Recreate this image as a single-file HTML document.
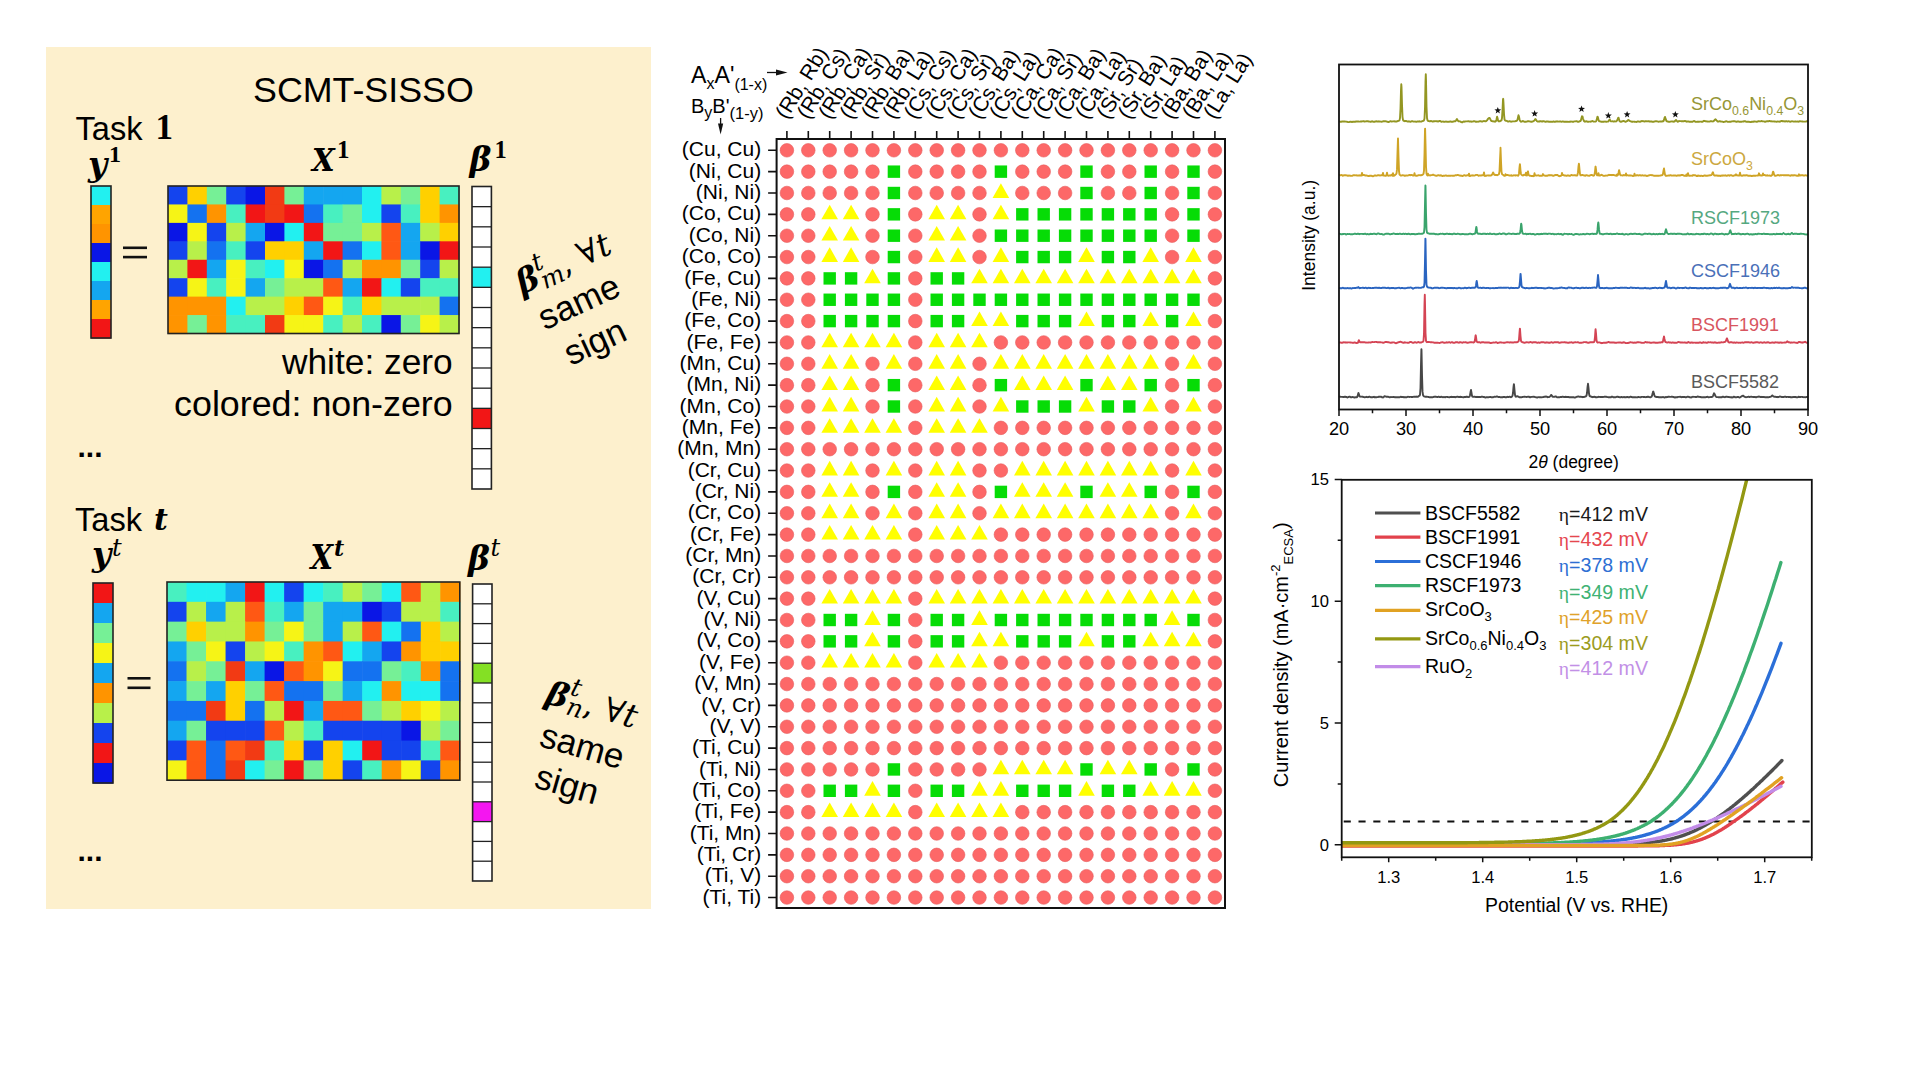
<!DOCTYPE html><html><head><meta charset="utf-8"><title>SCMT-SISSO</title><style>html,body{margin:0;padding:0;background:#fff;}body{width:1920px;height:1080px;overflow:hidden;}svg{display:block;}</style></head><body><svg width="1920" height="1080" viewBox="0 0 1920 1080"><rect x="46" y="47" width="605" height="862" fill="#fdf0cd"/>
<text x="253" y="101.8" font-family="'Liberation Sans', Arial, sans-serif" font-size="35.8">SCMT-SISSO</text>
<text x="75.5" y="139.8" font-family="'Liberation Sans', Arial, sans-serif" font-size="32.6">Task</text>
<text x="155.5" y="139.4" font-family="'Liberation Serif', 'DejaVu Serif', serif" font-size="35" font-weight="bold">1</text>
<text x="88" y="175.8" font-family="'DejaVu Serif', 'Liberation Serif', serif" font-weight="bold" font-style="italic" font-size="33">y</text>
<text x="109" y="161.8" font-family="'Liberation Serif', 'DejaVu Serif', serif" font-size="24" font-weight="bold">1</text>
<text transform="translate(312,170.6) scale(0.9,1)" font-family="'DejaVu Serif', 'Liberation Serif', serif" font-weight="bold" font-style="italic" font-size="32.5">X</text>
<text x="337" y="157.7" font-family="'Liberation Serif', 'DejaVu Serif', serif" font-size="25" font-weight="bold">1</text>
<text x="469.6" y="171.4" font-family="'DejaVu Serif', 'Liberation Serif', serif" font-weight="bold" font-style="italic" font-size="33">&#946;</text>
<text x="494.5" y="157.7" font-family="'Liberation Serif', 'DejaVu Serif', serif" font-size="24.5" font-weight="bold">1</text>
<rect x="168" y="186" width="20" height="19.04" fill="#1444ee"/>
<rect x="187.4" y="186" width="20" height="19.04" fill="#ffd000"/>
<rect x="206.8" y="186" width="20" height="19.04" fill="#76f096"/>
<rect x="226.2" y="186" width="20" height="19.04" fill="#1444ee"/>
<rect x="245.6" y="186" width="20" height="19.04" fill="#0a16e6"/>
<rect x="265" y="186" width="20" height="19.04" fill="#f23a14"/>
<rect x="284.4" y="186" width="20" height="19.04" fill="#76f096"/>
<rect x="303.8" y="186" width="20" height="19.04" fill="#14a6f0"/>
<rect x="323.2" y="186" width="20" height="19.04" fill="#14a6f0"/>
<rect x="342.6" y="186" width="20" height="19.04" fill="#14a6f0"/>
<rect x="362" y="186" width="20" height="19.04" fill="#22f0f0"/>
<rect x="381.4" y="186" width="20" height="19.04" fill="#b8f04a"/>
<rect x="400.8" y="186" width="20" height="19.04" fill="#76f096"/>
<rect x="420.2" y="186" width="20" height="19.04" fill="#ffd000"/>
<rect x="439.6" y="186" width="20" height="19.04" fill="#48f0c0"/>
<rect x="168" y="204.44" width="20" height="19.04" fill="#f6f416"/>
<rect x="187.4" y="204.44" width="20" height="19.04" fill="#1472f0"/>
<rect x="206.8" y="204.44" width="20" height="19.04" fill="#ff9400"/>
<rect x="226.2" y="204.44" width="20" height="19.04" fill="#48f0c0"/>
<rect x="245.6" y="204.44" width="20" height="19.04" fill="#f21616"/>
<rect x="265" y="204.44" width="20" height="19.04" fill="#f23a14"/>
<rect x="284.4" y="204.44" width="20" height="19.04" fill="#f21616"/>
<rect x="303.8" y="204.44" width="20" height="19.04" fill="#1472f0"/>
<rect x="323.2" y="204.44" width="20" height="19.04" fill="#48f0c0"/>
<rect x="342.6" y="204.44" width="20" height="19.04" fill="#76f096"/>
<rect x="362" y="204.44" width="20" height="19.04" fill="#22f0f0"/>
<rect x="381.4" y="204.44" width="20" height="19.04" fill="#1444ee"/>
<rect x="400.8" y="204.44" width="20" height="19.04" fill="#48f0c0"/>
<rect x="420.2" y="204.44" width="20" height="19.04" fill="#ffd000"/>
<rect x="439.6" y="204.44" width="20" height="19.04" fill="#ff9400"/>
<rect x="168" y="222.88" width="20" height="19.04" fill="#0a16e6"/>
<rect x="187.4" y="222.88" width="20" height="19.04" fill="#f6f416"/>
<rect x="206.8" y="222.88" width="20" height="19.04" fill="#1444ee"/>
<rect x="226.2" y="222.88" width="20" height="19.04" fill="#b8f04a"/>
<rect x="245.6" y="222.88" width="20" height="19.04" fill="#14a6f0"/>
<rect x="265" y="222.88" width="20" height="19.04" fill="#0a16e6"/>
<rect x="284.4" y="222.88" width="20" height="19.04" fill="#22f0f0"/>
<rect x="303.8" y="222.88" width="20" height="19.04" fill="#f21616"/>
<rect x="323.2" y="222.88" width="20" height="19.04" fill="#76f096"/>
<rect x="342.6" y="222.88" width="20" height="19.04" fill="#76f096"/>
<rect x="362" y="222.88" width="20" height="19.04" fill="#b8f04a"/>
<rect x="381.4" y="222.88" width="20" height="19.04" fill="#ff5814"/>
<rect x="400.8" y="222.88" width="20" height="19.04" fill="#14a6f0"/>
<rect x="420.2" y="222.88" width="20" height="19.04" fill="#b8f04a"/>
<rect x="439.6" y="222.88" width="20" height="19.04" fill="#ffd000"/>
<rect x="168" y="241.31" width="20" height="19.04" fill="#1444ee"/>
<rect x="187.4" y="241.31" width="20" height="19.04" fill="#b8f04a"/>
<rect x="206.8" y="241.31" width="20" height="19.04" fill="#1472f0"/>
<rect x="226.2" y="241.31" width="20" height="19.04" fill="#48f0c0"/>
<rect x="245.6" y="241.31" width="20" height="19.04" fill="#1444ee"/>
<rect x="265" y="241.31" width="20" height="19.04" fill="#ffd000"/>
<rect x="284.4" y="241.31" width="20" height="19.04" fill="#ffd000"/>
<rect x="303.8" y="241.31" width="20" height="19.04" fill="#14a6f0"/>
<rect x="323.2" y="241.31" width="20" height="19.04" fill="#f21616"/>
<rect x="342.6" y="241.31" width="20" height="19.04" fill="#1472f0"/>
<rect x="362" y="241.31" width="20" height="19.04" fill="#22f0f0"/>
<rect x="381.4" y="241.31" width="20" height="19.04" fill="#ff5814"/>
<rect x="400.8" y="241.31" width="20" height="19.04" fill="#14a6f0"/>
<rect x="420.2" y="241.31" width="20" height="19.04" fill="#0a16e6"/>
<rect x="439.6" y="241.31" width="20" height="19.04" fill="#f21616"/>
<rect x="168" y="259.75" width="20" height="19.04" fill="#b8f04a"/>
<rect x="187.4" y="259.75" width="20" height="19.04" fill="#f21616"/>
<rect x="206.8" y="259.75" width="20" height="19.04" fill="#14a6f0"/>
<rect x="226.2" y="259.75" width="20" height="19.04" fill="#f6f416"/>
<rect x="245.6" y="259.75" width="20" height="19.04" fill="#48f0c0"/>
<rect x="265" y="259.75" width="20" height="19.04" fill="#22f0f0"/>
<rect x="284.4" y="259.75" width="20" height="19.04" fill="#f6f416"/>
<rect x="303.8" y="259.75" width="20" height="19.04" fill="#0a16e6"/>
<rect x="323.2" y="259.75" width="20" height="19.04" fill="#1472f0"/>
<rect x="342.6" y="259.75" width="20" height="19.04" fill="#b8f04a"/>
<rect x="362" y="259.75" width="20" height="19.04" fill="#ff9400"/>
<rect x="381.4" y="259.75" width="20" height="19.04" fill="#ff9400"/>
<rect x="400.8" y="259.75" width="20" height="19.04" fill="#76f096"/>
<rect x="420.2" y="259.75" width="20" height="19.04" fill="#1444ee"/>
<rect x="439.6" y="259.75" width="20" height="19.04" fill="#b8f04a"/>
<rect x="168" y="278.19" width="20" height="19.04" fill="#1444ee"/>
<rect x="187.4" y="278.19" width="20" height="19.04" fill="#f6f416"/>
<rect x="206.8" y="278.19" width="20" height="19.04" fill="#48f0c0"/>
<rect x="226.2" y="278.19" width="20" height="19.04" fill="#f6f416"/>
<rect x="245.6" y="278.19" width="20" height="19.04" fill="#14a6f0"/>
<rect x="265" y="278.19" width="20" height="19.04" fill="#76f096"/>
<rect x="284.4" y="278.19" width="20" height="19.04" fill="#b8f04a"/>
<rect x="303.8" y="278.19" width="20" height="19.04" fill="#b8f04a"/>
<rect x="323.2" y="278.19" width="20" height="19.04" fill="#ff5814"/>
<rect x="342.6" y="278.19" width="20" height="19.04" fill="#14a6f0"/>
<rect x="362" y="278.19" width="20" height="19.04" fill="#f21616"/>
<rect x="381.4" y="278.19" width="20" height="19.04" fill="#22f0f0"/>
<rect x="400.8" y="278.19" width="20" height="19.04" fill="#1444ee"/>
<rect x="420.2" y="278.19" width="20" height="19.04" fill="#48f0c0"/>
<rect x="439.6" y="278.19" width="20" height="19.04" fill="#48f0c0"/>
<rect x="168" y="296.62" width="20" height="19.04" fill="#ff9400"/>
<rect x="187.4" y="296.62" width="20" height="19.04" fill="#ff9400"/>
<rect x="206.8" y="296.62" width="20" height="19.04" fill="#ff9400"/>
<rect x="226.2" y="296.62" width="20" height="19.04" fill="#22f0f0"/>
<rect x="245.6" y="296.62" width="20" height="19.04" fill="#b8f04a"/>
<rect x="265" y="296.62" width="20" height="19.04" fill="#b8f04a"/>
<rect x="284.4" y="296.62" width="20" height="19.04" fill="#ffd000"/>
<rect x="303.8" y="296.62" width="20" height="19.04" fill="#ff5814"/>
<rect x="323.2" y="296.62" width="20" height="19.04" fill="#f6f416"/>
<rect x="342.6" y="296.62" width="20" height="19.04" fill="#48f0c0"/>
<rect x="362" y="296.62" width="20" height="19.04" fill="#ffd000"/>
<rect x="381.4" y="296.62" width="20" height="19.04" fill="#b8f04a"/>
<rect x="400.8" y="296.62" width="20" height="19.04" fill="#b8f04a"/>
<rect x="420.2" y="296.62" width="20" height="19.04" fill="#b8f04a"/>
<rect x="439.6" y="296.62" width="20" height="19.04" fill="#1472f0"/>
<rect x="168" y="315.06" width="20" height="19.04" fill="#ff9400"/>
<rect x="187.4" y="315.06" width="20" height="19.04" fill="#76f096"/>
<rect x="206.8" y="315.06" width="20" height="19.04" fill="#ff9400"/>
<rect x="226.2" y="315.06" width="20" height="19.04" fill="#48f0c0"/>
<rect x="245.6" y="315.06" width="20" height="19.04" fill="#48f0c0"/>
<rect x="265" y="315.06" width="20" height="19.04" fill="#f23a14"/>
<rect x="284.4" y="315.06" width="20" height="19.04" fill="#f6f416"/>
<rect x="303.8" y="315.06" width="20" height="19.04" fill="#f6f416"/>
<rect x="323.2" y="315.06" width="20" height="19.04" fill="#48f0c0"/>
<rect x="342.6" y="315.06" width="20" height="19.04" fill="#b8f04a"/>
<rect x="362" y="315.06" width="20" height="19.04" fill="#48f0c0"/>
<rect x="381.4" y="315.06" width="20" height="19.04" fill="#0a16e6"/>
<rect x="400.8" y="315.06" width="20" height="19.04" fill="#76f096"/>
<rect x="420.2" y="315.06" width="20" height="19.04" fill="#f6f416"/>
<rect x="439.6" y="315.06" width="20" height="19.04" fill="#b8f04a"/>
<rect x="168" y="186" width="291" height="147.5" fill="none" stroke="#222" stroke-width="1.6"/>
<rect x="91" y="186" width="20" height="19.6" fill="#22f0f0"/>
<rect x="91" y="205" width="20" height="19.6" fill="#ffa400"/>
<rect x="91" y="224" width="20" height="19.6" fill="#ff9400"/>
<rect x="91" y="243" width="20" height="19.6" fill="#0a16e6"/>
<rect x="91" y="262" width="20" height="19.6" fill="#22f0f0"/>
<rect x="91" y="281" width="20" height="19.6" fill="#14a6f0"/>
<rect x="91" y="300" width="20" height="19.6" fill="#ffa400"/>
<rect x="91" y="319" width="20" height="19.6" fill="#f21616"/>
<rect x="91" y="186" width="20" height="152" fill="none" stroke="#222" stroke-width="1.6"/>
<rect x="472" y="186.5" width="19.4" height="20.77" fill="#ffffff"/>
<rect x="472" y="206.67" width="19.4" height="20.77" fill="#ffffff"/>
<rect x="472" y="226.83" width="19.4" height="20.77" fill="#ffffff"/>
<rect x="472" y="247" width="19.4" height="20.77" fill="#ffffff"/>
<rect x="472" y="267.17" width="19.4" height="20.77" fill="#22f0f0"/>
<rect x="472" y="287.33" width="19.4" height="20.77" fill="#ffffff"/>
<rect x="472" y="307.5" width="19.4" height="20.77" fill="#ffffff"/>
<rect x="472" y="327.67" width="19.4" height="20.77" fill="#ffffff"/>
<rect x="472" y="347.83" width="19.4" height="20.77" fill="#ffffff"/>
<rect x="472" y="368" width="19.4" height="20.77" fill="#ffffff"/>
<rect x="472" y="388.17" width="19.4" height="20.77" fill="#ffffff"/>
<rect x="472" y="408.33" width="19.4" height="20.77" fill="#f21616"/>
<rect x="472" y="428.5" width="19.4" height="20.77" fill="#ffffff"/>
<rect x="472" y="448.67" width="19.4" height="20.77" fill="#ffffff"/>
<rect x="472" y="468.83" width="19.4" height="20.77" fill="#ffffff"/>
<line x1="472" y1="206.67" x2="491.4" y2="206.67" stroke="#222" stroke-width="1.3"/>
<line x1="472" y1="226.83" x2="491.4" y2="226.83" stroke="#222" stroke-width="1.3"/>
<line x1="472" y1="247" x2="491.4" y2="247" stroke="#222" stroke-width="1.3"/>
<line x1="472" y1="267.17" x2="491.4" y2="267.17" stroke="#222" stroke-width="1.3"/>
<line x1="472" y1="287.33" x2="491.4" y2="287.33" stroke="#222" stroke-width="1.3"/>
<line x1="472" y1="307.5" x2="491.4" y2="307.5" stroke="#222" stroke-width="1.3"/>
<line x1="472" y1="327.67" x2="491.4" y2="327.67" stroke="#222" stroke-width="1.3"/>
<line x1="472" y1="347.83" x2="491.4" y2="347.83" stroke="#222" stroke-width="1.3"/>
<line x1="472" y1="368" x2="491.4" y2="368" stroke="#222" stroke-width="1.3"/>
<line x1="472" y1="388.17" x2="491.4" y2="388.17" stroke="#222" stroke-width="1.3"/>
<line x1="472" y1="408.33" x2="491.4" y2="408.33" stroke="#222" stroke-width="1.3"/>
<line x1="472" y1="428.5" x2="491.4" y2="428.5" stroke="#222" stroke-width="1.3"/>
<line x1="472" y1="448.67" x2="491.4" y2="448.67" stroke="#222" stroke-width="1.3"/>
<line x1="472" y1="468.83" x2="491.4" y2="468.83" stroke="#222" stroke-width="1.3"/>
<rect x="472" y="186.5" width="19.4" height="302.5" fill="none" stroke="#222" stroke-width="1.6"/>
<rect x="123" y="246.5" width="24" height="2.6" fill="#111"/>
<rect x="123" y="255.8" width="24" height="2.6" fill="#111"/>
<text x="452.7" y="373.8" text-anchor="end" font-family="'Liberation Sans', Arial, sans-serif" font-size="35.3">white: zero</text>
<text x="452.7" y="416.4" text-anchor="end" font-family="'Liberation Sans', Arial, sans-serif" font-size="35.8">colored: non-zero</text>
<text x="77.5" y="457" font-family="'Liberation Sans', Arial, sans-serif" font-size="30" font-weight="bold">...</text>
<g transform="translate(580,304.4) rotate(-24.6)" font-family="'Liberation Sans', Arial, sans-serif" font-size="35" text-anchor="middle">
<text x="0" y="9">same</text><text x="-2" y="52">sign</text>
<g transform="translate(2,-33)" text-anchor="middle"><text x="0" y="0" font-family="'DejaVu Serif', 'Liberation Serif', serif" font-size="33"><tspan font-weight="bold" font-style="italic">&#946;</tspan><tspan font-style="italic" font-size="25" dy="-15">t</tspan><tspan font-style="italic" font-size="25" dx="-9" dy="20">m</tspan><tspan dy="-5">, &#8704;</tspan><tspan font-style="italic">t</tspan></text></g>
</g>
<text x="75" y="530.8" font-family="'Liberation Sans', Arial, sans-serif" font-size="32.6">Task</text>
<text x="154" y="530" font-family="'DejaVu Serif', 'Liberation Serif', serif" font-weight="bold" font-style="italic" font-size="30">t</text>
<text x="92" y="566" font-family="'DejaVu Serif', 'Liberation Serif', serif" font-weight="bold" font-style="italic" font-size="33">y</text>
<text x="112" y="556.2" font-family="'DejaVu Serif', 'Liberation Serif', serif" font-size="24" font-style="italic">t</text>
<text transform="translate(310.5,569.1) scale(0.88,1)" font-family="'DejaVu Serif', 'Liberation Serif', serif" font-weight="bold" font-style="italic" font-size="33">X</text>
<text x="334" y="556" font-family="'DejaVu Serif', 'Liberation Serif', serif" font-weight="bold" font-style="italic" font-size="22">t</text>
<text x="468" y="569.5" font-family="'DejaVu Serif', 'Liberation Serif', serif" font-weight="bold" font-style="italic" font-size="33">&#946;</text>
<text x="490.5" y="556" font-family="'DejaVu Serif', 'Liberation Serif', serif" font-size="24" font-style="italic">t</text>
<rect x="167" y="582" width="20.12" height="20.42" fill="#48f0c0"/>
<rect x="186.52" y="582" width="20.12" height="20.42" fill="#22f0f0"/>
<rect x="206.04" y="582" width="20.12" height="20.42" fill="#22f0f0"/>
<rect x="225.56" y="582" width="20.12" height="20.42" fill="#14a6f0"/>
<rect x="245.08" y="582" width="20.12" height="20.42" fill="#f21616"/>
<rect x="264.6" y="582" width="20.12" height="20.42" fill="#22f0f0"/>
<rect x="284.12" y="582" width="20.12" height="20.42" fill="#1444ee"/>
<rect x="303.64" y="582" width="20.12" height="20.42" fill="#22f0f0"/>
<rect x="323.16" y="582" width="20.12" height="20.42" fill="#48f0c0"/>
<rect x="342.68" y="582" width="20.12" height="20.42" fill="#b8f04a"/>
<rect x="362.2" y="582" width="20.12" height="20.42" fill="#76f096"/>
<rect x="381.72" y="582" width="20.12" height="20.42" fill="#22f0f0"/>
<rect x="401.24" y="582" width="20.12" height="20.42" fill="#ff5814"/>
<rect x="420.76" y="582" width="20.12" height="20.42" fill="#b8f04a"/>
<rect x="440.28" y="582" width="20.12" height="20.42" fill="#ff9400"/>
<rect x="167" y="601.82" width="20.12" height="20.42" fill="#1444ee"/>
<rect x="186.52" y="601.82" width="20.12" height="20.42" fill="#b8f04a"/>
<rect x="206.04" y="601.82" width="20.12" height="20.42" fill="#14a6f0"/>
<rect x="225.56" y="601.82" width="20.12" height="20.42" fill="#b8f04a"/>
<rect x="245.08" y="601.82" width="20.12" height="20.42" fill="#ff5814"/>
<rect x="264.6" y="601.82" width="20.12" height="20.42" fill="#48f0c0"/>
<rect x="284.12" y="601.82" width="20.12" height="20.42" fill="#14a6f0"/>
<rect x="303.64" y="601.82" width="20.12" height="20.42" fill="#76f096"/>
<rect x="323.16" y="601.82" width="20.12" height="20.42" fill="#14a6f0"/>
<rect x="342.68" y="601.82" width="20.12" height="20.42" fill="#14a6f0"/>
<rect x="362.2" y="601.82" width="20.12" height="20.42" fill="#0a16e6"/>
<rect x="381.72" y="601.82" width="20.12" height="20.42" fill="#1444ee"/>
<rect x="401.24" y="601.82" width="20.12" height="20.42" fill="#b8f04a"/>
<rect x="420.76" y="601.82" width="20.12" height="20.42" fill="#b8f04a"/>
<rect x="440.28" y="601.82" width="20.12" height="20.42" fill="#48f0c0"/>
<rect x="167" y="621.64" width="20.12" height="20.42" fill="#76f096"/>
<rect x="186.52" y="621.64" width="20.12" height="20.42" fill="#ffd000"/>
<rect x="206.04" y="621.64" width="20.12" height="20.42" fill="#b8f04a"/>
<rect x="225.56" y="621.64" width="20.12" height="20.42" fill="#b8f04a"/>
<rect x="245.08" y="621.64" width="20.12" height="20.42" fill="#ff9400"/>
<rect x="264.6" y="621.64" width="20.12" height="20.42" fill="#76f096"/>
<rect x="284.12" y="621.64" width="20.12" height="20.42" fill="#f6f416"/>
<rect x="303.64" y="621.64" width="20.12" height="20.42" fill="#76f096"/>
<rect x="323.16" y="621.64" width="20.12" height="20.42" fill="#14a6f0"/>
<rect x="342.68" y="621.64" width="20.12" height="20.42" fill="#b8f04a"/>
<rect x="362.2" y="621.64" width="20.12" height="20.42" fill="#ff5814"/>
<rect x="381.72" y="621.64" width="20.12" height="20.42" fill="#22f0f0"/>
<rect x="401.24" y="621.64" width="20.12" height="20.42" fill="#1472f0"/>
<rect x="420.76" y="621.64" width="20.12" height="20.42" fill="#ffd000"/>
<rect x="440.28" y="621.64" width="20.12" height="20.42" fill="#b8f04a"/>
<rect x="167" y="641.46" width="20.12" height="20.42" fill="#14a6f0"/>
<rect x="186.52" y="641.46" width="20.12" height="20.42" fill="#76f096"/>
<rect x="206.04" y="641.46" width="20.12" height="20.42" fill="#f6f416"/>
<rect x="225.56" y="641.46" width="20.12" height="20.42" fill="#1444ee"/>
<rect x="245.08" y="641.46" width="20.12" height="20.42" fill="#b8f04a"/>
<rect x="264.6" y="641.46" width="20.12" height="20.42" fill="#f6f416"/>
<rect x="284.12" y="641.46" width="20.12" height="20.42" fill="#48f0c0"/>
<rect x="303.64" y="641.46" width="20.12" height="20.42" fill="#ff9400"/>
<rect x="323.16" y="641.46" width="20.12" height="20.42" fill="#ff5814"/>
<rect x="342.68" y="641.46" width="20.12" height="20.42" fill="#22f0f0"/>
<rect x="362.2" y="641.46" width="20.12" height="20.42" fill="#14a6f0"/>
<rect x="381.72" y="641.46" width="20.12" height="20.42" fill="#1444ee"/>
<rect x="401.24" y="641.46" width="20.12" height="20.42" fill="#ff9400"/>
<rect x="420.76" y="641.46" width="20.12" height="20.42" fill="#ffd000"/>
<rect x="440.28" y="641.46" width="20.12" height="20.42" fill="#ffd000"/>
<rect x="167" y="661.28" width="20.12" height="20.42" fill="#1472f0"/>
<rect x="186.52" y="661.28" width="20.12" height="20.42" fill="#b8f04a"/>
<rect x="206.04" y="661.28" width="20.12" height="20.42" fill="#76f096"/>
<rect x="225.56" y="661.28" width="20.12" height="20.42" fill="#f23a14"/>
<rect x="245.08" y="661.28" width="20.12" height="20.42" fill="#14a6f0"/>
<rect x="264.6" y="661.28" width="20.12" height="20.42" fill="#0a16e6"/>
<rect x="284.12" y="661.28" width="20.12" height="20.42" fill="#ff5814"/>
<rect x="303.64" y="661.28" width="20.12" height="20.42" fill="#ff9400"/>
<rect x="323.16" y="661.28" width="20.12" height="20.42" fill="#f6f416"/>
<rect x="342.68" y="661.28" width="20.12" height="20.42" fill="#1472f0"/>
<rect x="362.2" y="661.28" width="20.12" height="20.42" fill="#1472f0"/>
<rect x="381.72" y="661.28" width="20.12" height="20.42" fill="#76f096"/>
<rect x="401.24" y="661.28" width="20.12" height="20.42" fill="#48f0c0"/>
<rect x="420.76" y="661.28" width="20.12" height="20.42" fill="#ff9400"/>
<rect x="440.28" y="661.28" width="20.12" height="20.42" fill="#1472f0"/>
<rect x="167" y="681.1" width="20.12" height="20.42" fill="#14a6f0"/>
<rect x="186.52" y="681.1" width="20.12" height="20.42" fill="#76f096"/>
<rect x="206.04" y="681.1" width="20.12" height="20.42" fill="#14a6f0"/>
<rect x="225.56" y="681.1" width="20.12" height="20.42" fill="#ffd000"/>
<rect x="245.08" y="681.1" width="20.12" height="20.42" fill="#76f096"/>
<rect x="264.6" y="681.1" width="20.12" height="20.42" fill="#ff5814"/>
<rect x="284.12" y="681.1" width="20.12" height="20.42" fill="#1472f0"/>
<rect x="303.64" y="681.1" width="20.12" height="20.42" fill="#1472f0"/>
<rect x="323.16" y="681.1" width="20.12" height="20.42" fill="#76f096"/>
<rect x="342.68" y="681.1" width="20.12" height="20.42" fill="#14a6f0"/>
<rect x="362.2" y="681.1" width="20.12" height="20.42" fill="#22f0f0"/>
<rect x="381.72" y="681.1" width="20.12" height="20.42" fill="#ff9400"/>
<rect x="401.24" y="681.1" width="20.12" height="20.42" fill="#22f0f0"/>
<rect x="420.76" y="681.1" width="20.12" height="20.42" fill="#22f0f0"/>
<rect x="440.28" y="681.1" width="20.12" height="20.42" fill="#1472f0"/>
<rect x="167" y="700.92" width="20.12" height="20.42" fill="#1472f0"/>
<rect x="186.52" y="700.92" width="20.12" height="20.42" fill="#1472f0"/>
<rect x="206.04" y="700.92" width="20.12" height="20.42" fill="#f23a14"/>
<rect x="225.56" y="700.92" width="20.12" height="20.42" fill="#ffd000"/>
<rect x="245.08" y="700.92" width="20.12" height="20.42" fill="#1472f0"/>
<rect x="264.6" y="700.92" width="20.12" height="20.42" fill="#b8f04a"/>
<rect x="284.12" y="700.92" width="20.12" height="20.42" fill="#f21616"/>
<rect x="303.64" y="700.92" width="20.12" height="20.42" fill="#14a6f0"/>
<rect x="323.16" y="700.92" width="20.12" height="20.42" fill="#ff5814"/>
<rect x="342.68" y="700.92" width="20.12" height="20.42" fill="#ff5814"/>
<rect x="362.2" y="700.92" width="20.12" height="20.42" fill="#76f096"/>
<rect x="381.72" y="700.92" width="20.12" height="20.42" fill="#b8f04a"/>
<rect x="401.24" y="700.92" width="20.12" height="20.42" fill="#ffd000"/>
<rect x="420.76" y="700.92" width="20.12" height="20.42" fill="#f6f416"/>
<rect x="440.28" y="700.92" width="20.12" height="20.42" fill="#b8f04a"/>
<rect x="167" y="720.74" width="20.12" height="20.42" fill="#14a6f0"/>
<rect x="186.52" y="720.74" width="20.12" height="20.42" fill="#76f096"/>
<rect x="206.04" y="720.74" width="20.12" height="20.42" fill="#1444ee"/>
<rect x="225.56" y="720.74" width="20.12" height="20.42" fill="#1444ee"/>
<rect x="245.08" y="720.74" width="20.12" height="20.42" fill="#1444ee"/>
<rect x="264.6" y="720.74" width="20.12" height="20.42" fill="#ff5814"/>
<rect x="284.12" y="720.74" width="20.12" height="20.42" fill="#b8f04a"/>
<rect x="303.64" y="720.74" width="20.12" height="20.42" fill="#48f0c0"/>
<rect x="323.16" y="720.74" width="20.12" height="20.42" fill="#1444ee"/>
<rect x="342.68" y="720.74" width="20.12" height="20.42" fill="#1444ee"/>
<rect x="362.2" y="720.74" width="20.12" height="20.42" fill="#1444ee"/>
<rect x="381.72" y="720.74" width="20.12" height="20.42" fill="#1444ee"/>
<rect x="401.24" y="720.74" width="20.12" height="20.42" fill="#0a16e6"/>
<rect x="420.76" y="720.74" width="20.12" height="20.42" fill="#b8f04a"/>
<rect x="440.28" y="720.74" width="20.12" height="20.42" fill="#76f096"/>
<rect x="167" y="740.56" width="20.12" height="20.42" fill="#1444ee"/>
<rect x="186.52" y="740.56" width="20.12" height="20.42" fill="#ff5814"/>
<rect x="206.04" y="740.56" width="20.12" height="20.42" fill="#1472f0"/>
<rect x="225.56" y="740.56" width="20.12" height="20.42" fill="#ff5814"/>
<rect x="245.08" y="740.56" width="20.12" height="20.42" fill="#f23a14"/>
<rect x="264.6" y="740.56" width="20.12" height="20.42" fill="#48f0c0"/>
<rect x="284.12" y="740.56" width="20.12" height="20.42" fill="#ffd000"/>
<rect x="303.64" y="740.56" width="20.12" height="20.42" fill="#1444ee"/>
<rect x="323.16" y="740.56" width="20.12" height="20.42" fill="#ffd000"/>
<rect x="342.68" y="740.56" width="20.12" height="20.42" fill="#22f0f0"/>
<rect x="362.2" y="740.56" width="20.12" height="20.42" fill="#f21616"/>
<rect x="381.72" y="740.56" width="20.12" height="20.42" fill="#1444ee"/>
<rect x="401.24" y="740.56" width="20.12" height="20.42" fill="#1444ee"/>
<rect x="420.76" y="740.56" width="20.12" height="20.42" fill="#48f0c0"/>
<rect x="440.28" y="740.56" width="20.12" height="20.42" fill="#ff5814"/>
<rect x="167" y="760.38" width="20.12" height="20.42" fill="#f6f416"/>
<rect x="186.52" y="760.38" width="20.12" height="20.42" fill="#ff5814"/>
<rect x="206.04" y="760.38" width="20.12" height="20.42" fill="#1472f0"/>
<rect x="225.56" y="760.38" width="20.12" height="20.42" fill="#f23a14"/>
<rect x="245.08" y="760.38" width="20.12" height="20.42" fill="#22f0f0"/>
<rect x="264.6" y="760.38" width="20.12" height="20.42" fill="#76f096"/>
<rect x="284.12" y="760.38" width="20.12" height="20.42" fill="#f21616"/>
<rect x="303.64" y="760.38" width="20.12" height="20.42" fill="#76f096"/>
<rect x="323.16" y="760.38" width="20.12" height="20.42" fill="#ffd000"/>
<rect x="342.68" y="760.38" width="20.12" height="20.42" fill="#1444ee"/>
<rect x="362.2" y="760.38" width="20.12" height="20.42" fill="#48f0c0"/>
<rect x="381.72" y="760.38" width="20.12" height="20.42" fill="#ff9400"/>
<rect x="401.24" y="760.38" width="20.12" height="20.42" fill="#f6f416"/>
<rect x="420.76" y="760.38" width="20.12" height="20.42" fill="#1444ee"/>
<rect x="440.28" y="760.38" width="20.12" height="20.42" fill="#ff9400"/>
<rect x="167" y="582" width="292.8" height="198.2" fill="none" stroke="#222" stroke-width="1.6"/>
<rect x="93" y="583" width="20" height="20.6" fill="#f21616"/>
<rect x="93" y="603" width="20" height="20.6" fill="#14a6f0"/>
<rect x="93" y="623" width="20" height="20.6" fill="#76f096"/>
<rect x="93" y="643" width="20" height="20.6" fill="#f6f416"/>
<rect x="93" y="663" width="20" height="20.6" fill="#14a6f0"/>
<rect x="93" y="683" width="20" height="20.6" fill="#ff9400"/>
<rect x="93" y="703" width="20" height="20.6" fill="#b8f04a"/>
<rect x="93" y="723" width="20" height="20.6" fill="#1444ee"/>
<rect x="93" y="743" width="20" height="20.6" fill="#f21616"/>
<rect x="93" y="763" width="20" height="20.6" fill="#0a16e6"/>
<rect x="93" y="583" width="20" height="200" fill="none" stroke="#222" stroke-width="1.6"/>
<rect x="472.6" y="584" width="19.4" height="20.4" fill="#ffffff"/>
<rect x="472.6" y="603.8" width="19.4" height="20.4" fill="#ffffff"/>
<rect x="472.6" y="623.6" width="19.4" height="20.4" fill="#ffffff"/>
<rect x="472.6" y="643.4" width="19.4" height="20.4" fill="#ffffff"/>
<rect x="472.6" y="663.2" width="19.4" height="20.4" fill="#84e024"/>
<rect x="472.6" y="683" width="19.4" height="20.4" fill="#ffffff"/>
<rect x="472.6" y="702.8" width="19.4" height="20.4" fill="#ffffff"/>
<rect x="472.6" y="722.6" width="19.4" height="20.4" fill="#ffffff"/>
<rect x="472.6" y="742.4" width="19.4" height="20.4" fill="#ffffff"/>
<rect x="472.6" y="762.2" width="19.4" height="20.4" fill="#ffffff"/>
<rect x="472.6" y="782" width="19.4" height="20.4" fill="#ffffff"/>
<rect x="472.6" y="801.8" width="19.4" height="20.4" fill="#f416f0"/>
<rect x="472.6" y="821.6" width="19.4" height="20.4" fill="#ffffff"/>
<rect x="472.6" y="841.4" width="19.4" height="20.4" fill="#ffffff"/>
<rect x="472.6" y="861.2" width="19.4" height="20.4" fill="#ffffff"/>
<line x1="472.6" y1="603.8" x2="492" y2="603.8" stroke="#222" stroke-width="1.3"/>
<line x1="472.6" y1="623.6" x2="492" y2="623.6" stroke="#222" stroke-width="1.3"/>
<line x1="472.6" y1="643.4" x2="492" y2="643.4" stroke="#222" stroke-width="1.3"/>
<line x1="472.6" y1="663.2" x2="492" y2="663.2" stroke="#222" stroke-width="1.3"/>
<line x1="472.6" y1="683" x2="492" y2="683" stroke="#222" stroke-width="1.3"/>
<line x1="472.6" y1="702.8" x2="492" y2="702.8" stroke="#222" stroke-width="1.3"/>
<line x1="472.6" y1="722.6" x2="492" y2="722.6" stroke="#222" stroke-width="1.3"/>
<line x1="472.6" y1="742.4" x2="492" y2="742.4" stroke="#222" stroke-width="1.3"/>
<line x1="472.6" y1="762.2" x2="492" y2="762.2" stroke="#222" stroke-width="1.3"/>
<line x1="472.6" y1="782" x2="492" y2="782" stroke="#222" stroke-width="1.3"/>
<line x1="472.6" y1="801.8" x2="492" y2="801.8" stroke="#222" stroke-width="1.3"/>
<line x1="472.6" y1="821.6" x2="492" y2="821.6" stroke="#222" stroke-width="1.3"/>
<line x1="472.6" y1="841.4" x2="492" y2="841.4" stroke="#222" stroke-width="1.3"/>
<line x1="472.6" y1="861.2" x2="492" y2="861.2" stroke="#222" stroke-width="1.3"/>
<rect x="472.6" y="584" width="19.4" height="297" fill="none" stroke="#222" stroke-width="1.6"/>
<rect x="127.5" y="677" width="23" height="2.6" fill="#111"/>
<rect x="127.5" y="686.5" width="23" height="2.6" fill="#111"/>
<text x="77.5" y="861" font-family="'Liberation Sans', Arial, sans-serif" font-size="30" font-weight="bold">...</text>
<g transform="translate(581.5,748.9) rotate(16)" font-family="'Liberation Sans', Arial, sans-serif" font-size="35" text-anchor="middle">
<text x="0" y="9">same</text><text x="-4" y="50">sign</text>
<g transform="translate(-2,-34)" text-anchor="middle"><text x="0" y="0" font-family="'DejaVu Serif', 'Liberation Serif', serif" font-size="33"><tspan font-weight="bold" font-style="italic">&#946;</tspan><tspan font-style="italic" font-size="25" dy="-15">t</tspan><tspan font-style="italic" font-size="25" dx="-9" dy="20">n</tspan><tspan dy="-5">, &#8704;</tspan><tspan font-style="italic">t</tspan></text></g>
</g>
<circle cx="786.9" cy="150.3" r="6.8" fill="#fd6868" stroke="#e65c5c" stroke-width="0.6"/>
<circle cx="808.3" cy="150.3" r="6.8" fill="#fd6868" stroke="#e65c5c" stroke-width="0.6"/>
<circle cx="829.7" cy="150.3" r="6.8" fill="#fd6868" stroke="#e65c5c" stroke-width="0.6"/>
<circle cx="851.1" cy="150.3" r="6.8" fill="#fd6868" stroke="#e65c5c" stroke-width="0.6"/>
<circle cx="872.5" cy="150.3" r="6.8" fill="#fd6868" stroke="#e65c5c" stroke-width="0.6"/>
<circle cx="893.9" cy="150.3" r="6.8" fill="#fd6868" stroke="#e65c5c" stroke-width="0.6"/>
<circle cx="915.3" cy="150.3" r="6.8" fill="#fd6868" stroke="#e65c5c" stroke-width="0.6"/>
<circle cx="936.7" cy="150.3" r="6.8" fill="#fd6868" stroke="#e65c5c" stroke-width="0.6"/>
<circle cx="958.1" cy="150.3" r="6.8" fill="#fd6868" stroke="#e65c5c" stroke-width="0.6"/>
<circle cx="979.5" cy="150.3" r="6.8" fill="#fd6868" stroke="#e65c5c" stroke-width="0.6"/>
<circle cx="1000.9" cy="150.3" r="6.8" fill="#fd6868" stroke="#e65c5c" stroke-width="0.6"/>
<circle cx="1022.3" cy="150.3" r="6.8" fill="#fd6868" stroke="#e65c5c" stroke-width="0.6"/>
<circle cx="1043.7" cy="150.3" r="6.8" fill="#fd6868" stroke="#e65c5c" stroke-width="0.6"/>
<circle cx="1065.1" cy="150.3" r="6.8" fill="#fd6868" stroke="#e65c5c" stroke-width="0.6"/>
<circle cx="1086.5" cy="150.3" r="6.8" fill="#fd6868" stroke="#e65c5c" stroke-width="0.6"/>
<circle cx="1107.9" cy="150.3" r="6.8" fill="#fd6868" stroke="#e65c5c" stroke-width="0.6"/>
<circle cx="1129.3" cy="150.3" r="6.8" fill="#fd6868" stroke="#e65c5c" stroke-width="0.6"/>
<circle cx="1150.7" cy="150.3" r="6.8" fill="#fd6868" stroke="#e65c5c" stroke-width="0.6"/>
<circle cx="1172.1" cy="150.3" r="6.8" fill="#fd6868" stroke="#e65c5c" stroke-width="0.6"/>
<circle cx="1193.5" cy="150.3" r="6.8" fill="#fd6868" stroke="#e65c5c" stroke-width="0.6"/>
<circle cx="1214.9" cy="150.3" r="6.8" fill="#fd6868" stroke="#e65c5c" stroke-width="0.6"/>
<circle cx="786.9" cy="171.65" r="6.8" fill="#fd6868" stroke="#e65c5c" stroke-width="0.6"/>
<circle cx="808.3" cy="171.65" r="6.8" fill="#fd6868" stroke="#e65c5c" stroke-width="0.6"/>
<circle cx="829.7" cy="171.65" r="6.8" fill="#fd6868" stroke="#e65c5c" stroke-width="0.6"/>
<circle cx="851.1" cy="171.65" r="6.8" fill="#fd6868" stroke="#e65c5c" stroke-width="0.6"/>
<circle cx="872.5" cy="171.65" r="6.8" fill="#fd6868" stroke="#e65c5c" stroke-width="0.6"/>
<rect x="887.7" y="165.45" width="12.4" height="12.4" fill="#06dc06"/>
<circle cx="915.3" cy="171.65" r="6.8" fill="#fd6868" stroke="#e65c5c" stroke-width="0.6"/>
<circle cx="936.7" cy="171.65" r="6.8" fill="#fd6868" stroke="#e65c5c" stroke-width="0.6"/>
<circle cx="958.1" cy="171.65" r="6.8" fill="#fd6868" stroke="#e65c5c" stroke-width="0.6"/>
<circle cx="979.5" cy="171.65" r="6.8" fill="#fd6868" stroke="#e65c5c" stroke-width="0.6"/>
<rect x="994.7" y="165.45" width="12.4" height="12.4" fill="#06dc06"/>
<circle cx="1022.3" cy="171.65" r="6.8" fill="#fd6868" stroke="#e65c5c" stroke-width="0.6"/>
<circle cx="1043.7" cy="171.65" r="6.8" fill="#fd6868" stroke="#e65c5c" stroke-width="0.6"/>
<circle cx="1065.1" cy="171.65" r="6.8" fill="#fd6868" stroke="#e65c5c" stroke-width="0.6"/>
<rect x="1080.3" y="165.45" width="12.4" height="12.4" fill="#06dc06"/>
<circle cx="1107.9" cy="171.65" r="6.8" fill="#fd6868" stroke="#e65c5c" stroke-width="0.6"/>
<circle cx="1129.3" cy="171.65" r="6.8" fill="#fd6868" stroke="#e65c5c" stroke-width="0.6"/>
<rect x="1144.5" y="165.45" width="12.4" height="12.4" fill="#06dc06"/>
<circle cx="1172.1" cy="171.65" r="6.8" fill="#fd6868" stroke="#e65c5c" stroke-width="0.6"/>
<rect x="1187.3" y="165.45" width="12.4" height="12.4" fill="#06dc06"/>
<circle cx="1214.9" cy="171.65" r="6.8" fill="#fd6868" stroke="#e65c5c" stroke-width="0.6"/>
<circle cx="786.9" cy="193" r="6.8" fill="#fd6868" stroke="#e65c5c" stroke-width="0.6"/>
<circle cx="808.3" cy="193" r="6.8" fill="#fd6868" stroke="#e65c5c" stroke-width="0.6"/>
<circle cx="829.7" cy="193" r="6.8" fill="#fd6868" stroke="#e65c5c" stroke-width="0.6"/>
<circle cx="851.1" cy="193" r="6.8" fill="#fd6868" stroke="#e65c5c" stroke-width="0.6"/>
<circle cx="872.5" cy="193" r="6.8" fill="#fd6868" stroke="#e65c5c" stroke-width="0.6"/>
<rect x="887.7" y="186.8" width="12.4" height="12.4" fill="#06dc06"/>
<circle cx="915.3" cy="193" r="6.8" fill="#fd6868" stroke="#e65c5c" stroke-width="0.6"/>
<circle cx="936.7" cy="193" r="6.8" fill="#fd6868" stroke="#e65c5c" stroke-width="0.6"/>
<circle cx="958.1" cy="193" r="6.8" fill="#fd6868" stroke="#e65c5c" stroke-width="0.6"/>
<circle cx="979.5" cy="193" r="6.8" fill="#fd6868" stroke="#e65c5c" stroke-width="0.6"/>
<path d="M1000.9 183.3L1009.2 197.9L992.6 197.9Z" fill="#ffff00"/>
<circle cx="1022.3" cy="193" r="6.8" fill="#fd6868" stroke="#e65c5c" stroke-width="0.6"/>
<circle cx="1043.7" cy="193" r="6.8" fill="#fd6868" stroke="#e65c5c" stroke-width="0.6"/>
<circle cx="1065.1" cy="193" r="6.8" fill="#fd6868" stroke="#e65c5c" stroke-width="0.6"/>
<rect x="1080.3" y="186.8" width="12.4" height="12.4" fill="#06dc06"/>
<circle cx="1107.9" cy="193" r="6.8" fill="#fd6868" stroke="#e65c5c" stroke-width="0.6"/>
<circle cx="1129.3" cy="193" r="6.8" fill="#fd6868" stroke="#e65c5c" stroke-width="0.6"/>
<rect x="1144.5" y="186.8" width="12.4" height="12.4" fill="#06dc06"/>
<circle cx="1172.1" cy="193" r="6.8" fill="#fd6868" stroke="#e65c5c" stroke-width="0.6"/>
<rect x="1187.3" y="186.8" width="12.4" height="12.4" fill="#06dc06"/>
<circle cx="1214.9" cy="193" r="6.8" fill="#fd6868" stroke="#e65c5c" stroke-width="0.6"/>
<circle cx="786.9" cy="214.35" r="6.8" fill="#fd6868" stroke="#e65c5c" stroke-width="0.6"/>
<circle cx="808.3" cy="214.35" r="6.8" fill="#fd6868" stroke="#e65c5c" stroke-width="0.6"/>
<path d="M829.7 204.65L838 219.25L821.4 219.25Z" fill="#ffff00"/>
<path d="M851.1 204.65L859.4 219.25L842.8 219.25Z" fill="#ffff00"/>
<circle cx="872.5" cy="214.35" r="6.8" fill="#fd6868" stroke="#e65c5c" stroke-width="0.6"/>
<rect x="887.7" y="208.15" width="12.4" height="12.4" fill="#06dc06"/>
<circle cx="915.3" cy="214.35" r="6.8" fill="#fd6868" stroke="#e65c5c" stroke-width="0.6"/>
<path d="M936.7 204.65L945 219.25L928.4 219.25Z" fill="#ffff00"/>
<path d="M958.1 204.65L966.4 219.25L949.8 219.25Z" fill="#ffff00"/>
<circle cx="979.5" cy="214.35" r="6.8" fill="#fd6868" stroke="#e65c5c" stroke-width="0.6"/>
<path d="M1000.9 204.65L1009.2 219.25L992.6 219.25Z" fill="#ffff00"/>
<rect x="1016.1" y="208.15" width="12.4" height="12.4" fill="#06dc06"/>
<rect x="1037.5" y="208.15" width="12.4" height="12.4" fill="#06dc06"/>
<rect x="1058.9" y="208.15" width="12.4" height="12.4" fill="#06dc06"/>
<rect x="1080.3" y="208.15" width="12.4" height="12.4" fill="#06dc06"/>
<rect x="1101.7" y="208.15" width="12.4" height="12.4" fill="#06dc06"/>
<rect x="1123.1" y="208.15" width="12.4" height="12.4" fill="#06dc06"/>
<rect x="1144.5" y="208.15" width="12.4" height="12.4" fill="#06dc06"/>
<circle cx="1172.1" cy="214.35" r="6.8" fill="#fd6868" stroke="#e65c5c" stroke-width="0.6"/>
<rect x="1187.3" y="208.15" width="12.4" height="12.4" fill="#06dc06"/>
<circle cx="1214.9" cy="214.35" r="6.8" fill="#fd6868" stroke="#e65c5c" stroke-width="0.6"/>
<circle cx="786.9" cy="235.7" r="6.8" fill="#fd6868" stroke="#e65c5c" stroke-width="0.6"/>
<circle cx="808.3" cy="235.7" r="6.8" fill="#fd6868" stroke="#e65c5c" stroke-width="0.6"/>
<path d="M829.7 226L838 240.6L821.4 240.6Z" fill="#ffff00"/>
<path d="M851.1 226L859.4 240.6L842.8 240.6Z" fill="#ffff00"/>
<circle cx="872.5" cy="235.7" r="6.8" fill="#fd6868" stroke="#e65c5c" stroke-width="0.6"/>
<rect x="887.7" y="229.5" width="12.4" height="12.4" fill="#06dc06"/>
<circle cx="915.3" cy="235.7" r="6.8" fill="#fd6868" stroke="#e65c5c" stroke-width="0.6"/>
<path d="M936.7 226L945 240.6L928.4 240.6Z" fill="#ffff00"/>
<path d="M958.1 226L966.4 240.6L949.8 240.6Z" fill="#ffff00"/>
<circle cx="979.5" cy="235.7" r="6.8" fill="#fd6868" stroke="#e65c5c" stroke-width="0.6"/>
<rect x="994.7" y="229.5" width="12.4" height="12.4" fill="#06dc06"/>
<rect x="1016.1" y="229.5" width="12.4" height="12.4" fill="#06dc06"/>
<rect x="1037.5" y="229.5" width="12.4" height="12.4" fill="#06dc06"/>
<rect x="1058.9" y="229.5" width="12.4" height="12.4" fill="#06dc06"/>
<rect x="1080.3" y="229.5" width="12.4" height="12.4" fill="#06dc06"/>
<rect x="1101.7" y="229.5" width="12.4" height="12.4" fill="#06dc06"/>
<rect x="1123.1" y="229.5" width="12.4" height="12.4" fill="#06dc06"/>
<rect x="1144.5" y="229.5" width="12.4" height="12.4" fill="#06dc06"/>
<circle cx="1172.1" cy="235.7" r="6.8" fill="#fd6868" stroke="#e65c5c" stroke-width="0.6"/>
<rect x="1187.3" y="229.5" width="12.4" height="12.4" fill="#06dc06"/>
<circle cx="1214.9" cy="235.7" r="6.8" fill="#fd6868" stroke="#e65c5c" stroke-width="0.6"/>
<circle cx="786.9" cy="257.05" r="6.8" fill="#fd6868" stroke="#e65c5c" stroke-width="0.6"/>
<circle cx="808.3" cy="257.05" r="6.8" fill="#fd6868" stroke="#e65c5c" stroke-width="0.6"/>
<path d="M829.7 247.35L838 261.95L821.4 261.95Z" fill="#ffff00"/>
<path d="M851.1 247.35L859.4 261.95L842.8 261.95Z" fill="#ffff00"/>
<circle cx="872.5" cy="257.05" r="6.8" fill="#fd6868" stroke="#e65c5c" stroke-width="0.6"/>
<rect x="887.7" y="250.85" width="12.4" height="12.4" fill="#06dc06"/>
<circle cx="915.3" cy="257.05" r="6.8" fill="#fd6868" stroke="#e65c5c" stroke-width="0.6"/>
<path d="M936.7 247.35L945 261.95L928.4 261.95Z" fill="#ffff00"/>
<path d="M958.1 247.35L966.4 261.95L949.8 261.95Z" fill="#ffff00"/>
<circle cx="979.5" cy="257.05" r="6.8" fill="#fd6868" stroke="#e65c5c" stroke-width="0.6"/>
<path d="M1000.9 247.35L1009.2 261.95L992.6 261.95Z" fill="#ffff00"/>
<rect x="1016.1" y="250.85" width="12.4" height="12.4" fill="#06dc06"/>
<rect x="1037.5" y="250.85" width="12.4" height="12.4" fill="#06dc06"/>
<rect x="1058.9" y="250.85" width="12.4" height="12.4" fill="#06dc06"/>
<path d="M1086.5 247.35L1094.8 261.95L1078.2 261.95Z" fill="#ffff00"/>
<rect x="1101.7" y="250.85" width="12.4" height="12.4" fill="#06dc06"/>
<rect x="1123.1" y="250.85" width="12.4" height="12.4" fill="#06dc06"/>
<path d="M1150.7 247.35L1159 261.95L1142.4 261.95Z" fill="#ffff00"/>
<circle cx="1172.1" cy="257.05" r="6.8" fill="#fd6868" stroke="#e65c5c" stroke-width="0.6"/>
<path d="M1193.5 247.35L1201.8 261.95L1185.2 261.95Z" fill="#ffff00"/>
<circle cx="1214.9" cy="257.05" r="6.8" fill="#fd6868" stroke="#e65c5c" stroke-width="0.6"/>
<circle cx="786.9" cy="278.4" r="6.8" fill="#fd6868" stroke="#e65c5c" stroke-width="0.6"/>
<circle cx="808.3" cy="278.4" r="6.8" fill="#fd6868" stroke="#e65c5c" stroke-width="0.6"/>
<rect x="823.5" y="272.2" width="12.4" height="12.4" fill="#06dc06"/>
<rect x="844.9" y="272.2" width="12.4" height="12.4" fill="#06dc06"/>
<path d="M872.5 268.7L880.8 283.3L864.2 283.3Z" fill="#ffff00"/>
<rect x="887.7" y="272.2" width="12.4" height="12.4" fill="#06dc06"/>
<circle cx="915.3" cy="278.4" r="6.8" fill="#fd6868" stroke="#e65c5c" stroke-width="0.6"/>
<rect x="930.5" y="272.2" width="12.4" height="12.4" fill="#06dc06"/>
<rect x="951.9" y="272.2" width="12.4" height="12.4" fill="#06dc06"/>
<path d="M979.5 268.7L987.8 283.3L971.2 283.3Z" fill="#ffff00"/>
<path d="M1000.9 268.7L1009.2 283.3L992.6 283.3Z" fill="#ffff00"/>
<path d="M1022.3 268.7L1030.6 283.3L1014 283.3Z" fill="#ffff00"/>
<path d="M1043.7 268.7L1052 283.3L1035.4 283.3Z" fill="#ffff00"/>
<path d="M1065.1 268.7L1073.4 283.3L1056.8 283.3Z" fill="#ffff00"/>
<path d="M1086.5 268.7L1094.8 283.3L1078.2 283.3Z" fill="#ffff00"/>
<path d="M1107.9 268.7L1116.2 283.3L1099.6 283.3Z" fill="#ffff00"/>
<path d="M1129.3 268.7L1137.6 283.3L1121 283.3Z" fill="#ffff00"/>
<path d="M1150.7 268.7L1159 283.3L1142.4 283.3Z" fill="#ffff00"/>
<path d="M1172.1 268.7L1180.4 283.3L1163.8 283.3Z" fill="#ffff00"/>
<path d="M1193.5 268.7L1201.8 283.3L1185.2 283.3Z" fill="#ffff00"/>
<circle cx="1214.9" cy="278.4" r="6.8" fill="#fd6868" stroke="#e65c5c" stroke-width="0.6"/>
<circle cx="786.9" cy="299.75" r="6.8" fill="#fd6868" stroke="#e65c5c" stroke-width="0.6"/>
<circle cx="808.3" cy="299.75" r="6.8" fill="#fd6868" stroke="#e65c5c" stroke-width="0.6"/>
<rect x="823.5" y="293.55" width="12.4" height="12.4" fill="#06dc06"/>
<rect x="844.9" y="293.55" width="12.4" height="12.4" fill="#06dc06"/>
<rect x="866.3" y="293.55" width="12.4" height="12.4" fill="#06dc06"/>
<rect x="887.7" y="293.55" width="12.4" height="12.4" fill="#06dc06"/>
<circle cx="915.3" cy="299.75" r="6.8" fill="#fd6868" stroke="#e65c5c" stroke-width="0.6"/>
<rect x="930.5" y="293.55" width="12.4" height="12.4" fill="#06dc06"/>
<rect x="951.9" y="293.55" width="12.4" height="12.4" fill="#06dc06"/>
<rect x="973.3" y="293.55" width="12.4" height="12.4" fill="#06dc06"/>
<rect x="994.7" y="293.55" width="12.4" height="12.4" fill="#06dc06"/>
<rect x="1016.1" y="293.55" width="12.4" height="12.4" fill="#06dc06"/>
<rect x="1037.5" y="293.55" width="12.4" height="12.4" fill="#06dc06"/>
<rect x="1058.9" y="293.55" width="12.4" height="12.4" fill="#06dc06"/>
<rect x="1080.3" y="293.55" width="12.4" height="12.4" fill="#06dc06"/>
<rect x="1101.7" y="293.55" width="12.4" height="12.4" fill="#06dc06"/>
<rect x="1123.1" y="293.55" width="12.4" height="12.4" fill="#06dc06"/>
<rect x="1144.5" y="293.55" width="12.4" height="12.4" fill="#06dc06"/>
<rect x="1165.9" y="293.55" width="12.4" height="12.4" fill="#06dc06"/>
<rect x="1187.3" y="293.55" width="12.4" height="12.4" fill="#06dc06"/>
<circle cx="1214.9" cy="299.75" r="6.8" fill="#fd6868" stroke="#e65c5c" stroke-width="0.6"/>
<circle cx="786.9" cy="321.1" r="6.8" fill="#fd6868" stroke="#e65c5c" stroke-width="0.6"/>
<circle cx="808.3" cy="321.1" r="6.8" fill="#fd6868" stroke="#e65c5c" stroke-width="0.6"/>
<rect x="823.5" y="314.9" width="12.4" height="12.4" fill="#06dc06"/>
<rect x="844.9" y="314.9" width="12.4" height="12.4" fill="#06dc06"/>
<rect x="866.3" y="314.9" width="12.4" height="12.4" fill="#06dc06"/>
<rect x="887.7" y="314.9" width="12.4" height="12.4" fill="#06dc06"/>
<circle cx="915.3" cy="321.1" r="6.8" fill="#fd6868" stroke="#e65c5c" stroke-width="0.6"/>
<rect x="930.5" y="314.9" width="12.4" height="12.4" fill="#06dc06"/>
<rect x="951.9" y="314.9" width="12.4" height="12.4" fill="#06dc06"/>
<path d="M979.5 311.4L987.8 326L971.2 326Z" fill="#ffff00"/>
<path d="M1000.9 311.4L1009.2 326L992.6 326Z" fill="#ffff00"/>
<rect x="1016.1" y="314.9" width="12.4" height="12.4" fill="#06dc06"/>
<rect x="1037.5" y="314.9" width="12.4" height="12.4" fill="#06dc06"/>
<rect x="1058.9" y="314.9" width="12.4" height="12.4" fill="#06dc06"/>
<path d="M1086.5 311.4L1094.8 326L1078.2 326Z" fill="#ffff00"/>
<rect x="1101.7" y="314.9" width="12.4" height="12.4" fill="#06dc06"/>
<rect x="1123.1" y="314.9" width="12.4" height="12.4" fill="#06dc06"/>
<path d="M1150.7 311.4L1159 326L1142.4 326Z" fill="#ffff00"/>
<rect x="1165.9" y="314.9" width="12.4" height="12.4" fill="#06dc06"/>
<path d="M1193.5 311.4L1201.8 326L1185.2 326Z" fill="#ffff00"/>
<circle cx="1214.9" cy="321.1" r="6.8" fill="#fd6868" stroke="#e65c5c" stroke-width="0.6"/>
<circle cx="786.9" cy="342.45" r="6.8" fill="#fd6868" stroke="#e65c5c" stroke-width="0.6"/>
<circle cx="808.3" cy="342.45" r="6.8" fill="#fd6868" stroke="#e65c5c" stroke-width="0.6"/>
<path d="M829.7 332.75L838 347.35L821.4 347.35Z" fill="#ffff00"/>
<path d="M851.1 332.75L859.4 347.35L842.8 347.35Z" fill="#ffff00"/>
<path d="M872.5 332.75L880.8 347.35L864.2 347.35Z" fill="#ffff00"/>
<path d="M893.9 332.75L902.2 347.35L885.6 347.35Z" fill="#ffff00"/>
<circle cx="915.3" cy="342.45" r="6.8" fill="#fd6868" stroke="#e65c5c" stroke-width="0.6"/>
<path d="M936.7 332.75L945 347.35L928.4 347.35Z" fill="#ffff00"/>
<path d="M958.1 332.75L966.4 347.35L949.8 347.35Z" fill="#ffff00"/>
<path d="M979.5 332.75L987.8 347.35L971.2 347.35Z" fill="#ffff00"/>
<circle cx="1000.9" cy="342.45" r="6.8" fill="#fd6868" stroke="#e65c5c" stroke-width="0.6"/>
<circle cx="1022.3" cy="342.45" r="6.8" fill="#fd6868" stroke="#e65c5c" stroke-width="0.6"/>
<circle cx="1043.7" cy="342.45" r="6.8" fill="#fd6868" stroke="#e65c5c" stroke-width="0.6"/>
<circle cx="1065.1" cy="342.45" r="6.8" fill="#fd6868" stroke="#e65c5c" stroke-width="0.6"/>
<circle cx="1086.5" cy="342.45" r="6.8" fill="#fd6868" stroke="#e65c5c" stroke-width="0.6"/>
<circle cx="1107.9" cy="342.45" r="6.8" fill="#fd6868" stroke="#e65c5c" stroke-width="0.6"/>
<circle cx="1129.3" cy="342.45" r="6.8" fill="#fd6868" stroke="#e65c5c" stroke-width="0.6"/>
<circle cx="1150.7" cy="342.45" r="6.8" fill="#fd6868" stroke="#e65c5c" stroke-width="0.6"/>
<circle cx="1172.1" cy="342.45" r="6.8" fill="#fd6868" stroke="#e65c5c" stroke-width="0.6"/>
<circle cx="1193.5" cy="342.45" r="6.8" fill="#fd6868" stroke="#e65c5c" stroke-width="0.6"/>
<circle cx="1214.9" cy="342.45" r="6.8" fill="#fd6868" stroke="#e65c5c" stroke-width="0.6"/>
<circle cx="786.9" cy="363.8" r="6.8" fill="#fd6868" stroke="#e65c5c" stroke-width="0.6"/>
<circle cx="808.3" cy="363.8" r="6.8" fill="#fd6868" stroke="#e65c5c" stroke-width="0.6"/>
<path d="M829.7 354.1L838 368.7L821.4 368.7Z" fill="#ffff00"/>
<path d="M851.1 354.1L859.4 368.7L842.8 368.7Z" fill="#ffff00"/>
<circle cx="872.5" cy="363.8" r="6.8" fill="#fd6868" stroke="#e65c5c" stroke-width="0.6"/>
<path d="M893.9 354.1L902.2 368.7L885.6 368.7Z" fill="#ffff00"/>
<circle cx="915.3" cy="363.8" r="6.8" fill="#fd6868" stroke="#e65c5c" stroke-width="0.6"/>
<path d="M936.7 354.1L945 368.7L928.4 368.7Z" fill="#ffff00"/>
<path d="M958.1 354.1L966.4 368.7L949.8 368.7Z" fill="#ffff00"/>
<circle cx="979.5" cy="363.8" r="6.8" fill="#fd6868" stroke="#e65c5c" stroke-width="0.6"/>
<path d="M1000.9 354.1L1009.2 368.7L992.6 368.7Z" fill="#ffff00"/>
<path d="M1022.3 354.1L1030.6 368.7L1014 368.7Z" fill="#ffff00"/>
<path d="M1043.7 354.1L1052 368.7L1035.4 368.7Z" fill="#ffff00"/>
<path d="M1065.1 354.1L1073.4 368.7L1056.8 368.7Z" fill="#ffff00"/>
<path d="M1086.5 354.1L1094.8 368.7L1078.2 368.7Z" fill="#ffff00"/>
<path d="M1107.9 354.1L1116.2 368.7L1099.6 368.7Z" fill="#ffff00"/>
<path d="M1129.3 354.1L1137.6 368.7L1121 368.7Z" fill="#ffff00"/>
<path d="M1150.7 354.1L1159 368.7L1142.4 368.7Z" fill="#ffff00"/>
<circle cx="1172.1" cy="363.8" r="6.8" fill="#fd6868" stroke="#e65c5c" stroke-width="0.6"/>
<path d="M1193.5 354.1L1201.8 368.7L1185.2 368.7Z" fill="#ffff00"/>
<circle cx="1214.9" cy="363.8" r="6.8" fill="#fd6868" stroke="#e65c5c" stroke-width="0.6"/>
<circle cx="786.9" cy="385.15" r="6.8" fill="#fd6868" stroke="#e65c5c" stroke-width="0.6"/>
<circle cx="808.3" cy="385.15" r="6.8" fill="#fd6868" stroke="#e65c5c" stroke-width="0.6"/>
<path d="M829.7 375.45L838 390.05L821.4 390.05Z" fill="#ffff00"/>
<path d="M851.1 375.45L859.4 390.05L842.8 390.05Z" fill="#ffff00"/>
<circle cx="872.5" cy="385.15" r="6.8" fill="#fd6868" stroke="#e65c5c" stroke-width="0.6"/>
<rect x="887.7" y="378.95" width="12.4" height="12.4" fill="#06dc06"/>
<circle cx="915.3" cy="385.15" r="6.8" fill="#fd6868" stroke="#e65c5c" stroke-width="0.6"/>
<path d="M936.7 375.45L945 390.05L928.4 390.05Z" fill="#ffff00"/>
<path d="M958.1 375.45L966.4 390.05L949.8 390.05Z" fill="#ffff00"/>
<circle cx="979.5" cy="385.15" r="6.8" fill="#fd6868" stroke="#e65c5c" stroke-width="0.6"/>
<rect x="994.7" y="378.95" width="12.4" height="12.4" fill="#06dc06"/>
<path d="M1022.3 375.45L1030.6 390.05L1014 390.05Z" fill="#ffff00"/>
<path d="M1043.7 375.45L1052 390.05L1035.4 390.05Z" fill="#ffff00"/>
<path d="M1065.1 375.45L1073.4 390.05L1056.8 390.05Z" fill="#ffff00"/>
<rect x="1080.3" y="378.95" width="12.4" height="12.4" fill="#06dc06"/>
<path d="M1107.9 375.45L1116.2 390.05L1099.6 390.05Z" fill="#ffff00"/>
<path d="M1129.3 375.45L1137.6 390.05L1121 390.05Z" fill="#ffff00"/>
<rect x="1144.5" y="378.95" width="12.4" height="12.4" fill="#06dc06"/>
<circle cx="1172.1" cy="385.15" r="6.8" fill="#fd6868" stroke="#e65c5c" stroke-width="0.6"/>
<rect x="1187.3" y="378.95" width="12.4" height="12.4" fill="#06dc06"/>
<circle cx="1214.9" cy="385.15" r="6.8" fill="#fd6868" stroke="#e65c5c" stroke-width="0.6"/>
<circle cx="786.9" cy="406.5" r="6.8" fill="#fd6868" stroke="#e65c5c" stroke-width="0.6"/>
<circle cx="808.3" cy="406.5" r="6.8" fill="#fd6868" stroke="#e65c5c" stroke-width="0.6"/>
<path d="M829.7 396.8L838 411.4L821.4 411.4Z" fill="#ffff00"/>
<path d="M851.1 396.8L859.4 411.4L842.8 411.4Z" fill="#ffff00"/>
<circle cx="872.5" cy="406.5" r="6.8" fill="#fd6868" stroke="#e65c5c" stroke-width="0.6"/>
<rect x="887.7" y="400.3" width="12.4" height="12.4" fill="#06dc06"/>
<circle cx="915.3" cy="406.5" r="6.8" fill="#fd6868" stroke="#e65c5c" stroke-width="0.6"/>
<path d="M936.7 396.8L945 411.4L928.4 411.4Z" fill="#ffff00"/>
<path d="M958.1 396.8L966.4 411.4L949.8 411.4Z" fill="#ffff00"/>
<circle cx="979.5" cy="406.5" r="6.8" fill="#fd6868" stroke="#e65c5c" stroke-width="0.6"/>
<path d="M1000.9 396.8L1009.2 411.4L992.6 411.4Z" fill="#ffff00"/>
<rect x="1016.1" y="400.3" width="12.4" height="12.4" fill="#06dc06"/>
<rect x="1037.5" y="400.3" width="12.4" height="12.4" fill="#06dc06"/>
<rect x="1058.9" y="400.3" width="12.4" height="12.4" fill="#06dc06"/>
<path d="M1086.5 396.8L1094.8 411.4L1078.2 411.4Z" fill="#ffff00"/>
<rect x="1101.7" y="400.3" width="12.4" height="12.4" fill="#06dc06"/>
<rect x="1123.1" y="400.3" width="12.4" height="12.4" fill="#06dc06"/>
<path d="M1150.7 396.8L1159 411.4L1142.4 411.4Z" fill="#ffff00"/>
<circle cx="1172.1" cy="406.5" r="6.8" fill="#fd6868" stroke="#e65c5c" stroke-width="0.6"/>
<path d="M1193.5 396.8L1201.8 411.4L1185.2 411.4Z" fill="#ffff00"/>
<circle cx="1214.9" cy="406.5" r="6.8" fill="#fd6868" stroke="#e65c5c" stroke-width="0.6"/>
<circle cx="786.9" cy="427.85" r="6.8" fill="#fd6868" stroke="#e65c5c" stroke-width="0.6"/>
<circle cx="808.3" cy="427.85" r="6.8" fill="#fd6868" stroke="#e65c5c" stroke-width="0.6"/>
<path d="M829.7 418.15L838 432.75L821.4 432.75Z" fill="#ffff00"/>
<path d="M851.1 418.15L859.4 432.75L842.8 432.75Z" fill="#ffff00"/>
<path d="M872.5 418.15L880.8 432.75L864.2 432.75Z" fill="#ffff00"/>
<path d="M893.9 418.15L902.2 432.75L885.6 432.75Z" fill="#ffff00"/>
<circle cx="915.3" cy="427.85" r="6.8" fill="#fd6868" stroke="#e65c5c" stroke-width="0.6"/>
<path d="M936.7 418.15L945 432.75L928.4 432.75Z" fill="#ffff00"/>
<path d="M958.1 418.15L966.4 432.75L949.8 432.75Z" fill="#ffff00"/>
<path d="M979.5 418.15L987.8 432.75L971.2 432.75Z" fill="#ffff00"/>
<circle cx="1000.9" cy="427.85" r="6.8" fill="#fd6868" stroke="#e65c5c" stroke-width="0.6"/>
<circle cx="1022.3" cy="427.85" r="6.8" fill="#fd6868" stroke="#e65c5c" stroke-width="0.6"/>
<circle cx="1043.7" cy="427.85" r="6.8" fill="#fd6868" stroke="#e65c5c" stroke-width="0.6"/>
<circle cx="1065.1" cy="427.85" r="6.8" fill="#fd6868" stroke="#e65c5c" stroke-width="0.6"/>
<circle cx="1086.5" cy="427.85" r="6.8" fill="#fd6868" stroke="#e65c5c" stroke-width="0.6"/>
<circle cx="1107.9" cy="427.85" r="6.8" fill="#fd6868" stroke="#e65c5c" stroke-width="0.6"/>
<circle cx="1129.3" cy="427.85" r="6.8" fill="#fd6868" stroke="#e65c5c" stroke-width="0.6"/>
<circle cx="1150.7" cy="427.85" r="6.8" fill="#fd6868" stroke="#e65c5c" stroke-width="0.6"/>
<circle cx="1172.1" cy="427.85" r="6.8" fill="#fd6868" stroke="#e65c5c" stroke-width="0.6"/>
<circle cx="1193.5" cy="427.85" r="6.8" fill="#fd6868" stroke="#e65c5c" stroke-width="0.6"/>
<circle cx="1214.9" cy="427.85" r="6.8" fill="#fd6868" stroke="#e65c5c" stroke-width="0.6"/>
<circle cx="786.9" cy="449.2" r="6.8" fill="#fd6868" stroke="#e65c5c" stroke-width="0.6"/>
<circle cx="808.3" cy="449.2" r="6.8" fill="#fd6868" stroke="#e65c5c" stroke-width="0.6"/>
<circle cx="829.7" cy="449.2" r="6.8" fill="#fd6868" stroke="#e65c5c" stroke-width="0.6"/>
<circle cx="851.1" cy="449.2" r="6.8" fill="#fd6868" stroke="#e65c5c" stroke-width="0.6"/>
<circle cx="872.5" cy="449.2" r="6.8" fill="#fd6868" stroke="#e65c5c" stroke-width="0.6"/>
<circle cx="893.9" cy="449.2" r="6.8" fill="#fd6868" stroke="#e65c5c" stroke-width="0.6"/>
<circle cx="915.3" cy="449.2" r="6.8" fill="#fd6868" stroke="#e65c5c" stroke-width="0.6"/>
<circle cx="936.7" cy="449.2" r="6.8" fill="#fd6868" stroke="#e65c5c" stroke-width="0.6"/>
<circle cx="958.1" cy="449.2" r="6.8" fill="#fd6868" stroke="#e65c5c" stroke-width="0.6"/>
<circle cx="979.5" cy="449.2" r="6.8" fill="#fd6868" stroke="#e65c5c" stroke-width="0.6"/>
<circle cx="1000.9" cy="449.2" r="6.8" fill="#fd6868" stroke="#e65c5c" stroke-width="0.6"/>
<circle cx="1022.3" cy="449.2" r="6.8" fill="#fd6868" stroke="#e65c5c" stroke-width="0.6"/>
<circle cx="1043.7" cy="449.2" r="6.8" fill="#fd6868" stroke="#e65c5c" stroke-width="0.6"/>
<circle cx="1065.1" cy="449.2" r="6.8" fill="#fd6868" stroke="#e65c5c" stroke-width="0.6"/>
<circle cx="1086.5" cy="449.2" r="6.8" fill="#fd6868" stroke="#e65c5c" stroke-width="0.6"/>
<circle cx="1107.9" cy="449.2" r="6.8" fill="#fd6868" stroke="#e65c5c" stroke-width="0.6"/>
<circle cx="1129.3" cy="449.2" r="6.8" fill="#fd6868" stroke="#e65c5c" stroke-width="0.6"/>
<circle cx="1150.7" cy="449.2" r="6.8" fill="#fd6868" stroke="#e65c5c" stroke-width="0.6"/>
<circle cx="1172.1" cy="449.2" r="6.8" fill="#fd6868" stroke="#e65c5c" stroke-width="0.6"/>
<circle cx="1193.5" cy="449.2" r="6.8" fill="#fd6868" stroke="#e65c5c" stroke-width="0.6"/>
<circle cx="1214.9" cy="449.2" r="6.8" fill="#fd6868" stroke="#e65c5c" stroke-width="0.6"/>
<circle cx="786.9" cy="470.55" r="6.8" fill="#fd6868" stroke="#e65c5c" stroke-width="0.6"/>
<circle cx="808.3" cy="470.55" r="6.8" fill="#fd6868" stroke="#e65c5c" stroke-width="0.6"/>
<path d="M829.7 460.85L838 475.45L821.4 475.45Z" fill="#ffff00"/>
<path d="M851.1 460.85L859.4 475.45L842.8 475.45Z" fill="#ffff00"/>
<circle cx="872.5" cy="470.55" r="6.8" fill="#fd6868" stroke="#e65c5c" stroke-width="0.6"/>
<path d="M893.9 460.85L902.2 475.45L885.6 475.45Z" fill="#ffff00"/>
<circle cx="915.3" cy="470.55" r="6.8" fill="#fd6868" stroke="#e65c5c" stroke-width="0.6"/>
<path d="M936.7 460.85L945 475.45L928.4 475.45Z" fill="#ffff00"/>
<path d="M958.1 460.85L966.4 475.45L949.8 475.45Z" fill="#ffff00"/>
<circle cx="979.5" cy="470.55" r="6.8" fill="#fd6868" stroke="#e65c5c" stroke-width="0.6"/>
<circle cx="1000.9" cy="470.55" r="6.8" fill="#fd6868" stroke="#e65c5c" stroke-width="0.6"/>
<path d="M1022.3 460.85L1030.6 475.45L1014 475.45Z" fill="#ffff00"/>
<path d="M1043.7 460.85L1052 475.45L1035.4 475.45Z" fill="#ffff00"/>
<path d="M1065.1 460.85L1073.4 475.45L1056.8 475.45Z" fill="#ffff00"/>
<path d="M1086.5 460.85L1094.8 475.45L1078.2 475.45Z" fill="#ffff00"/>
<path d="M1107.9 460.85L1116.2 475.45L1099.6 475.45Z" fill="#ffff00"/>
<path d="M1129.3 460.85L1137.6 475.45L1121 475.45Z" fill="#ffff00"/>
<path d="M1150.7 460.85L1159 475.45L1142.4 475.45Z" fill="#ffff00"/>
<circle cx="1172.1" cy="470.55" r="6.8" fill="#fd6868" stroke="#e65c5c" stroke-width="0.6"/>
<path d="M1193.5 460.85L1201.8 475.45L1185.2 475.45Z" fill="#ffff00"/>
<circle cx="1214.9" cy="470.55" r="6.8" fill="#fd6868" stroke="#e65c5c" stroke-width="0.6"/>
<circle cx="786.9" cy="491.9" r="6.8" fill="#fd6868" stroke="#e65c5c" stroke-width="0.6"/>
<circle cx="808.3" cy="491.9" r="6.8" fill="#fd6868" stroke="#e65c5c" stroke-width="0.6"/>
<path d="M829.7 482.2L838 496.8L821.4 496.8Z" fill="#ffff00"/>
<path d="M851.1 482.2L859.4 496.8L842.8 496.8Z" fill="#ffff00"/>
<circle cx="872.5" cy="491.9" r="6.8" fill="#fd6868" stroke="#e65c5c" stroke-width="0.6"/>
<rect x="887.7" y="485.7" width="12.4" height="12.4" fill="#06dc06"/>
<circle cx="915.3" cy="491.9" r="6.8" fill="#fd6868" stroke="#e65c5c" stroke-width="0.6"/>
<path d="M936.7 482.2L945 496.8L928.4 496.8Z" fill="#ffff00"/>
<path d="M958.1 482.2L966.4 496.8L949.8 496.8Z" fill="#ffff00"/>
<circle cx="979.5" cy="491.9" r="6.8" fill="#fd6868" stroke="#e65c5c" stroke-width="0.6"/>
<rect x="994.7" y="485.7" width="12.4" height="12.4" fill="#06dc06"/>
<path d="M1022.3 482.2L1030.6 496.8L1014 496.8Z" fill="#ffff00"/>
<path d="M1043.7 482.2L1052 496.8L1035.4 496.8Z" fill="#ffff00"/>
<path d="M1065.1 482.2L1073.4 496.8L1056.8 496.8Z" fill="#ffff00"/>
<rect x="1080.3" y="485.7" width="12.4" height="12.4" fill="#06dc06"/>
<path d="M1107.9 482.2L1116.2 496.8L1099.6 496.8Z" fill="#ffff00"/>
<path d="M1129.3 482.2L1137.6 496.8L1121 496.8Z" fill="#ffff00"/>
<rect x="1144.5" y="485.7" width="12.4" height="12.4" fill="#06dc06"/>
<circle cx="1172.1" cy="491.9" r="6.8" fill="#fd6868" stroke="#e65c5c" stroke-width="0.6"/>
<rect x="1187.3" y="485.7" width="12.4" height="12.4" fill="#06dc06"/>
<circle cx="1214.9" cy="491.9" r="6.8" fill="#fd6868" stroke="#e65c5c" stroke-width="0.6"/>
<circle cx="786.9" cy="513.25" r="6.8" fill="#fd6868" stroke="#e65c5c" stroke-width="0.6"/>
<circle cx="808.3" cy="513.25" r="6.8" fill="#fd6868" stroke="#e65c5c" stroke-width="0.6"/>
<path d="M829.7 503.55L838 518.15L821.4 518.15Z" fill="#ffff00"/>
<path d="M851.1 503.55L859.4 518.15L842.8 518.15Z" fill="#ffff00"/>
<circle cx="872.5" cy="513.25" r="6.8" fill="#fd6868" stroke="#e65c5c" stroke-width="0.6"/>
<path d="M893.9 503.55L902.2 518.15L885.6 518.15Z" fill="#ffff00"/>
<circle cx="915.3" cy="513.25" r="6.8" fill="#fd6868" stroke="#e65c5c" stroke-width="0.6"/>
<path d="M936.7 503.55L945 518.15L928.4 518.15Z" fill="#ffff00"/>
<path d="M958.1 503.55L966.4 518.15L949.8 518.15Z" fill="#ffff00"/>
<circle cx="979.5" cy="513.25" r="6.8" fill="#fd6868" stroke="#e65c5c" stroke-width="0.6"/>
<path d="M1000.9 503.55L1009.2 518.15L992.6 518.15Z" fill="#ffff00"/>
<path d="M1022.3 503.55L1030.6 518.15L1014 518.15Z" fill="#ffff00"/>
<path d="M1043.7 503.55L1052 518.15L1035.4 518.15Z" fill="#ffff00"/>
<path d="M1065.1 503.55L1073.4 518.15L1056.8 518.15Z" fill="#ffff00"/>
<path d="M1086.5 503.55L1094.8 518.15L1078.2 518.15Z" fill="#ffff00"/>
<path d="M1107.9 503.55L1116.2 518.15L1099.6 518.15Z" fill="#ffff00"/>
<path d="M1129.3 503.55L1137.6 518.15L1121 518.15Z" fill="#ffff00"/>
<path d="M1150.7 503.55L1159 518.15L1142.4 518.15Z" fill="#ffff00"/>
<circle cx="1172.1" cy="513.25" r="6.8" fill="#fd6868" stroke="#e65c5c" stroke-width="0.6"/>
<path d="M1193.5 503.55L1201.8 518.15L1185.2 518.15Z" fill="#ffff00"/>
<circle cx="1214.9" cy="513.25" r="6.8" fill="#fd6868" stroke="#e65c5c" stroke-width="0.6"/>
<circle cx="786.9" cy="534.6" r="6.8" fill="#fd6868" stroke="#e65c5c" stroke-width="0.6"/>
<circle cx="808.3" cy="534.6" r="6.8" fill="#fd6868" stroke="#e65c5c" stroke-width="0.6"/>
<path d="M829.7 524.9L838 539.5L821.4 539.5Z" fill="#ffff00"/>
<path d="M851.1 524.9L859.4 539.5L842.8 539.5Z" fill="#ffff00"/>
<path d="M872.5 524.9L880.8 539.5L864.2 539.5Z" fill="#ffff00"/>
<path d="M893.9 524.9L902.2 539.5L885.6 539.5Z" fill="#ffff00"/>
<circle cx="915.3" cy="534.6" r="6.8" fill="#fd6868" stroke="#e65c5c" stroke-width="0.6"/>
<path d="M936.7 524.9L945 539.5L928.4 539.5Z" fill="#ffff00"/>
<path d="M958.1 524.9L966.4 539.5L949.8 539.5Z" fill="#ffff00"/>
<path d="M979.5 524.9L987.8 539.5L971.2 539.5Z" fill="#ffff00"/>
<circle cx="1000.9" cy="534.6" r="6.8" fill="#fd6868" stroke="#e65c5c" stroke-width="0.6"/>
<circle cx="1022.3" cy="534.6" r="6.8" fill="#fd6868" stroke="#e65c5c" stroke-width="0.6"/>
<circle cx="1043.7" cy="534.6" r="6.8" fill="#fd6868" stroke="#e65c5c" stroke-width="0.6"/>
<circle cx="1065.1" cy="534.6" r="6.8" fill="#fd6868" stroke="#e65c5c" stroke-width="0.6"/>
<circle cx="1086.5" cy="534.6" r="6.8" fill="#fd6868" stroke="#e65c5c" stroke-width="0.6"/>
<circle cx="1107.9" cy="534.6" r="6.8" fill="#fd6868" stroke="#e65c5c" stroke-width="0.6"/>
<circle cx="1129.3" cy="534.6" r="6.8" fill="#fd6868" stroke="#e65c5c" stroke-width="0.6"/>
<circle cx="1150.7" cy="534.6" r="6.8" fill="#fd6868" stroke="#e65c5c" stroke-width="0.6"/>
<circle cx="1172.1" cy="534.6" r="6.8" fill="#fd6868" stroke="#e65c5c" stroke-width="0.6"/>
<circle cx="1193.5" cy="534.6" r="6.8" fill="#fd6868" stroke="#e65c5c" stroke-width="0.6"/>
<circle cx="1214.9" cy="534.6" r="6.8" fill="#fd6868" stroke="#e65c5c" stroke-width="0.6"/>
<circle cx="786.9" cy="555.95" r="6.8" fill="#fd6868" stroke="#e65c5c" stroke-width="0.6"/>
<circle cx="808.3" cy="555.95" r="6.8" fill="#fd6868" stroke="#e65c5c" stroke-width="0.6"/>
<circle cx="829.7" cy="555.95" r="6.8" fill="#fd6868" stroke="#e65c5c" stroke-width="0.6"/>
<circle cx="851.1" cy="555.95" r="6.8" fill="#fd6868" stroke="#e65c5c" stroke-width="0.6"/>
<circle cx="872.5" cy="555.95" r="6.8" fill="#fd6868" stroke="#e65c5c" stroke-width="0.6"/>
<circle cx="893.9" cy="555.95" r="6.8" fill="#fd6868" stroke="#e65c5c" stroke-width="0.6"/>
<circle cx="915.3" cy="555.95" r="6.8" fill="#fd6868" stroke="#e65c5c" stroke-width="0.6"/>
<circle cx="936.7" cy="555.95" r="6.8" fill="#fd6868" stroke="#e65c5c" stroke-width="0.6"/>
<circle cx="958.1" cy="555.95" r="6.8" fill="#fd6868" stroke="#e65c5c" stroke-width="0.6"/>
<circle cx="979.5" cy="555.95" r="6.8" fill="#fd6868" stroke="#e65c5c" stroke-width="0.6"/>
<circle cx="1000.9" cy="555.95" r="6.8" fill="#fd6868" stroke="#e65c5c" stroke-width="0.6"/>
<circle cx="1022.3" cy="555.95" r="6.8" fill="#fd6868" stroke="#e65c5c" stroke-width="0.6"/>
<circle cx="1043.7" cy="555.95" r="6.8" fill="#fd6868" stroke="#e65c5c" stroke-width="0.6"/>
<circle cx="1065.1" cy="555.95" r="6.8" fill="#fd6868" stroke="#e65c5c" stroke-width="0.6"/>
<circle cx="1086.5" cy="555.95" r="6.8" fill="#fd6868" stroke="#e65c5c" stroke-width="0.6"/>
<circle cx="1107.9" cy="555.95" r="6.8" fill="#fd6868" stroke="#e65c5c" stroke-width="0.6"/>
<circle cx="1129.3" cy="555.95" r="6.8" fill="#fd6868" stroke="#e65c5c" stroke-width="0.6"/>
<circle cx="1150.7" cy="555.95" r="6.8" fill="#fd6868" stroke="#e65c5c" stroke-width="0.6"/>
<circle cx="1172.1" cy="555.95" r="6.8" fill="#fd6868" stroke="#e65c5c" stroke-width="0.6"/>
<circle cx="1193.5" cy="555.95" r="6.8" fill="#fd6868" stroke="#e65c5c" stroke-width="0.6"/>
<circle cx="1214.9" cy="555.95" r="6.8" fill="#fd6868" stroke="#e65c5c" stroke-width="0.6"/>
<circle cx="786.9" cy="577.3" r="6.8" fill="#fd6868" stroke="#e65c5c" stroke-width="0.6"/>
<circle cx="808.3" cy="577.3" r="6.8" fill="#fd6868" stroke="#e65c5c" stroke-width="0.6"/>
<circle cx="829.7" cy="577.3" r="6.8" fill="#fd6868" stroke="#e65c5c" stroke-width="0.6"/>
<circle cx="851.1" cy="577.3" r="6.8" fill="#fd6868" stroke="#e65c5c" stroke-width="0.6"/>
<circle cx="872.5" cy="577.3" r="6.8" fill="#fd6868" stroke="#e65c5c" stroke-width="0.6"/>
<circle cx="893.9" cy="577.3" r="6.8" fill="#fd6868" stroke="#e65c5c" stroke-width="0.6"/>
<circle cx="915.3" cy="577.3" r="6.8" fill="#fd6868" stroke="#e65c5c" stroke-width="0.6"/>
<circle cx="936.7" cy="577.3" r="6.8" fill="#fd6868" stroke="#e65c5c" stroke-width="0.6"/>
<circle cx="958.1" cy="577.3" r="6.8" fill="#fd6868" stroke="#e65c5c" stroke-width="0.6"/>
<circle cx="979.5" cy="577.3" r="6.8" fill="#fd6868" stroke="#e65c5c" stroke-width="0.6"/>
<circle cx="1000.9" cy="577.3" r="6.8" fill="#fd6868" stroke="#e65c5c" stroke-width="0.6"/>
<circle cx="1022.3" cy="577.3" r="6.8" fill="#fd6868" stroke="#e65c5c" stroke-width="0.6"/>
<circle cx="1043.7" cy="577.3" r="6.8" fill="#fd6868" stroke="#e65c5c" stroke-width="0.6"/>
<circle cx="1065.1" cy="577.3" r="6.8" fill="#fd6868" stroke="#e65c5c" stroke-width="0.6"/>
<circle cx="1086.5" cy="577.3" r="6.8" fill="#fd6868" stroke="#e65c5c" stroke-width="0.6"/>
<circle cx="1107.9" cy="577.3" r="6.8" fill="#fd6868" stroke="#e65c5c" stroke-width="0.6"/>
<circle cx="1129.3" cy="577.3" r="6.8" fill="#fd6868" stroke="#e65c5c" stroke-width="0.6"/>
<circle cx="1150.7" cy="577.3" r="6.8" fill="#fd6868" stroke="#e65c5c" stroke-width="0.6"/>
<circle cx="1172.1" cy="577.3" r="6.8" fill="#fd6868" stroke="#e65c5c" stroke-width="0.6"/>
<circle cx="1193.5" cy="577.3" r="6.8" fill="#fd6868" stroke="#e65c5c" stroke-width="0.6"/>
<circle cx="1214.9" cy="577.3" r="6.8" fill="#fd6868" stroke="#e65c5c" stroke-width="0.6"/>
<circle cx="786.9" cy="598.65" r="6.8" fill="#fd6868" stroke="#e65c5c" stroke-width="0.6"/>
<circle cx="808.3" cy="598.65" r="6.8" fill="#fd6868" stroke="#e65c5c" stroke-width="0.6"/>
<path d="M829.7 588.95L838 603.55L821.4 603.55Z" fill="#ffff00"/>
<path d="M851.1 588.95L859.4 603.55L842.8 603.55Z" fill="#ffff00"/>
<path d="M872.5 588.95L880.8 603.55L864.2 603.55Z" fill="#ffff00"/>
<path d="M893.9 588.95L902.2 603.55L885.6 603.55Z" fill="#ffff00"/>
<circle cx="915.3" cy="598.65" r="6.8" fill="#fd6868" stroke="#e65c5c" stroke-width="0.6"/>
<path d="M936.7 588.95L945 603.55L928.4 603.55Z" fill="#ffff00"/>
<path d="M958.1 588.95L966.4 603.55L949.8 603.55Z" fill="#ffff00"/>
<path d="M979.5 588.95L987.8 603.55L971.2 603.55Z" fill="#ffff00"/>
<path d="M1000.9 588.95L1009.2 603.55L992.6 603.55Z" fill="#ffff00"/>
<path d="M1022.3 588.95L1030.6 603.55L1014 603.55Z" fill="#ffff00"/>
<path d="M1043.7 588.95L1052 603.55L1035.4 603.55Z" fill="#ffff00"/>
<path d="M1065.1 588.95L1073.4 603.55L1056.8 603.55Z" fill="#ffff00"/>
<path d="M1086.5 588.95L1094.8 603.55L1078.2 603.55Z" fill="#ffff00"/>
<path d="M1107.9 588.95L1116.2 603.55L1099.6 603.55Z" fill="#ffff00"/>
<path d="M1129.3 588.95L1137.6 603.55L1121 603.55Z" fill="#ffff00"/>
<path d="M1150.7 588.95L1159 603.55L1142.4 603.55Z" fill="#ffff00"/>
<path d="M1172.1 588.95L1180.4 603.55L1163.8 603.55Z" fill="#ffff00"/>
<path d="M1193.5 588.95L1201.8 603.55L1185.2 603.55Z" fill="#ffff00"/>
<circle cx="1214.9" cy="598.65" r="6.8" fill="#fd6868" stroke="#e65c5c" stroke-width="0.6"/>
<circle cx="786.9" cy="620" r="6.8" fill="#fd6868" stroke="#e65c5c" stroke-width="0.6"/>
<circle cx="808.3" cy="620" r="6.8" fill="#fd6868" stroke="#e65c5c" stroke-width="0.6"/>
<rect x="823.5" y="613.8" width="12.4" height="12.4" fill="#06dc06"/>
<rect x="844.9" y="613.8" width="12.4" height="12.4" fill="#06dc06"/>
<path d="M872.5 610.3L880.8 624.9L864.2 624.9Z" fill="#ffff00"/>
<rect x="887.7" y="613.8" width="12.4" height="12.4" fill="#06dc06"/>
<circle cx="915.3" cy="620" r="6.8" fill="#fd6868" stroke="#e65c5c" stroke-width="0.6"/>
<rect x="930.5" y="613.8" width="12.4" height="12.4" fill="#06dc06"/>
<rect x="951.9" y="613.8" width="12.4" height="12.4" fill="#06dc06"/>
<path d="M979.5 610.3L987.8 624.9L971.2 624.9Z" fill="#ffff00"/>
<rect x="994.7" y="613.8" width="12.4" height="12.4" fill="#06dc06"/>
<rect x="1016.1" y="613.8" width="12.4" height="12.4" fill="#06dc06"/>
<rect x="1037.5" y="613.8" width="12.4" height="12.4" fill="#06dc06"/>
<rect x="1058.9" y="613.8" width="12.4" height="12.4" fill="#06dc06"/>
<rect x="1080.3" y="613.8" width="12.4" height="12.4" fill="#06dc06"/>
<rect x="1101.7" y="613.8" width="12.4" height="12.4" fill="#06dc06"/>
<rect x="1123.1" y="613.8" width="12.4" height="12.4" fill="#06dc06"/>
<rect x="1144.5" y="613.8" width="12.4" height="12.4" fill="#06dc06"/>
<path d="M1172.1 610.3L1180.4 624.9L1163.8 624.9Z" fill="#ffff00"/>
<rect x="1187.3" y="613.8" width="12.4" height="12.4" fill="#06dc06"/>
<circle cx="1214.9" cy="620" r="6.8" fill="#fd6868" stroke="#e65c5c" stroke-width="0.6"/>
<circle cx="786.9" cy="641.35" r="6.8" fill="#fd6868" stroke="#e65c5c" stroke-width="0.6"/>
<circle cx="808.3" cy="641.35" r="6.8" fill="#fd6868" stroke="#e65c5c" stroke-width="0.6"/>
<rect x="823.5" y="635.15" width="12.4" height="12.4" fill="#06dc06"/>
<rect x="844.9" y="635.15" width="12.4" height="12.4" fill="#06dc06"/>
<path d="M872.5 631.65L880.8 646.25L864.2 646.25Z" fill="#ffff00"/>
<rect x="887.7" y="635.15" width="12.4" height="12.4" fill="#06dc06"/>
<circle cx="915.3" cy="641.35" r="6.8" fill="#fd6868" stroke="#e65c5c" stroke-width="0.6"/>
<rect x="930.5" y="635.15" width="12.4" height="12.4" fill="#06dc06"/>
<rect x="951.9" y="635.15" width="12.4" height="12.4" fill="#06dc06"/>
<path d="M979.5 631.65L987.8 646.25L971.2 646.25Z" fill="#ffff00"/>
<path d="M1000.9 631.65L1009.2 646.25L992.6 646.25Z" fill="#ffff00"/>
<rect x="1016.1" y="635.15" width="12.4" height="12.4" fill="#06dc06"/>
<rect x="1037.5" y="635.15" width="12.4" height="12.4" fill="#06dc06"/>
<rect x="1058.9" y="635.15" width="12.4" height="12.4" fill="#06dc06"/>
<path d="M1086.5 631.65L1094.8 646.25L1078.2 646.25Z" fill="#ffff00"/>
<rect x="1101.7" y="635.15" width="12.4" height="12.4" fill="#06dc06"/>
<rect x="1123.1" y="635.15" width="12.4" height="12.4" fill="#06dc06"/>
<path d="M1150.7 631.65L1159 646.25L1142.4 646.25Z" fill="#ffff00"/>
<path d="M1172.1 631.65L1180.4 646.25L1163.8 646.25Z" fill="#ffff00"/>
<path d="M1193.5 631.65L1201.8 646.25L1185.2 646.25Z" fill="#ffff00"/>
<circle cx="1214.9" cy="641.35" r="6.8" fill="#fd6868" stroke="#e65c5c" stroke-width="0.6"/>
<circle cx="786.9" cy="662.7" r="6.8" fill="#fd6868" stroke="#e65c5c" stroke-width="0.6"/>
<circle cx="808.3" cy="662.7" r="6.8" fill="#fd6868" stroke="#e65c5c" stroke-width="0.6"/>
<path d="M829.7 653L838 667.6L821.4 667.6Z" fill="#ffff00"/>
<path d="M851.1 653L859.4 667.6L842.8 667.6Z" fill="#ffff00"/>
<path d="M872.5 653L880.8 667.6L864.2 667.6Z" fill="#ffff00"/>
<path d="M893.9 653L902.2 667.6L885.6 667.6Z" fill="#ffff00"/>
<circle cx="915.3" cy="662.7" r="6.8" fill="#fd6868" stroke="#e65c5c" stroke-width="0.6"/>
<path d="M936.7 653L945 667.6L928.4 667.6Z" fill="#ffff00"/>
<path d="M958.1 653L966.4 667.6L949.8 667.6Z" fill="#ffff00"/>
<path d="M979.5 653L987.8 667.6L971.2 667.6Z" fill="#ffff00"/>
<circle cx="1000.9" cy="662.7" r="6.8" fill="#fd6868" stroke="#e65c5c" stroke-width="0.6"/>
<circle cx="1022.3" cy="662.7" r="6.8" fill="#fd6868" stroke="#e65c5c" stroke-width="0.6"/>
<circle cx="1043.7" cy="662.7" r="6.8" fill="#fd6868" stroke="#e65c5c" stroke-width="0.6"/>
<circle cx="1065.1" cy="662.7" r="6.8" fill="#fd6868" stroke="#e65c5c" stroke-width="0.6"/>
<circle cx="1086.5" cy="662.7" r="6.8" fill="#fd6868" stroke="#e65c5c" stroke-width="0.6"/>
<circle cx="1107.9" cy="662.7" r="6.8" fill="#fd6868" stroke="#e65c5c" stroke-width="0.6"/>
<circle cx="1129.3" cy="662.7" r="6.8" fill="#fd6868" stroke="#e65c5c" stroke-width="0.6"/>
<circle cx="1150.7" cy="662.7" r="6.8" fill="#fd6868" stroke="#e65c5c" stroke-width="0.6"/>
<circle cx="1172.1" cy="662.7" r="6.8" fill="#fd6868" stroke="#e65c5c" stroke-width="0.6"/>
<circle cx="1193.5" cy="662.7" r="6.8" fill="#fd6868" stroke="#e65c5c" stroke-width="0.6"/>
<circle cx="1214.9" cy="662.7" r="6.8" fill="#fd6868" stroke="#e65c5c" stroke-width="0.6"/>
<circle cx="786.9" cy="684.05" r="6.8" fill="#fd6868" stroke="#e65c5c" stroke-width="0.6"/>
<circle cx="808.3" cy="684.05" r="6.8" fill="#fd6868" stroke="#e65c5c" stroke-width="0.6"/>
<circle cx="829.7" cy="684.05" r="6.8" fill="#fd6868" stroke="#e65c5c" stroke-width="0.6"/>
<circle cx="851.1" cy="684.05" r="6.8" fill="#fd6868" stroke="#e65c5c" stroke-width="0.6"/>
<circle cx="872.5" cy="684.05" r="6.8" fill="#fd6868" stroke="#e65c5c" stroke-width="0.6"/>
<circle cx="893.9" cy="684.05" r="6.8" fill="#fd6868" stroke="#e65c5c" stroke-width="0.6"/>
<circle cx="915.3" cy="684.05" r="6.8" fill="#fd6868" stroke="#e65c5c" stroke-width="0.6"/>
<circle cx="936.7" cy="684.05" r="6.8" fill="#fd6868" stroke="#e65c5c" stroke-width="0.6"/>
<circle cx="958.1" cy="684.05" r="6.8" fill="#fd6868" stroke="#e65c5c" stroke-width="0.6"/>
<circle cx="979.5" cy="684.05" r="6.8" fill="#fd6868" stroke="#e65c5c" stroke-width="0.6"/>
<circle cx="1000.9" cy="684.05" r="6.8" fill="#fd6868" stroke="#e65c5c" stroke-width="0.6"/>
<circle cx="1022.3" cy="684.05" r="6.8" fill="#fd6868" stroke="#e65c5c" stroke-width="0.6"/>
<circle cx="1043.7" cy="684.05" r="6.8" fill="#fd6868" stroke="#e65c5c" stroke-width="0.6"/>
<circle cx="1065.1" cy="684.05" r="6.8" fill="#fd6868" stroke="#e65c5c" stroke-width="0.6"/>
<circle cx="1086.5" cy="684.05" r="6.8" fill="#fd6868" stroke="#e65c5c" stroke-width="0.6"/>
<circle cx="1107.9" cy="684.05" r="6.8" fill="#fd6868" stroke="#e65c5c" stroke-width="0.6"/>
<circle cx="1129.3" cy="684.05" r="6.8" fill="#fd6868" stroke="#e65c5c" stroke-width="0.6"/>
<circle cx="1150.7" cy="684.05" r="6.8" fill="#fd6868" stroke="#e65c5c" stroke-width="0.6"/>
<circle cx="1172.1" cy="684.05" r="6.8" fill="#fd6868" stroke="#e65c5c" stroke-width="0.6"/>
<circle cx="1193.5" cy="684.05" r="6.8" fill="#fd6868" stroke="#e65c5c" stroke-width="0.6"/>
<circle cx="1214.9" cy="684.05" r="6.8" fill="#fd6868" stroke="#e65c5c" stroke-width="0.6"/>
<circle cx="786.9" cy="705.4" r="6.8" fill="#fd6868" stroke="#e65c5c" stroke-width="0.6"/>
<circle cx="808.3" cy="705.4" r="6.8" fill="#fd6868" stroke="#e65c5c" stroke-width="0.6"/>
<circle cx="829.7" cy="705.4" r="6.8" fill="#fd6868" stroke="#e65c5c" stroke-width="0.6"/>
<circle cx="851.1" cy="705.4" r="6.8" fill="#fd6868" stroke="#e65c5c" stroke-width="0.6"/>
<circle cx="872.5" cy="705.4" r="6.8" fill="#fd6868" stroke="#e65c5c" stroke-width="0.6"/>
<circle cx="893.9" cy="705.4" r="6.8" fill="#fd6868" stroke="#e65c5c" stroke-width="0.6"/>
<circle cx="915.3" cy="705.4" r="6.8" fill="#fd6868" stroke="#e65c5c" stroke-width="0.6"/>
<circle cx="936.7" cy="705.4" r="6.8" fill="#fd6868" stroke="#e65c5c" stroke-width="0.6"/>
<circle cx="958.1" cy="705.4" r="6.8" fill="#fd6868" stroke="#e65c5c" stroke-width="0.6"/>
<circle cx="979.5" cy="705.4" r="6.8" fill="#fd6868" stroke="#e65c5c" stroke-width="0.6"/>
<circle cx="1000.9" cy="705.4" r="6.8" fill="#fd6868" stroke="#e65c5c" stroke-width="0.6"/>
<circle cx="1022.3" cy="705.4" r="6.8" fill="#fd6868" stroke="#e65c5c" stroke-width="0.6"/>
<circle cx="1043.7" cy="705.4" r="6.8" fill="#fd6868" stroke="#e65c5c" stroke-width="0.6"/>
<circle cx="1065.1" cy="705.4" r="6.8" fill="#fd6868" stroke="#e65c5c" stroke-width="0.6"/>
<circle cx="1086.5" cy="705.4" r="6.8" fill="#fd6868" stroke="#e65c5c" stroke-width="0.6"/>
<circle cx="1107.9" cy="705.4" r="6.8" fill="#fd6868" stroke="#e65c5c" stroke-width="0.6"/>
<circle cx="1129.3" cy="705.4" r="6.8" fill="#fd6868" stroke="#e65c5c" stroke-width="0.6"/>
<circle cx="1150.7" cy="705.4" r="6.8" fill="#fd6868" stroke="#e65c5c" stroke-width="0.6"/>
<circle cx="1172.1" cy="705.4" r="6.8" fill="#fd6868" stroke="#e65c5c" stroke-width="0.6"/>
<circle cx="1193.5" cy="705.4" r="6.8" fill="#fd6868" stroke="#e65c5c" stroke-width="0.6"/>
<circle cx="1214.9" cy="705.4" r="6.8" fill="#fd6868" stroke="#e65c5c" stroke-width="0.6"/>
<circle cx="786.9" cy="726.75" r="6.8" fill="#fd6868" stroke="#e65c5c" stroke-width="0.6"/>
<circle cx="808.3" cy="726.75" r="6.8" fill="#fd6868" stroke="#e65c5c" stroke-width="0.6"/>
<circle cx="829.7" cy="726.75" r="6.8" fill="#fd6868" stroke="#e65c5c" stroke-width="0.6"/>
<circle cx="851.1" cy="726.75" r="6.8" fill="#fd6868" stroke="#e65c5c" stroke-width="0.6"/>
<circle cx="872.5" cy="726.75" r="6.8" fill="#fd6868" stroke="#e65c5c" stroke-width="0.6"/>
<circle cx="893.9" cy="726.75" r="6.8" fill="#fd6868" stroke="#e65c5c" stroke-width="0.6"/>
<circle cx="915.3" cy="726.75" r="6.8" fill="#fd6868" stroke="#e65c5c" stroke-width="0.6"/>
<circle cx="936.7" cy="726.75" r="6.8" fill="#fd6868" stroke="#e65c5c" stroke-width="0.6"/>
<circle cx="958.1" cy="726.75" r="6.8" fill="#fd6868" stroke="#e65c5c" stroke-width="0.6"/>
<circle cx="979.5" cy="726.75" r="6.8" fill="#fd6868" stroke="#e65c5c" stroke-width="0.6"/>
<circle cx="1000.9" cy="726.75" r="6.8" fill="#fd6868" stroke="#e65c5c" stroke-width="0.6"/>
<circle cx="1022.3" cy="726.75" r="6.8" fill="#fd6868" stroke="#e65c5c" stroke-width="0.6"/>
<circle cx="1043.7" cy="726.75" r="6.8" fill="#fd6868" stroke="#e65c5c" stroke-width="0.6"/>
<circle cx="1065.1" cy="726.75" r="6.8" fill="#fd6868" stroke="#e65c5c" stroke-width="0.6"/>
<circle cx="1086.5" cy="726.75" r="6.8" fill="#fd6868" stroke="#e65c5c" stroke-width="0.6"/>
<circle cx="1107.9" cy="726.75" r="6.8" fill="#fd6868" stroke="#e65c5c" stroke-width="0.6"/>
<circle cx="1129.3" cy="726.75" r="6.8" fill="#fd6868" stroke="#e65c5c" stroke-width="0.6"/>
<circle cx="1150.7" cy="726.75" r="6.8" fill="#fd6868" stroke="#e65c5c" stroke-width="0.6"/>
<circle cx="1172.1" cy="726.75" r="6.8" fill="#fd6868" stroke="#e65c5c" stroke-width="0.6"/>
<circle cx="1193.5" cy="726.75" r="6.8" fill="#fd6868" stroke="#e65c5c" stroke-width="0.6"/>
<circle cx="1214.9" cy="726.75" r="6.8" fill="#fd6868" stroke="#e65c5c" stroke-width="0.6"/>
<circle cx="786.9" cy="748.1" r="6.8" fill="#fd6868" stroke="#e65c5c" stroke-width="0.6"/>
<circle cx="808.3" cy="748.1" r="6.8" fill="#fd6868" stroke="#e65c5c" stroke-width="0.6"/>
<circle cx="829.7" cy="748.1" r="6.8" fill="#fd6868" stroke="#e65c5c" stroke-width="0.6"/>
<circle cx="851.1" cy="748.1" r="6.8" fill="#fd6868" stroke="#e65c5c" stroke-width="0.6"/>
<circle cx="872.5" cy="748.1" r="6.8" fill="#fd6868" stroke="#e65c5c" stroke-width="0.6"/>
<circle cx="893.9" cy="748.1" r="6.8" fill="#fd6868" stroke="#e65c5c" stroke-width="0.6"/>
<circle cx="915.3" cy="748.1" r="6.8" fill="#fd6868" stroke="#e65c5c" stroke-width="0.6"/>
<circle cx="936.7" cy="748.1" r="6.8" fill="#fd6868" stroke="#e65c5c" stroke-width="0.6"/>
<circle cx="958.1" cy="748.1" r="6.8" fill="#fd6868" stroke="#e65c5c" stroke-width="0.6"/>
<circle cx="979.5" cy="748.1" r="6.8" fill="#fd6868" stroke="#e65c5c" stroke-width="0.6"/>
<circle cx="1000.9" cy="748.1" r="6.8" fill="#fd6868" stroke="#e65c5c" stroke-width="0.6"/>
<circle cx="1022.3" cy="748.1" r="6.8" fill="#fd6868" stroke="#e65c5c" stroke-width="0.6"/>
<circle cx="1043.7" cy="748.1" r="6.8" fill="#fd6868" stroke="#e65c5c" stroke-width="0.6"/>
<circle cx="1065.1" cy="748.1" r="6.8" fill="#fd6868" stroke="#e65c5c" stroke-width="0.6"/>
<circle cx="1086.5" cy="748.1" r="6.8" fill="#fd6868" stroke="#e65c5c" stroke-width="0.6"/>
<circle cx="1107.9" cy="748.1" r="6.8" fill="#fd6868" stroke="#e65c5c" stroke-width="0.6"/>
<circle cx="1129.3" cy="748.1" r="6.8" fill="#fd6868" stroke="#e65c5c" stroke-width="0.6"/>
<circle cx="1150.7" cy="748.1" r="6.8" fill="#fd6868" stroke="#e65c5c" stroke-width="0.6"/>
<circle cx="1172.1" cy="748.1" r="6.8" fill="#fd6868" stroke="#e65c5c" stroke-width="0.6"/>
<circle cx="1193.5" cy="748.1" r="6.8" fill="#fd6868" stroke="#e65c5c" stroke-width="0.6"/>
<circle cx="1214.9" cy="748.1" r="6.8" fill="#fd6868" stroke="#e65c5c" stroke-width="0.6"/>
<circle cx="786.9" cy="769.45" r="6.8" fill="#fd6868" stroke="#e65c5c" stroke-width="0.6"/>
<circle cx="808.3" cy="769.45" r="6.8" fill="#fd6868" stroke="#e65c5c" stroke-width="0.6"/>
<circle cx="829.7" cy="769.45" r="6.8" fill="#fd6868" stroke="#e65c5c" stroke-width="0.6"/>
<circle cx="851.1" cy="769.45" r="6.8" fill="#fd6868" stroke="#e65c5c" stroke-width="0.6"/>
<circle cx="872.5" cy="769.45" r="6.8" fill="#fd6868" stroke="#e65c5c" stroke-width="0.6"/>
<rect x="887.7" y="763.25" width="12.4" height="12.4" fill="#06dc06"/>
<circle cx="915.3" cy="769.45" r="6.8" fill="#fd6868" stroke="#e65c5c" stroke-width="0.6"/>
<circle cx="936.7" cy="769.45" r="6.8" fill="#fd6868" stroke="#e65c5c" stroke-width="0.6"/>
<circle cx="958.1" cy="769.45" r="6.8" fill="#fd6868" stroke="#e65c5c" stroke-width="0.6"/>
<circle cx="979.5" cy="769.45" r="6.8" fill="#fd6868" stroke="#e65c5c" stroke-width="0.6"/>
<path d="M1000.9 759.75L1009.2 774.35L992.6 774.35Z" fill="#ffff00"/>
<path d="M1022.3 759.75L1030.6 774.35L1014 774.35Z" fill="#ffff00"/>
<path d="M1043.7 759.75L1052 774.35L1035.4 774.35Z" fill="#ffff00"/>
<path d="M1065.1 759.75L1073.4 774.35L1056.8 774.35Z" fill="#ffff00"/>
<rect x="1080.3" y="763.25" width="12.4" height="12.4" fill="#06dc06"/>
<path d="M1107.9 759.75L1116.2 774.35L1099.6 774.35Z" fill="#ffff00"/>
<path d="M1129.3 759.75L1137.6 774.35L1121 774.35Z" fill="#ffff00"/>
<rect x="1144.5" y="763.25" width="12.4" height="12.4" fill="#06dc06"/>
<circle cx="1172.1" cy="769.45" r="6.8" fill="#fd6868" stroke="#e65c5c" stroke-width="0.6"/>
<rect x="1187.3" y="763.25" width="12.4" height="12.4" fill="#06dc06"/>
<circle cx="1214.9" cy="769.45" r="6.8" fill="#fd6868" stroke="#e65c5c" stroke-width="0.6"/>
<circle cx="786.9" cy="790.8" r="6.8" fill="#fd6868" stroke="#e65c5c" stroke-width="0.6"/>
<circle cx="808.3" cy="790.8" r="6.8" fill="#fd6868" stroke="#e65c5c" stroke-width="0.6"/>
<rect x="823.5" y="784.6" width="12.4" height="12.4" fill="#06dc06"/>
<rect x="844.9" y="784.6" width="12.4" height="12.4" fill="#06dc06"/>
<path d="M872.5 781.1L880.8 795.7L864.2 795.7Z" fill="#ffff00"/>
<rect x="887.7" y="784.6" width="12.4" height="12.4" fill="#06dc06"/>
<circle cx="915.3" cy="790.8" r="6.8" fill="#fd6868" stroke="#e65c5c" stroke-width="0.6"/>
<rect x="930.5" y="784.6" width="12.4" height="12.4" fill="#06dc06"/>
<rect x="951.9" y="784.6" width="12.4" height="12.4" fill="#06dc06"/>
<path d="M979.5 781.1L987.8 795.7L971.2 795.7Z" fill="#ffff00"/>
<path d="M1000.9 781.1L1009.2 795.7L992.6 795.7Z" fill="#ffff00"/>
<rect x="1016.1" y="784.6" width="12.4" height="12.4" fill="#06dc06"/>
<rect x="1037.5" y="784.6" width="12.4" height="12.4" fill="#06dc06"/>
<rect x="1058.9" y="784.6" width="12.4" height="12.4" fill="#06dc06"/>
<path d="M1086.5 781.1L1094.8 795.7L1078.2 795.7Z" fill="#ffff00"/>
<rect x="1101.7" y="784.6" width="12.4" height="12.4" fill="#06dc06"/>
<rect x="1123.1" y="784.6" width="12.4" height="12.4" fill="#06dc06"/>
<path d="M1150.7 781.1L1159 795.7L1142.4 795.7Z" fill="#ffff00"/>
<path d="M1172.1 781.1L1180.4 795.7L1163.8 795.7Z" fill="#ffff00"/>
<path d="M1193.5 781.1L1201.8 795.7L1185.2 795.7Z" fill="#ffff00"/>
<circle cx="1214.9" cy="790.8" r="6.8" fill="#fd6868" stroke="#e65c5c" stroke-width="0.6"/>
<circle cx="786.9" cy="812.15" r="6.8" fill="#fd6868" stroke="#e65c5c" stroke-width="0.6"/>
<circle cx="808.3" cy="812.15" r="6.8" fill="#fd6868" stroke="#e65c5c" stroke-width="0.6"/>
<path d="M829.7 802.45L838 817.05L821.4 817.05Z" fill="#ffff00"/>
<path d="M851.1 802.45L859.4 817.05L842.8 817.05Z" fill="#ffff00"/>
<path d="M872.5 802.45L880.8 817.05L864.2 817.05Z" fill="#ffff00"/>
<path d="M893.9 802.45L902.2 817.05L885.6 817.05Z" fill="#ffff00"/>
<circle cx="915.3" cy="812.15" r="6.8" fill="#fd6868" stroke="#e65c5c" stroke-width="0.6"/>
<path d="M936.7 802.45L945 817.05L928.4 817.05Z" fill="#ffff00"/>
<path d="M958.1 802.45L966.4 817.05L949.8 817.05Z" fill="#ffff00"/>
<path d="M979.5 802.45L987.8 817.05L971.2 817.05Z" fill="#ffff00"/>
<path d="M1000.9 802.45L1009.2 817.05L992.6 817.05Z" fill="#ffff00"/>
<circle cx="1022.3" cy="812.15" r="6.8" fill="#fd6868" stroke="#e65c5c" stroke-width="0.6"/>
<circle cx="1043.7" cy="812.15" r="6.8" fill="#fd6868" stroke="#e65c5c" stroke-width="0.6"/>
<circle cx="1065.1" cy="812.15" r="6.8" fill="#fd6868" stroke="#e65c5c" stroke-width="0.6"/>
<circle cx="1086.5" cy="812.15" r="6.8" fill="#fd6868" stroke="#e65c5c" stroke-width="0.6"/>
<circle cx="1107.9" cy="812.15" r="6.8" fill="#fd6868" stroke="#e65c5c" stroke-width="0.6"/>
<circle cx="1129.3" cy="812.15" r="6.8" fill="#fd6868" stroke="#e65c5c" stroke-width="0.6"/>
<circle cx="1150.7" cy="812.15" r="6.8" fill="#fd6868" stroke="#e65c5c" stroke-width="0.6"/>
<circle cx="1172.1" cy="812.15" r="6.8" fill="#fd6868" stroke="#e65c5c" stroke-width="0.6"/>
<circle cx="1193.5" cy="812.15" r="6.8" fill="#fd6868" stroke="#e65c5c" stroke-width="0.6"/>
<circle cx="1214.9" cy="812.15" r="6.8" fill="#fd6868" stroke="#e65c5c" stroke-width="0.6"/>
<circle cx="786.9" cy="833.5" r="6.8" fill="#fd6868" stroke="#e65c5c" stroke-width="0.6"/>
<circle cx="808.3" cy="833.5" r="6.8" fill="#fd6868" stroke="#e65c5c" stroke-width="0.6"/>
<circle cx="829.7" cy="833.5" r="6.8" fill="#fd6868" stroke="#e65c5c" stroke-width="0.6"/>
<circle cx="851.1" cy="833.5" r="6.8" fill="#fd6868" stroke="#e65c5c" stroke-width="0.6"/>
<circle cx="872.5" cy="833.5" r="6.8" fill="#fd6868" stroke="#e65c5c" stroke-width="0.6"/>
<circle cx="893.9" cy="833.5" r="6.8" fill="#fd6868" stroke="#e65c5c" stroke-width="0.6"/>
<circle cx="915.3" cy="833.5" r="6.8" fill="#fd6868" stroke="#e65c5c" stroke-width="0.6"/>
<circle cx="936.7" cy="833.5" r="6.8" fill="#fd6868" stroke="#e65c5c" stroke-width="0.6"/>
<circle cx="958.1" cy="833.5" r="6.8" fill="#fd6868" stroke="#e65c5c" stroke-width="0.6"/>
<circle cx="979.5" cy="833.5" r="6.8" fill="#fd6868" stroke="#e65c5c" stroke-width="0.6"/>
<circle cx="1000.9" cy="833.5" r="6.8" fill="#fd6868" stroke="#e65c5c" stroke-width="0.6"/>
<circle cx="1022.3" cy="833.5" r="6.8" fill="#fd6868" stroke="#e65c5c" stroke-width="0.6"/>
<circle cx="1043.7" cy="833.5" r="6.8" fill="#fd6868" stroke="#e65c5c" stroke-width="0.6"/>
<circle cx="1065.1" cy="833.5" r="6.8" fill="#fd6868" stroke="#e65c5c" stroke-width="0.6"/>
<circle cx="1086.5" cy="833.5" r="6.8" fill="#fd6868" stroke="#e65c5c" stroke-width="0.6"/>
<circle cx="1107.9" cy="833.5" r="6.8" fill="#fd6868" stroke="#e65c5c" stroke-width="0.6"/>
<circle cx="1129.3" cy="833.5" r="6.8" fill="#fd6868" stroke="#e65c5c" stroke-width="0.6"/>
<circle cx="1150.7" cy="833.5" r="6.8" fill="#fd6868" stroke="#e65c5c" stroke-width="0.6"/>
<circle cx="1172.1" cy="833.5" r="6.8" fill="#fd6868" stroke="#e65c5c" stroke-width="0.6"/>
<circle cx="1193.5" cy="833.5" r="6.8" fill="#fd6868" stroke="#e65c5c" stroke-width="0.6"/>
<circle cx="1214.9" cy="833.5" r="6.8" fill="#fd6868" stroke="#e65c5c" stroke-width="0.6"/>
<circle cx="786.9" cy="854.85" r="6.8" fill="#fd6868" stroke="#e65c5c" stroke-width="0.6"/>
<circle cx="808.3" cy="854.85" r="6.8" fill="#fd6868" stroke="#e65c5c" stroke-width="0.6"/>
<circle cx="829.7" cy="854.85" r="6.8" fill="#fd6868" stroke="#e65c5c" stroke-width="0.6"/>
<circle cx="851.1" cy="854.85" r="6.8" fill="#fd6868" stroke="#e65c5c" stroke-width="0.6"/>
<circle cx="872.5" cy="854.85" r="6.8" fill="#fd6868" stroke="#e65c5c" stroke-width="0.6"/>
<circle cx="893.9" cy="854.85" r="6.8" fill="#fd6868" stroke="#e65c5c" stroke-width="0.6"/>
<circle cx="915.3" cy="854.85" r="6.8" fill="#fd6868" stroke="#e65c5c" stroke-width="0.6"/>
<circle cx="936.7" cy="854.85" r="6.8" fill="#fd6868" stroke="#e65c5c" stroke-width="0.6"/>
<circle cx="958.1" cy="854.85" r="6.8" fill="#fd6868" stroke="#e65c5c" stroke-width="0.6"/>
<circle cx="979.5" cy="854.85" r="6.8" fill="#fd6868" stroke="#e65c5c" stroke-width="0.6"/>
<circle cx="1000.9" cy="854.85" r="6.8" fill="#fd6868" stroke="#e65c5c" stroke-width="0.6"/>
<circle cx="1022.3" cy="854.85" r="6.8" fill="#fd6868" stroke="#e65c5c" stroke-width="0.6"/>
<circle cx="1043.7" cy="854.85" r="6.8" fill="#fd6868" stroke="#e65c5c" stroke-width="0.6"/>
<circle cx="1065.1" cy="854.85" r="6.8" fill="#fd6868" stroke="#e65c5c" stroke-width="0.6"/>
<circle cx="1086.5" cy="854.85" r="6.8" fill="#fd6868" stroke="#e65c5c" stroke-width="0.6"/>
<circle cx="1107.9" cy="854.85" r="6.8" fill="#fd6868" stroke="#e65c5c" stroke-width="0.6"/>
<circle cx="1129.3" cy="854.85" r="6.8" fill="#fd6868" stroke="#e65c5c" stroke-width="0.6"/>
<circle cx="1150.7" cy="854.85" r="6.8" fill="#fd6868" stroke="#e65c5c" stroke-width="0.6"/>
<circle cx="1172.1" cy="854.85" r="6.8" fill="#fd6868" stroke="#e65c5c" stroke-width="0.6"/>
<circle cx="1193.5" cy="854.85" r="6.8" fill="#fd6868" stroke="#e65c5c" stroke-width="0.6"/>
<circle cx="1214.9" cy="854.85" r="6.8" fill="#fd6868" stroke="#e65c5c" stroke-width="0.6"/>
<circle cx="786.9" cy="876.2" r="6.8" fill="#fd6868" stroke="#e65c5c" stroke-width="0.6"/>
<circle cx="808.3" cy="876.2" r="6.8" fill="#fd6868" stroke="#e65c5c" stroke-width="0.6"/>
<circle cx="829.7" cy="876.2" r="6.8" fill="#fd6868" stroke="#e65c5c" stroke-width="0.6"/>
<circle cx="851.1" cy="876.2" r="6.8" fill="#fd6868" stroke="#e65c5c" stroke-width="0.6"/>
<circle cx="872.5" cy="876.2" r="6.8" fill="#fd6868" stroke="#e65c5c" stroke-width="0.6"/>
<circle cx="893.9" cy="876.2" r="6.8" fill="#fd6868" stroke="#e65c5c" stroke-width="0.6"/>
<circle cx="915.3" cy="876.2" r="6.8" fill="#fd6868" stroke="#e65c5c" stroke-width="0.6"/>
<circle cx="936.7" cy="876.2" r="6.8" fill="#fd6868" stroke="#e65c5c" stroke-width="0.6"/>
<circle cx="958.1" cy="876.2" r="6.8" fill="#fd6868" stroke="#e65c5c" stroke-width="0.6"/>
<circle cx="979.5" cy="876.2" r="6.8" fill="#fd6868" stroke="#e65c5c" stroke-width="0.6"/>
<circle cx="1000.9" cy="876.2" r="6.8" fill="#fd6868" stroke="#e65c5c" stroke-width="0.6"/>
<circle cx="1022.3" cy="876.2" r="6.8" fill="#fd6868" stroke="#e65c5c" stroke-width="0.6"/>
<circle cx="1043.7" cy="876.2" r="6.8" fill="#fd6868" stroke="#e65c5c" stroke-width="0.6"/>
<circle cx="1065.1" cy="876.2" r="6.8" fill="#fd6868" stroke="#e65c5c" stroke-width="0.6"/>
<circle cx="1086.5" cy="876.2" r="6.8" fill="#fd6868" stroke="#e65c5c" stroke-width="0.6"/>
<circle cx="1107.9" cy="876.2" r="6.8" fill="#fd6868" stroke="#e65c5c" stroke-width="0.6"/>
<circle cx="1129.3" cy="876.2" r="6.8" fill="#fd6868" stroke="#e65c5c" stroke-width="0.6"/>
<circle cx="1150.7" cy="876.2" r="6.8" fill="#fd6868" stroke="#e65c5c" stroke-width="0.6"/>
<circle cx="1172.1" cy="876.2" r="6.8" fill="#fd6868" stroke="#e65c5c" stroke-width="0.6"/>
<circle cx="1193.5" cy="876.2" r="6.8" fill="#fd6868" stroke="#e65c5c" stroke-width="0.6"/>
<circle cx="1214.9" cy="876.2" r="6.8" fill="#fd6868" stroke="#e65c5c" stroke-width="0.6"/>
<circle cx="786.9" cy="897.55" r="6.8" fill="#fd6868" stroke="#e65c5c" stroke-width="0.6"/>
<circle cx="808.3" cy="897.55" r="6.8" fill="#fd6868" stroke="#e65c5c" stroke-width="0.6"/>
<circle cx="829.7" cy="897.55" r="6.8" fill="#fd6868" stroke="#e65c5c" stroke-width="0.6"/>
<circle cx="851.1" cy="897.55" r="6.8" fill="#fd6868" stroke="#e65c5c" stroke-width="0.6"/>
<circle cx="872.5" cy="897.55" r="6.8" fill="#fd6868" stroke="#e65c5c" stroke-width="0.6"/>
<circle cx="893.9" cy="897.55" r="6.8" fill="#fd6868" stroke="#e65c5c" stroke-width="0.6"/>
<circle cx="915.3" cy="897.55" r="6.8" fill="#fd6868" stroke="#e65c5c" stroke-width="0.6"/>
<circle cx="936.7" cy="897.55" r="6.8" fill="#fd6868" stroke="#e65c5c" stroke-width="0.6"/>
<circle cx="958.1" cy="897.55" r="6.8" fill="#fd6868" stroke="#e65c5c" stroke-width="0.6"/>
<circle cx="979.5" cy="897.55" r="6.8" fill="#fd6868" stroke="#e65c5c" stroke-width="0.6"/>
<circle cx="1000.9" cy="897.55" r="6.8" fill="#fd6868" stroke="#e65c5c" stroke-width="0.6"/>
<circle cx="1022.3" cy="897.55" r="6.8" fill="#fd6868" stroke="#e65c5c" stroke-width="0.6"/>
<circle cx="1043.7" cy="897.55" r="6.8" fill="#fd6868" stroke="#e65c5c" stroke-width="0.6"/>
<circle cx="1065.1" cy="897.55" r="6.8" fill="#fd6868" stroke="#e65c5c" stroke-width="0.6"/>
<circle cx="1086.5" cy="897.55" r="6.8" fill="#fd6868" stroke="#e65c5c" stroke-width="0.6"/>
<circle cx="1107.9" cy="897.55" r="6.8" fill="#fd6868" stroke="#e65c5c" stroke-width="0.6"/>
<circle cx="1129.3" cy="897.55" r="6.8" fill="#fd6868" stroke="#e65c5c" stroke-width="0.6"/>
<circle cx="1150.7" cy="897.55" r="6.8" fill="#fd6868" stroke="#e65c5c" stroke-width="0.6"/>
<circle cx="1172.1" cy="897.55" r="6.8" fill="#fd6868" stroke="#e65c5c" stroke-width="0.6"/>
<circle cx="1193.5" cy="897.55" r="6.8" fill="#fd6868" stroke="#e65c5c" stroke-width="0.6"/>
<circle cx="1214.9" cy="897.55" r="6.8" fill="#fd6868" stroke="#e65c5c" stroke-width="0.6"/>
<rect x="776.6" y="139" width="448.4" height="769" fill="none" stroke="#111" stroke-width="2"/>
<path d="M786.9 139V131M808.3 139V131M829.7 139V131M851.1 139V131M872.5 139V131M893.9 139V131M915.3 139V131M936.7 139V131M958.1 139V131M979.5 139V131M1000.9 139V131M1022.3 139V131M1043.7 139V131M1065.1 139V131M1086.5 139V131M1107.9 139V131M1129.3 139V131M1150.7 139V131M1172.1 139V131M1193.5 139V131M1214.9 139V131M776.6 150.3H768.1M776.6 171.65H768.1M776.6 193H768.1M776.6 214.35H768.1M776.6 235.7H768.1M776.6 257.05H768.1M776.6 278.4H768.1M776.6 299.75H768.1M776.6 321.1H768.1M776.6 342.45H768.1M776.6 363.8H768.1M776.6 385.15H768.1M776.6 406.5H768.1M776.6 427.85H768.1M776.6 449.2H768.1M776.6 470.55H768.1M776.6 491.9H768.1M776.6 513.25H768.1M776.6 534.6H768.1M776.6 555.95H768.1M776.6 577.3H768.1M776.6 598.65H768.1M776.6 620H768.1M776.6 641.35H768.1M776.6 662.7H768.1M776.6 684.05H768.1M776.6 705.4H768.1M776.6 726.75H768.1M776.6 748.1H768.1M776.6 769.45H768.1M776.6 790.8H768.1M776.6 812.15H768.1M776.6 833.5H768.1M776.6 854.85H768.1M776.6 876.2H768.1M776.6 897.55H768.1" stroke="#111" stroke-width="1.6" fill="none"/>
<g font-family="'Liberation Sans', Arial, sans-serif" font-size="21" text-anchor="end">
<text x="761.2" y="156.4">(Cu, Cu)</text>
<text x="761.2" y="177.75">(Ni, Cu)</text>
<text x="761.2" y="199.1">(Ni, Ni)</text>
<text x="761.2" y="220.45">(Co, Cu)</text>
<text x="761.2" y="241.8">(Co, Ni)</text>
<text x="761.2" y="263.15">(Co, Co)</text>
<text x="761.2" y="284.5">(Fe, Cu)</text>
<text x="761.2" y="305.85">(Fe, Ni)</text>
<text x="761.2" y="327.2">(Fe, Co)</text>
<text x="761.2" y="348.55">(Fe, Fe)</text>
<text x="761.2" y="369.9">(Mn, Cu)</text>
<text x="761.2" y="391.25">(Mn, Ni)</text>
<text x="761.2" y="412.6">(Mn, Co)</text>
<text x="761.2" y="433.95">(Mn, Fe)</text>
<text x="761.2" y="455.3">(Mn, Mn)</text>
<text x="761.2" y="476.65">(Cr, Cu)</text>
<text x="761.2" y="498">(Cr, Ni)</text>
<text x="761.2" y="519.35">(Cr, Co)</text>
<text x="761.2" y="540.7">(Cr, Fe)</text>
<text x="761.2" y="562.05">(Cr, Mn)</text>
<text x="761.2" y="583.4">(Cr, Cr)</text>
<text x="761.2" y="604.75">(V, Cu)</text>
<text x="761.2" y="626.1">(V, Ni)</text>
<text x="761.2" y="647.45">(V, Co)</text>
<text x="761.2" y="668.8">(V, Fe)</text>
<text x="761.2" y="690.15">(V, Mn)</text>
<text x="761.2" y="711.5">(V, Cr)</text>
<text x="761.2" y="732.85">(V, V)</text>
<text x="761.2" y="754.2">(Ti, Cu)</text>
<text x="761.2" y="775.55">(Ti, Ni)</text>
<text x="761.2" y="796.9">(Ti, Co)</text>
<text x="761.2" y="818.25">(Ti, Fe)</text>
<text x="761.2" y="839.6">(Ti, Mn)</text>
<text x="761.2" y="860.95">(Ti, Cr)</text>
<text x="761.2" y="882.3">(Ti, V)</text>
<text x="761.2" y="903.65">(Ti, Ti)</text>
</g>
<g font-family="'Liberation Sans', Arial, sans-serif" font-size="21">
<text transform="translate(786.6,120.3) rotate(-58)">(Rb, Rb)</text>
<text transform="translate(808,120.3) rotate(-58)">(Rb, Cs)</text>
<text transform="translate(829.4,120.3) rotate(-58)">(Rb, Ca)</text>
<text transform="translate(850.8,120.3) rotate(-58)">(Rb, Sr)</text>
<text transform="translate(872.2,120.3) rotate(-58)">(Rb, Ba)</text>
<text transform="translate(893.6,120.3) rotate(-58)">(Rb, La)</text>
<text transform="translate(915,120.3) rotate(-58)">(Cs, Cs)</text>
<text transform="translate(936.4,120.3) rotate(-58)">(Cs, Ca)</text>
<text transform="translate(957.8,120.3) rotate(-58)">(Cs, Sr)</text>
<text transform="translate(979.2,120.3) rotate(-58)">(Cs, Ba)</text>
<text transform="translate(1000.6,120.3) rotate(-58)">(Cs, La)</text>
<text transform="translate(1022,120.3) rotate(-58)">(Ca, Ca)</text>
<text transform="translate(1043.4,120.3) rotate(-58)">(Ca, Sr)</text>
<text transform="translate(1064.8,120.3) rotate(-58)">(Ca, Ba)</text>
<text transform="translate(1086.2,120.3) rotate(-58)">(Ca, La)</text>
<text transform="translate(1107.6,120.3) rotate(-58)">(Sr, Sr)</text>
<text transform="translate(1129,120.3) rotate(-58)">(Sr, Ba)</text>
<text transform="translate(1150.4,120.3) rotate(-58)">(Sr, La)</text>
<text transform="translate(1171.8,120.3) rotate(-58)">(Ba, Ba)</text>
<text transform="translate(1193.2,120.3) rotate(-58)">(Ba, La)</text>
<text transform="translate(1214.6,120.3) rotate(-58)">(La, La)</text>
</g>
<text x="691" y="82.5" font-family="'Liberation Sans', Arial, sans-serif" font-size="23.2">A<tspan font-size="16" dy="6">x</tspan><tspan dy="-6">A'</tspan><tspan font-size="16" dy="7">(1-x)</tspan></text>
<path d="M767 72.5H778" stroke="#111" stroke-width="1.3"/><path d="M776 69.6L787.5 72.5L776 75.4Z" fill="#111"/>
<text x="691" y="112.5" font-family="'Liberation Sans', Arial, sans-serif" font-size="20">B<tspan font-size="16" dy="5">y</tspan><tspan dy="-5">B'</tspan><tspan font-size="16.5" dy="6">(1-y)</tspan></text>
<path d="M720.6 118V126" stroke="#111" stroke-width="1.3"/><path d="M718 123.5L720.6 134.5L723.2 123.5Z" fill="#111"/>
<polyline points="1339.0,121.5 1339.5,121.5 1340.0,121.6 1340.5,121.8 1341.0,121.8 1341.5,121.7 1342.0,121.5 1342.5,121.4 1343.0,121.5 1343.5,121.5 1344.0,121.5 1344.5,121.4 1345.0,121.5 1345.5,121.6 1346.0,121.6 1346.5,121.6 1347.0,121.8 1347.5,121.9 1348.0,122.1 1348.5,122.1 1349.0,122.1 1349.5,121.9 1350.0,121.8 1350.5,121.6 1351.0,121.6 1351.5,121.8 1352.0,122.0 1352.5,121.8 1353.0,121.7 1353.5,121.7 1354.0,121.9 1354.5,121.8 1355.0,121.8 1355.5,121.7 1356.0,121.5 1356.5,121.5 1357.0,121.5 1357.5,121.4 1358.0,121.5 1358.5,121.5 1359.0,121.6 1359.5,121.6 1360.0,121.6 1360.5,121.5 1361.0,121.4 1361.5,121.6 1362.0,121.4 1362.5,121.4 1363.0,121.3 1363.5,121.2 1364.0,121.3 1364.5,121.5 1365.0,121.5 1365.5,121.4 1366.0,121.4 1366.5,121.3 1367.0,121.3 1367.5,121.3 1368.0,121.2 1368.5,121.5 1369.0,121.5 1369.5,121.6 1370.0,121.6 1370.5,121.8 1371.0,121.7 1371.5,121.5 1372.0,121.3 1372.5,121.4 1373.0,121.6 1373.5,121.7 1374.0,121.7 1374.5,121.9 1375.0,121.7 1375.5,121.5 1376.0,121.2 1376.5,121.3 1377.0,121.5 1377.5,121.5 1378.0,121.5 1378.5,121.3 1379.0,121.5 1379.5,121.5 1380.0,121.5 1380.5,121.6 1381.0,121.6 1381.5,121.7 1382.0,121.6 1382.5,121.5 1383.0,121.3 1383.5,121.3 1384.0,121.3 1384.5,121.3 1385.0,121.4 1385.5,121.3 1386.0,121.4 1386.5,121.4 1387.0,121.7 1387.5,121.7 1388.0,122.0 1388.5,122.0 1389.0,121.9 1389.5,121.6 1390.0,121.4 1390.5,121.2 1391.0,121.4 1391.5,121.5 1392.0,121.5 1392.5,121.4 1393.0,121.4 1393.5,121.4 1394.0,121.3 1394.5,121.3 1395.0,121.5 1395.5,121.5 1396.0,121.5 1396.5,121.5 1397.0,121.3 1397.5,121.3 1398.0,121.0 1398.5,120.9 1399.0,120.7 1399.5,120.3 1400.0,118.1 1400.5,108.8 1401.0,90.4 1401.3,84.3 1401.5,86.8 1402.0,104.5 1402.5,116.8 1403.0,119.9 1403.5,120.7 1404.0,120.8 1404.5,121.1 1405.0,121.2 1405.5,121.0 1406.0,121.0 1406.5,121.2 1407.0,121.4 1407.5,121.5 1408.0,121.5 1408.5,121.3 1409.0,121.5 1409.5,121.5 1410.0,121.7 1410.5,121.7 1411.0,121.6 1411.5,121.3 1412.0,121.3 1412.5,121.3 1413.0,121.4 1413.5,121.6 1414.0,121.6 1414.5,121.6 1415.0,121.5 1415.5,121.6 1416.0,121.7 1416.5,121.7 1417.0,121.6 1417.5,121.4 1418.0,121.5 1418.5,121.5 1419.0,121.4 1419.5,121.3 1420.0,121.5 1420.5,121.6 1421.0,121.6 1421.5,121.6 1422.0,121.2 1422.5,121.1 1423.0,120.9 1423.5,120.8 1424.0,120.2 1424.5,118.5 1425.0,108.0 1425.5,81.8 1425.8,74.2 1426.0,80.0 1426.5,106.6 1427.0,118.0 1427.5,120.2 1428.0,120.8 1428.5,121.0 1429.0,121.1 1429.5,121.2 1430.0,121.2 1430.5,121.2 1431.0,121.0 1431.5,121.1 1432.0,121.3 1432.5,121.5 1433.0,121.6 1433.5,121.3 1434.0,121.2 1434.5,121.2 1435.0,121.2 1435.5,121.1 1436.0,121.1 1436.5,121.2 1437.0,121.3 1437.5,121.3 1438.0,121.5 1438.5,121.3 1439.0,121.2 1439.5,121.0 1440.0,121.0 1440.5,121.2 1441.0,121.6 1441.5,121.8 1442.0,121.6 1442.5,121.6 1443.0,121.5 1443.5,121.6 1444.0,121.9 1444.5,121.9 1445.0,121.7 1445.5,121.6 1446.0,121.5 1446.5,121.6 1447.0,121.8 1447.5,121.9 1448.0,121.8 1448.5,121.9 1449.0,121.8 1449.5,121.6 1450.0,121.5 1450.5,121.5 1451.0,121.7 1451.5,121.8 1452.0,121.8 1452.5,121.8 1453.0,121.6 1453.5,121.6 1454.0,121.3 1454.5,121.2 1455.0,121.1 1455.5,121.2 1456.0,120.5 1456.5,119.6 1456.9,119.1 1457.0,119.3 1457.5,120.0 1458.0,120.8 1458.5,121.3 1459.0,121.3 1459.5,121.4 1460.0,121.4 1460.5,121.6 1461.0,122.0 1461.5,122.1 1462.0,122.3 1462.5,122.3 1463.0,121.8 1463.5,121.5 1464.0,121.5 1464.5,121.7 1465.0,121.6 1465.5,121.4 1466.0,121.4 1466.5,121.4 1467.0,121.4 1467.5,121.4 1468.0,121.3 1468.5,121.3 1469.0,121.4 1469.5,121.6 1470.0,121.5 1470.5,121.6 1471.0,121.4 1471.5,121.7 1472.0,121.6 1472.5,121.6 1473.0,121.5 1473.5,121.2 1474.0,121.1 1474.5,121.3 1475.0,121.4 1475.5,121.6 1476.0,121.9 1476.5,121.7 1477.0,121.6 1477.5,121.6 1478.0,121.7 1478.5,121.6 1479.0,121.5 1479.5,121.2 1480.0,121.2 1480.5,121.3 1481.0,121.2 1481.5,121.5 1482.0,121.6 1482.5,121.6 1483.0,121.2 1483.5,121.1 1484.0,121.0 1484.5,121.1 1485.0,121.2 1485.5,121.2 1486.0,121.2 1486.5,120.9 1487.0,120.4 1487.5,119.6 1488.0,118.9 1488.5,118.3 1489.0,118.1 1489.1,118.0 1489.5,117.9 1490.0,118.6 1490.5,119.6 1491.0,120.5 1491.5,121.0 1492.0,121.1 1492.5,121.2 1493.0,121.3 1493.5,121.4 1494.0,121.5 1494.5,121.5 1495.0,121.7 1495.5,121.5 1496.0,121.1 1496.5,119.4 1497.0,117.0 1497.1,116.7 1497.5,118.0 1498.0,120.4 1498.5,121.2 1499.0,121.3 1499.5,121.3 1500.0,121.2 1500.5,120.9 1501.0,120.5 1501.5,120.3 1502.0,118.1 1502.5,110.3 1503.0,99.6 1503.2,98.8 1503.5,103.2 1504.0,114.1 1504.5,119.4 1505.0,120.4 1505.5,120.6 1506.0,120.8 1506.5,120.9 1507.0,120.9 1507.5,121.3 1508.0,121.5 1508.5,121.6 1509.0,121.4 1509.5,121.2 1510.0,121.2 1510.5,121.5 1511.0,121.7 1511.5,121.6 1512.0,121.5 1512.5,121.4 1513.0,121.4 1513.5,121.4 1514.0,121.4 1514.5,121.4 1515.0,121.4 1515.5,121.2 1516.0,121.0 1516.5,120.8 1517.0,120.7 1517.5,119.7 1518.0,117.5 1518.5,115.3 1518.6,115.5 1519.0,116.8 1519.5,119.3 1520.0,120.7 1520.5,121.3 1521.0,121.7 1521.5,121.6 1522.0,121.5 1522.5,121.2 1523.0,121.0 1523.5,121.3 1524.0,121.6 1524.5,121.7 1525.0,121.7 1525.5,121.7 1526.0,121.7 1526.5,121.6 1527.0,121.6 1527.5,121.2 1528.0,121.2 1528.5,121.1 1529.0,121.4 1529.5,121.4 1530.0,121.5 1530.5,121.6 1531.0,121.7 1531.5,121.8 1532.0,121.8 1532.5,121.5 1533.0,121.3 1533.5,121.1 1534.0,120.8 1534.5,120.3 1535.0,119.4 1535.3,119.1 1535.5,119.0 1536.0,119.7 1536.5,120.5 1537.0,121.2 1537.5,121.5 1538.0,121.6 1538.5,121.5 1539.0,121.4 1539.5,121.6 1540.0,121.3 1540.5,121.2 1541.0,121.2 1541.5,121.5 1542.0,121.5 1542.5,121.5 1543.0,121.1 1543.5,121.2 1544.0,121.2 1544.5,121.5 1545.0,121.6 1545.5,121.8 1546.0,121.7 1546.5,121.5 1547.0,121.5 1547.5,121.4 1548.0,121.5 1548.5,121.7 1549.0,121.7 1549.5,121.7 1550.0,121.6 1550.5,121.7 1551.0,121.8 1551.5,121.8 1552.0,121.9 1552.5,121.8 1553.0,121.7 1553.5,121.5 1554.0,121.7 1554.5,121.7 1555.0,121.7 1555.5,121.7 1556.0,121.4 1556.5,121.5 1557.0,121.3 1557.5,121.5 1558.0,121.5 1558.5,121.6 1559.0,121.6 1559.5,121.5 1560.0,121.4 1560.5,121.4 1561.0,121.6 1561.5,121.7 1562.0,121.6 1562.5,121.5 1563.0,121.4 1563.5,121.6 1564.0,121.7 1564.5,121.8 1565.0,121.7 1565.5,121.9 1566.0,121.8 1566.5,121.7 1567.0,121.6 1567.5,121.8 1568.0,121.9 1568.5,121.9 1569.0,121.8 1569.5,121.7 1570.0,121.7 1570.5,121.7 1571.0,121.5 1571.5,121.6 1572.0,121.6 1572.5,121.8 1573.0,121.8 1573.5,121.8 1574.0,121.4 1574.5,121.4 1575.0,121.4 1575.5,121.4 1576.0,121.3 1576.5,121.3 1577.0,121.3 1577.5,121.6 1578.0,121.9 1578.5,121.9 1579.0,121.7 1579.5,121.3 1580.0,121.2 1580.5,121.0 1581.0,120.0 1581.5,118.1 1582.0,116.3 1582.2,116.4 1582.5,116.5 1583.0,118.5 1583.5,119.9 1584.0,121.1 1584.5,121.5 1585.0,121.7 1585.5,121.5 1586.0,121.2 1586.5,121.3 1587.0,121.5 1587.5,121.8 1588.0,121.9 1588.5,121.7 1589.0,121.6 1589.5,121.6 1590.0,121.6 1590.5,121.7 1591.0,121.5 1591.5,121.3 1592.0,121.1 1592.5,121.0 1593.0,121.3 1593.5,121.5 1594.0,121.6 1594.5,121.6 1595.0,121.6 1595.5,121.5 1596.0,121.3 1596.5,120.3 1597.0,118.5 1597.5,116.6 1597.6,116.6 1598.0,117.6 1598.5,119.9 1599.0,121.0 1599.5,121.4 1600.0,121.4 1600.5,121.5 1601.0,121.7 1601.5,121.7 1602.0,121.8 1602.5,121.8 1603.0,121.8 1603.5,121.9 1604.0,121.6 1604.5,121.6 1605.0,121.5 1605.5,121.6 1606.0,121.7 1606.5,121.7 1607.0,121.6 1607.5,121.6 1608.0,121.5 1608.5,121.3 1609.0,120.4 1609.5,119.6 1609.7,119.5 1610.0,119.9 1610.5,120.7 1611.0,121.4 1611.5,121.4 1612.0,121.4 1612.5,121.3 1613.0,121.4 1613.5,121.5 1614.0,121.5 1614.5,121.3 1615.0,121.4 1615.5,121.4 1616.0,121.5 1616.5,121.2 1617.0,120.7 1617.5,119.7 1618.0,118.2 1618.4,117.6 1618.5,117.6 1619.0,119.3 1619.5,121.0 1620.0,121.5 1620.5,121.8 1621.0,121.8 1621.5,121.6 1622.0,121.3 1622.5,121.3 1623.0,121.2 1623.5,121.0 1624.0,121.0 1624.5,121.3 1625.0,121.6 1625.5,121.8 1626.0,121.6 1626.5,121.4 1627.0,121.2 1627.5,120.8 1628.0,120.2 1628.4,120.0 1628.5,119.9 1629.0,120.3 1629.5,120.8 1630.0,121.1 1630.5,121.3 1631.0,121.4 1631.5,121.6 1632.0,121.8 1632.5,121.8 1633.0,121.6 1633.5,121.6 1634.0,121.6 1634.5,121.8 1635.0,121.8 1635.5,121.9 1636.0,121.9 1636.5,122.0 1637.0,121.7 1637.5,121.5 1638.0,121.4 1638.5,121.5 1639.0,121.6 1639.5,121.6 1640.0,121.9 1640.5,121.7 1641.0,121.4 1641.5,121.1 1642.0,121.0 1642.5,121.1 1643.0,121.2 1643.5,121.3 1644.0,121.4 1644.5,121.5 1645.0,121.3 1645.5,121.2 1646.0,121.1 1646.5,121.3 1647.0,121.4 1647.5,121.4 1648.0,121.2 1648.5,121.3 1649.0,121.3 1649.5,121.6 1650.0,121.5 1650.5,121.5 1651.0,121.4 1651.5,121.4 1652.0,121.7 1652.5,121.7 1653.0,121.7 1653.5,121.7 1654.0,121.7 1654.5,121.4 1655.0,121.4 1655.5,121.3 1656.0,121.4 1656.5,121.3 1657.0,121.4 1657.5,121.4 1658.0,121.6 1658.5,121.7 1659.0,121.6 1659.5,121.6 1660.0,121.4 1660.5,121.5 1661.0,121.6 1661.5,121.5 1662.0,121.5 1662.5,121.3 1663.0,121.4 1663.5,121.0 1664.0,119.9 1664.5,118.0 1665.0,116.9 1665.0,117.1 1665.5,118.3 1666.0,120.0 1666.5,121.0 1667.0,121.4 1667.5,121.5 1668.0,121.5 1668.5,121.8 1669.0,121.9 1669.5,121.9 1670.0,121.6 1670.5,121.6 1671.0,121.5 1671.5,121.4 1672.0,121.4 1672.5,121.5 1673.0,121.5 1673.5,121.7 1674.0,121.6 1674.5,121.5 1675.0,121.0 1675.5,120.5 1676.0,120.1 1676.0,120.1 1676.5,120.5 1677.0,121.1 1677.5,121.7 1678.0,121.7 1678.5,121.4 1679.0,121.0 1679.5,121.1 1680.0,121.1 1680.5,121.1 1681.0,121.1 1681.5,121.3 1682.0,121.4 1682.5,121.2 1683.0,121.3 1683.5,121.2 1684.0,121.3 1684.5,121.0 1685.0,121.0 1685.5,121.2 1686.0,121.4 1686.5,121.7 1687.0,121.5 1687.5,121.5 1688.0,121.4 1688.5,121.4 1689.0,121.6 1689.5,121.8 1690.0,121.7 1690.5,121.7 1691.0,121.7 1691.5,121.8 1692.0,121.8 1692.5,121.8 1693.0,121.4 1693.5,121.3 1694.0,121.0 1694.5,121.1 1695.0,121.5 1695.5,121.9 1696.0,121.9 1696.5,121.9 1697.0,121.8 1697.5,121.7 1698.0,121.9 1698.5,121.7 1699.0,121.8 1699.5,121.6 1700.0,121.6 1700.5,121.6 1701.0,121.6 1701.5,121.7 1702.0,121.8 1702.5,121.8 1703.0,121.4 1703.5,121.0 1704.0,120.8 1704.5,121.0 1705.0,121.2 1705.5,121.4 1706.0,121.3 1706.5,121.4 1707.0,121.5 1707.5,121.6 1708.0,121.5 1708.5,121.6 1709.0,121.6 1709.5,121.6 1710.0,121.4 1710.5,121.2 1711.0,121.3 1711.5,121.3 1712.0,121.4 1712.5,121.4 1713.0,121.5 1713.5,121.2 1714.0,120.8 1714.5,120.2 1715.0,119.6 1715.5,119.3 1715.5,119.5 1716.0,119.7 1716.5,120.4 1717.0,120.8 1717.5,121.5 1718.0,121.6 1718.5,121.6 1719.0,121.3 1719.5,121.3 1720.0,121.2 1720.5,121.5 1721.0,121.5 1721.5,121.6 1722.0,121.6 1722.5,121.6 1723.0,121.8 1723.5,122.0 1724.0,121.9 1724.5,121.9 1725.0,121.7 1725.5,121.5 1726.0,121.3 1726.5,121.2 1727.0,121.5 1727.5,121.8 1728.0,121.9 1728.5,121.9 1729.0,121.8 1729.5,121.7 1730.0,121.8 1730.5,121.8 1731.0,121.6 1731.5,121.5 1732.0,121.4 1732.5,121.4 1733.0,121.3 1733.5,121.3 1734.0,121.2 1734.5,121.3 1735.0,121.4 1735.5,121.5 1736.0,121.7 1736.5,121.7 1737.0,121.7 1737.5,121.5 1738.0,121.6 1738.5,121.4 1739.0,121.6 1739.5,121.8 1740.0,121.9 1740.5,121.8 1741.0,121.7 1741.5,121.7 1742.0,121.6 1742.5,121.6 1743.0,121.5 1743.5,121.6 1744.0,121.3 1744.5,121.2 1745.0,121.1 1745.5,121.5 1746.0,121.6 1746.5,121.7 1747.0,121.6 1747.5,121.7 1748.0,121.7 1748.5,121.7 1749.0,121.8 1749.5,121.9 1750.0,122.0 1750.5,122.1 1751.0,122.0 1751.5,121.8 1752.0,121.7 1752.5,121.7 1753.0,121.8 1753.5,121.7 1754.0,121.4 1754.5,121.4 1755.0,121.5 1755.5,121.6 1756.0,121.6 1756.5,121.7 1757.0,121.7 1757.5,121.6 1758.0,121.3 1758.5,121.3 1759.0,121.2 1759.5,121.4 1760.0,121.4 1760.5,121.4 1761.0,121.3 1761.5,121.0 1762.0,121.2 1762.5,121.4 1763.0,121.4 1763.5,121.4 1764.0,121.4 1764.5,121.6 1765.0,121.8 1765.5,121.7 1766.0,121.5 1766.5,121.4 1767.0,121.2 1767.5,121.3 1768.0,121.3 1768.5,121.4 1769.0,121.2 1769.5,121.0 1770.0,121.1 1770.5,121.2 1771.0,121.3 1771.5,121.2 1772.0,121.5 1772.5,121.4 1773.0,121.4 1773.5,121.4 1774.0,121.5 1774.5,121.5 1775.0,121.5 1775.5,121.6 1776.0,121.6 1776.5,121.7 1777.0,121.6 1777.5,121.5 1778.0,121.6 1778.5,121.6 1779.0,121.5 1779.5,121.7 1780.0,121.6 1780.5,121.5 1781.0,121.1 1781.5,120.9 1782.0,120.9 1782.5,121.2 1783.0,121.3 1783.5,121.3 1784.0,121.4 1784.5,121.3 1785.0,121.5 1785.5,121.3 1786.0,121.3 1786.5,121.2 1787.0,121.4 1787.5,121.5 1788.0,121.4 1788.5,121.3 1789.0,121.4 1789.5,121.5 1790.0,121.7 1790.5,121.8 1791.0,121.5 1791.5,121.4 1792.0,121.3 1792.5,121.4 1793.0,121.4 1793.5,121.6 1794.0,121.6 1794.5,121.6 1795.0,121.4 1795.5,121.6 1796.0,121.5 1796.5,121.6 1797.0,121.6 1797.5,121.5 1798.0,121.6 1798.5,121.7 1799.0,121.5 1799.5,121.3 1800.0,121.2 1800.5,121.4 1801.0,121.4 1801.5,121.4 1802.0,121.5 1802.5,121.5 1803.0,121.6 1803.5,121.6 1804.0,121.6 1804.5,121.6 1805.0,121.6 1805.5,121.6 1806.0,121.5 1806.5,121.3 1807.0,121.2 1807.5,121.2 1808.0,121.2" fill="none" stroke="#939622" stroke-width="1.9" stroke-linejoin="round"/>
<polyline points="1339.0,175.2 1339.5,175.0 1340.0,175.3 1340.5,175.2 1341.0,175.3 1341.5,175.0 1342.0,175.2 1342.5,175.7 1343.0,175.7 1343.5,175.4 1344.0,175.3 1344.5,175.2 1345.0,175.3 1345.5,175.3 1346.0,175.3 1346.5,175.4 1347.0,175.5 1347.5,175.8 1348.0,175.6 1348.5,175.7 1349.0,175.4 1349.5,175.6 1350.0,175.7 1350.5,175.7 1351.0,175.9 1351.5,175.9 1352.0,175.9 1352.5,175.6 1353.0,175.4 1353.5,175.2 1354.0,175.3 1354.5,175.3 1355.0,175.4 1355.5,175.4 1356.0,175.3 1356.5,175.3 1357.0,175.5 1357.5,175.5 1358.0,175.6 1358.5,175.5 1359.0,175.6 1359.5,175.3 1360.0,175.5 1360.5,175.5 1361.0,175.6 1361.5,175.5 1362.0,172.9 1362.5,175.3 1363.0,175.0 1363.5,175.0 1364.0,174.9 1364.5,175.2 1365.0,175.5 1365.5,175.5 1366.0,175.5 1366.5,175.5 1367.0,175.6 1367.5,175.7 1368.0,176.0 1368.5,175.9 1369.0,176.1 1369.5,175.8 1370.0,175.8 1370.5,175.7 1371.0,175.7 1371.5,175.7 1372.0,176.0 1372.5,176.2 1373.0,176.2 1373.5,176.1 1374.0,175.8 1374.5,175.4 1375.0,175.6 1375.5,175.5 1376.0,175.7 1376.5,175.6 1377.0,175.6 1377.5,175.4 1378.0,175.2 1378.5,175.1 1379.0,175.3 1379.5,175.4 1380.0,175.6 1380.5,175.4 1381.0,175.4 1381.5,175.2 1382.0,175.3 1382.5,175.3 1383.0,172.9 1383.5,175.6 1384.0,175.5 1384.5,175.6 1385.0,175.7 1385.5,175.8 1386.0,175.7 1386.5,175.3 1387.0,172.8 1387.5,175.1 1388.0,175.6 1388.5,175.7 1389.0,175.6 1389.5,175.4 1390.0,175.6 1390.5,175.5 1391.0,175.3 1391.5,174.7 1392.0,175.5 1392.5,175.8 1393.0,173.3 1393.5,175.9 1394.0,175.8 1394.5,175.4 1395.0,175.1 1395.5,174.6 1396.0,174.2 1396.5,173.5 1397.0,169.4 1397.5,152.7 1398.0,138.4 1398.0,138.7 1398.5,156.7 1399.0,171.1 1399.5,174.5 1400.0,174.9 1400.5,175.5 1401.0,175.6 1401.5,175.5 1402.0,175.4 1402.5,175.3 1403.0,175.3 1403.5,175.4 1404.0,175.4 1404.5,175.8 1405.0,175.6 1405.5,175.7 1406.0,175.5 1406.5,175.5 1407.0,175.6 1407.5,175.6 1408.0,175.4 1408.5,175.3 1409.0,175.2 1409.5,174.9 1410.0,175.0 1410.5,175.3 1411.0,175.1 1411.5,174.9 1412.0,175.0 1412.5,175.3 1413.0,175.5 1413.5,175.6 1414.0,175.6 1414.5,173.3 1415.0,175.4 1415.5,175.6 1416.0,175.7 1416.5,175.8 1417.0,175.7 1417.5,175.6 1418.0,175.4 1418.5,175.2 1419.0,175.1 1419.5,175.1 1420.0,175.2 1420.5,175.2 1421.0,175.2 1421.5,175.2 1422.0,175.0 1422.5,174.9 1423.0,174.4 1423.5,173.9 1424.0,170.6 1424.5,154.5 1425.0,129.8 1425.1,128.6 1425.5,143.7 1426.0,166.6 1426.5,173.6 1427.0,175.0 1427.5,175.4 1428.0,173.7 1428.5,175.2 1429.0,175.1 1429.5,175.2 1430.0,175.5 1430.5,175.4 1431.0,175.1 1431.5,175.1 1432.0,175.1 1432.5,174.9 1433.0,174.7 1433.5,174.8 1434.0,175.1 1434.5,175.3 1435.0,175.4 1435.5,175.6 1436.0,175.7 1436.5,175.7 1437.0,175.7 1437.5,175.4 1438.0,175.3 1438.5,175.1 1439.0,175.4 1439.5,175.5 1440.0,175.5 1440.5,175.3 1441.0,175.3 1441.5,175.6 1442.0,175.9 1442.5,176.0 1443.0,175.8 1443.5,175.6 1444.0,175.6 1444.5,175.7 1445.0,175.6 1445.5,175.5 1446.0,175.5 1446.5,175.7 1447.0,175.8 1447.5,175.9 1448.0,175.9 1448.5,175.6 1449.0,175.8 1449.5,175.7 1450.0,175.7 1450.5,175.6 1451.0,175.7 1451.5,175.6 1452.0,175.6 1452.5,175.7 1453.0,175.9 1453.5,175.8 1454.0,175.8 1454.5,175.6 1455.0,175.4 1455.5,175.3 1456.0,175.2 1456.5,175.3 1457.0,175.1 1457.5,175.0 1458.0,175.0 1458.5,175.1 1459.0,175.3 1459.5,175.5 1460.0,175.5 1460.5,175.7 1461.0,175.6 1461.5,175.8 1462.0,175.8 1462.5,176.0 1463.0,175.8 1463.5,175.5 1464.0,175.3 1464.5,175.2 1465.0,175.4 1465.5,175.6 1466.0,175.7 1466.5,175.5 1467.0,175.4 1467.5,175.2 1468.0,175.2 1468.5,175.5 1469.0,173.6 1469.5,176.0 1470.0,176.0 1470.5,175.8 1471.0,175.5 1471.5,175.5 1472.0,175.6 1472.5,175.4 1473.0,175.3 1473.5,175.5 1474.0,175.6 1474.5,175.6 1475.0,175.4 1475.5,175.2 1476.0,175.0 1476.5,174.9 1477.0,174.9 1477.5,175.0 1478.0,175.3 1478.5,175.7 1479.0,175.6 1479.5,175.5 1480.0,175.5 1480.5,175.4 1481.0,175.5 1481.5,175.5 1482.0,175.2 1482.5,175.2 1483.0,175.2 1483.5,175.1 1484.0,172.4 1484.5,175.5 1485.0,176.0 1485.5,175.9 1486.0,175.8 1486.5,175.7 1487.0,175.5 1487.5,175.4 1488.0,175.4 1488.5,175.5 1489.0,175.3 1489.5,175.5 1490.0,175.6 1490.5,175.5 1491.0,175.3 1491.5,175.3 1492.0,174.7 1492.5,173.7 1493.0,172.6 1493.1,172.5 1493.5,173.0 1494.0,174.3 1494.5,174.9 1495.0,175.0 1495.5,174.8 1496.0,175.1 1496.5,175.0 1497.0,175.2 1497.5,175.1 1498.0,174.8 1498.5,174.5 1499.0,174.0 1499.5,171.3 1500.0,160.0 1500.5,149.6 1500.5,147.7 1501.0,161.5 1501.5,171.6 1502.0,174.1 1502.5,174.5 1503.0,174.8 1503.5,175.2 1504.0,175.7 1504.5,175.8 1505.0,175.7 1505.5,174.2 1506.0,175.3 1506.5,175.0 1507.0,175.0 1507.5,174.9 1508.0,175.1 1508.5,175.3 1509.0,175.4 1509.5,175.5 1510.0,175.5 1510.5,175.5 1511.0,175.4 1511.5,175.3 1512.0,175.7 1512.5,175.6 1513.0,175.6 1513.5,175.4 1514.0,175.3 1514.5,175.4 1515.0,175.4 1515.5,175.6 1516.0,175.3 1516.5,175.4 1517.0,175.4 1517.5,175.5 1518.0,175.8 1518.5,175.3 1519.0,173.4 1519.5,167.6 1519.9,164.3 1520.0,164.7 1520.5,170.6 1521.0,174.0 1521.5,174.7 1522.0,175.1 1522.5,175.4 1523.0,175.5 1523.5,175.1 1524.0,174.7 1524.5,174.8 1525.0,175.0 1525.5,175.2 1526.0,172.7 1526.5,175.3 1527.0,175.5 1527.5,174.0 1527.9,171.4 1528.0,171.3 1528.5,174.4 1529.0,175.3 1529.5,175.6 1530.0,175.8 1530.5,175.8 1531.0,175.9 1531.5,176.0 1532.0,176.0 1532.5,176.0 1533.0,176.2 1533.5,176.1 1534.0,176.0 1534.5,173.3 1535.0,175.3 1535.5,175.2 1536.0,175.6 1536.5,175.6 1537.0,175.5 1537.5,175.4 1538.0,175.4 1538.5,175.3 1539.0,175.6 1539.5,175.8 1540.0,175.8 1540.5,175.7 1541.0,175.7 1541.5,175.8 1542.0,175.7 1542.5,175.5 1543.0,174.1 1543.5,175.4 1544.0,175.4 1544.5,175.5 1545.0,175.8 1545.5,175.7 1546.0,175.7 1546.5,175.8 1547.0,175.9 1547.5,175.6 1548.0,175.4 1548.5,175.2 1549.0,175.5 1549.5,175.2 1550.0,175.4 1550.5,175.1 1551.0,175.1 1551.5,175.2 1552.0,175.1 1552.5,175.6 1553.0,175.7 1553.5,175.7 1554.0,175.7 1554.5,175.1 1555.0,175.1 1555.5,174.9 1556.0,175.2 1556.5,175.0 1557.0,174.9 1557.5,175.0 1558.0,175.4 1558.5,175.8 1559.0,176.0 1559.5,176.2 1560.0,176.1 1560.5,175.9 1561.0,175.8 1561.5,175.5 1562.0,172.9 1562.5,175.0 1563.0,175.0 1563.5,175.2 1564.0,175.3 1564.5,175.5 1565.0,175.5 1565.5,175.5 1566.0,175.8 1566.5,175.7 1567.0,175.7 1567.5,175.5 1568.0,175.3 1568.5,175.5 1569.0,175.6 1569.5,175.9 1570.0,175.8 1570.5,175.6 1571.0,175.1 1571.5,174.9 1572.0,175.1 1572.5,175.4 1573.0,175.4 1573.5,175.4 1574.0,175.2 1574.5,175.2 1575.0,175.2 1575.5,175.3 1576.0,175.5 1576.5,175.5 1577.0,175.6 1577.5,174.9 1578.0,172.2 1578.5,166.3 1578.9,163.7 1579.0,164.0 1579.5,169.6 1580.0,174.0 1580.5,175.3 1581.0,175.4 1581.5,175.1 1582.0,174.9 1582.5,175.0 1583.0,175.2 1583.5,175.2 1584.0,175.5 1584.5,175.4 1585.0,175.7 1585.5,175.7 1586.0,175.1 1586.5,175.1 1587.0,175.4 1587.5,175.5 1588.0,175.6 1588.5,175.6 1589.0,175.8 1589.5,175.7 1590.0,175.4 1590.5,175.3 1591.0,175.0 1591.5,175.1 1592.0,174.9 1592.5,175.4 1593.0,175.5 1593.5,175.8 1594.0,175.5 1594.5,174.6 1595.0,171.6 1595.5,166.7 1595.6,166.6 1596.0,169.5 1596.5,173.8 1597.0,175.2 1597.5,175.3 1598.0,175.2 1598.5,173.1 1599.0,175.5 1599.5,175.6 1600.0,175.5 1600.5,175.3 1601.0,174.9 1601.5,174.8 1602.0,175.0 1602.5,175.3 1603.0,175.6 1603.5,175.8 1604.0,175.9 1604.5,175.9 1605.0,175.7 1605.5,175.6 1606.0,175.5 1606.5,175.6 1607.0,175.6 1607.5,175.6 1608.0,175.2 1608.5,175.1 1609.0,174.8 1609.5,175.0 1610.0,175.0 1610.5,175.0 1611.0,175.1 1611.5,174.9 1612.0,175.2 1612.5,175.0 1613.0,175.0 1613.5,175.0 1614.0,175.1 1614.5,175.2 1615.0,175.4 1615.5,175.5 1616.0,175.7 1616.5,175.7 1617.0,174.5 1617.5,175.4 1618.0,174.9 1618.5,173.0 1619.0,170.5 1619.1,170.1 1619.5,171.9 1620.0,174.3 1620.5,175.2 1621.0,175.3 1621.5,175.4 1622.0,175.4 1622.5,175.5 1623.0,175.3 1623.5,175.0 1624.0,175.4 1624.5,175.3 1625.0,175.3 1625.5,175.3 1626.0,173.5 1626.5,175.5 1627.0,175.4 1627.5,175.3 1628.0,175.4 1628.5,175.5 1629.0,175.5 1629.5,175.5 1630.0,175.3 1630.5,175.5 1631.0,175.4 1631.5,175.6 1632.0,175.6 1632.5,175.8 1633.0,176.1 1633.5,175.9 1634.0,175.8 1634.5,173.7 1635.0,175.4 1635.5,175.6 1636.0,175.6 1636.5,175.3 1637.0,175.2 1637.5,175.1 1638.0,175.4 1638.5,175.5 1639.0,175.4 1639.5,175.2 1640.0,175.2 1640.5,175.3 1641.0,175.5 1641.5,175.5 1642.0,175.4 1642.5,175.2 1643.0,175.5 1643.5,175.6 1644.0,175.6 1644.5,175.4 1645.0,175.4 1645.5,175.5 1646.0,175.7 1646.5,175.8 1647.0,176.0 1647.5,175.9 1648.0,175.6 1648.5,175.5 1649.0,175.3 1649.5,175.2 1650.0,175.1 1650.5,175.1 1651.0,175.0 1651.5,175.1 1652.0,175.3 1652.5,175.3 1653.0,175.4 1653.5,175.6 1654.0,175.7 1654.5,175.8 1655.0,175.9 1655.5,175.8 1656.0,175.8 1656.5,175.8 1657.0,175.9 1657.5,175.7 1658.0,175.7 1658.5,175.6 1659.0,175.7 1659.5,175.6 1660.0,175.6 1660.5,175.5 1661.0,175.3 1661.5,175.4 1662.0,175.3 1662.5,174.9 1663.0,173.8 1663.5,170.6 1664.0,168.5 1664.0,168.6 1664.5,171.8 1665.0,174.6 1665.5,175.7 1666.0,175.8 1666.5,175.8 1667.0,175.7 1667.5,175.6 1668.0,175.6 1668.5,175.5 1669.0,175.5 1669.5,175.5 1670.0,175.3 1670.5,175.2 1671.0,175.3 1671.5,175.6 1672.0,175.6 1672.5,175.6 1673.0,175.5 1673.5,175.4 1674.0,175.5 1674.5,175.5 1675.0,175.4 1675.5,175.5 1676.0,175.6 1676.5,175.8 1677.0,175.7 1677.5,175.5 1678.0,175.2 1678.5,175.5 1679.0,175.6 1679.5,175.3 1680.0,175.5 1680.5,175.3 1681.0,175.2 1681.5,174.9 1682.0,175.1 1682.5,175.0 1683.0,175.1 1683.5,175.4 1684.0,175.7 1684.5,175.7 1685.0,175.7 1685.5,175.7 1686.0,175.9 1686.5,174.4 1687.0,175.7 1687.5,175.6 1688.0,173.1 1688.5,175.6 1689.0,175.6 1689.5,175.8 1690.0,175.8 1690.5,175.6 1691.0,175.6 1691.5,175.6 1692.0,175.7 1692.5,175.7 1693.0,175.0 1693.5,175.3 1694.0,175.4 1694.5,175.2 1695.0,175.2 1695.5,175.4 1696.0,175.6 1696.5,176.0 1697.0,176.1 1697.5,176.1 1698.0,175.4 1698.5,175.7 1699.0,175.8 1699.5,175.7 1700.0,176.0 1700.5,175.8 1701.0,175.9 1701.5,175.8 1702.0,175.9 1702.5,176.0 1703.0,176.0 1703.5,175.9 1704.0,175.6 1704.5,175.4 1705.0,175.5 1705.5,175.7 1706.0,175.8 1706.5,175.9 1707.0,175.7 1707.5,175.8 1708.0,175.5 1708.5,175.6 1709.0,175.5 1709.5,175.4 1710.0,175.2 1710.5,175.2 1711.0,175.1 1711.5,175.0 1712.0,174.4 1712.5,172.9 1712.9,172.2 1713.0,172.3 1713.5,174.2 1714.0,175.2 1714.5,175.6 1715.0,175.6 1715.5,175.5 1716.0,175.6 1716.5,175.4 1717.0,175.5 1717.5,175.6 1718.0,175.9 1718.5,175.7 1719.0,175.6 1719.5,175.7 1720.0,175.7 1720.5,176.0 1721.0,175.6 1721.5,175.7 1722.0,175.5 1722.5,175.8 1723.0,175.5 1723.5,175.5 1724.0,175.4 1724.5,175.6 1725.0,175.5 1725.5,175.3 1726.0,175.6 1726.5,175.7 1727.0,175.7 1727.5,175.6 1728.0,175.2 1728.5,175.2 1729.0,175.5 1729.5,175.7 1730.0,175.3 1730.5,175.1 1731.0,175.1 1731.5,175.2 1732.0,175.6 1732.5,175.8 1733.0,175.9 1733.5,175.9 1734.0,175.5 1734.5,175.4 1735.0,175.1 1735.5,175.3 1736.0,174.3 1736.5,175.2 1737.0,175.1 1737.5,175.3 1738.0,175.5 1738.5,175.4 1739.0,175.3 1739.5,175.5 1740.0,172.7 1740.5,175.4 1741.0,175.5 1741.5,175.7 1742.0,175.7 1742.5,175.7 1743.0,175.5 1743.5,175.3 1744.0,175.3 1744.5,175.4 1745.0,175.6 1745.5,175.4 1746.0,175.3 1746.5,175.2 1747.0,175.3 1747.5,175.5 1748.0,175.7 1748.5,175.6 1749.0,175.8 1749.5,175.9 1750.0,175.7 1750.5,175.7 1751.0,175.8 1751.5,176.0 1752.0,176.1 1752.5,175.9 1753.0,175.8 1753.5,175.7 1754.0,175.9 1754.5,175.7 1755.0,175.8 1755.5,175.7 1756.0,175.6 1756.5,175.6 1757.0,175.6 1757.5,175.4 1758.0,175.5 1758.5,175.4 1759.0,173.3 1759.5,175.2 1760.0,175.4 1760.5,175.3 1761.0,175.5 1761.5,175.4 1762.0,175.5 1762.5,175.4 1763.0,173.4 1763.5,175.1 1764.0,175.1 1764.5,175.0 1765.0,175.2 1765.5,175.5 1766.0,175.5 1766.5,175.5 1767.0,175.3 1767.5,175.3 1768.0,175.5 1768.5,175.6 1769.0,175.6 1769.5,175.5 1770.0,175.7 1770.5,175.6 1771.0,175.9 1771.5,175.6 1772.0,175.2 1772.5,173.7 1773.0,171.8 1773.2,171.7 1773.5,172.3 1774.0,174.4 1774.5,175.4 1775.0,175.8 1775.5,175.8 1776.0,175.6 1776.5,175.6 1777.0,175.4 1777.5,175.1 1778.0,175.0 1778.5,175.1 1779.0,175.4 1779.5,175.5 1780.0,175.3 1780.5,175.3 1781.0,175.1 1781.5,175.2 1782.0,175.1 1782.5,175.1 1783.0,175.1 1783.5,175.2 1784.0,175.3 1784.5,175.3 1785.0,175.3 1785.5,175.2 1786.0,175.3 1786.5,175.1 1787.0,175.3 1787.5,175.2 1788.0,175.3 1788.5,175.3 1789.0,175.2 1789.5,175.5 1790.0,175.8 1790.5,175.7 1791.0,175.5 1791.5,175.1 1792.0,175.2 1792.5,175.3 1793.0,175.5 1793.5,175.3 1794.0,175.2 1794.5,175.1 1795.0,175.3 1795.5,175.4 1796.0,175.5 1796.5,175.7 1797.0,175.7 1797.5,175.8 1798.0,175.9 1798.5,175.6 1799.0,174.3 1799.5,175.6 1800.0,175.6 1800.5,175.3 1801.0,175.2 1801.5,175.1 1802.0,175.1 1802.5,175.3 1803.0,175.3 1803.5,175.5 1804.0,175.5 1804.5,175.5 1805.0,175.4 1805.5,175.3 1806.0,175.4 1806.5,175.5 1807.0,175.6 1807.5,175.6 1808.0,175.7" fill="none" stroke="#cfa426" stroke-width="1.9" stroke-linejoin="round"/>
<polyline points="1339.0,233.6 1339.5,233.6 1340.0,233.8 1340.5,234.1 1341.0,234.2 1341.5,234.3 1342.0,234.2 1342.5,234.2 1343.0,234.0 1343.5,234.0 1344.0,233.9 1344.5,233.9 1345.0,233.9 1345.5,234.1 1346.0,234.5 1346.5,234.3 1347.0,234.1 1347.5,233.9 1348.0,234.0 1348.5,234.1 1349.0,234.1 1349.5,234.0 1350.0,234.1 1350.5,234.2 1351.0,234.2 1351.5,234.1 1352.0,234.2 1352.5,234.3 1353.0,234.1 1353.5,234.1 1354.0,233.9 1354.5,233.8 1355.0,233.7 1355.5,233.7 1356.0,234.0 1356.5,234.1 1357.0,234.1 1357.5,233.7 1358.0,233.7 1358.5,233.8 1359.0,234.0 1359.5,234.2 1360.0,233.9 1360.5,233.9 1361.0,233.9 1361.5,233.9 1362.0,233.9 1362.5,233.9 1363.0,234.1 1363.5,234.0 1364.0,234.0 1364.5,233.9 1365.0,233.7 1365.5,233.8 1366.0,234.1 1366.5,234.3 1367.0,234.1 1367.5,234.0 1368.0,234.1 1368.5,234.3 1369.0,234.4 1369.5,234.3 1370.0,234.0 1370.5,233.8 1371.0,233.8 1371.5,234.0 1372.0,233.9 1372.5,234.0 1373.0,233.9 1373.5,233.8 1374.0,233.6 1374.5,233.7 1375.0,233.8 1375.5,234.1 1376.0,234.1 1376.5,234.3 1377.0,234.0 1377.5,233.6 1378.0,233.4 1378.5,233.5 1379.0,233.7 1379.5,233.9 1380.0,234.1 1380.5,234.1 1381.0,234.0 1381.5,234.1 1382.0,234.0 1382.5,234.3 1383.0,234.5 1383.5,234.6 1384.0,234.5 1384.5,234.3 1385.0,234.0 1385.5,233.9 1386.0,233.8 1386.5,233.7 1387.0,233.6 1387.5,233.8 1388.0,233.7 1388.5,233.8 1389.0,233.9 1389.5,234.1 1390.0,234.3 1390.5,234.2 1391.0,234.1 1391.5,234.0 1392.0,234.0 1392.5,233.9 1393.0,233.7 1393.5,233.5 1394.0,233.6 1394.5,233.7 1395.0,233.9 1395.5,234.0 1396.0,234.0 1396.5,234.0 1397.0,234.0 1397.5,233.8 1398.0,234.0 1398.5,234.0 1399.0,233.8 1399.5,233.6 1400.0,233.7 1400.5,233.7 1401.0,234.0 1401.5,234.1 1402.0,234.1 1402.5,234.0 1403.0,233.7 1403.5,233.9 1404.0,233.8 1404.5,234.1 1405.0,233.9 1405.5,233.8 1406.0,233.9 1406.5,234.0 1407.0,234.2 1407.5,234.0 1408.0,234.0 1408.5,233.6 1409.0,233.9 1409.5,234.0 1410.0,234.3 1410.5,234.2 1411.0,234.2 1411.5,233.9 1412.0,234.0 1412.5,233.9 1413.0,234.0 1413.5,234.0 1414.0,234.0 1414.5,234.2 1415.0,234.3 1415.5,234.2 1416.0,234.2 1416.5,234.1 1417.0,233.9 1417.5,234.0 1418.0,233.8 1418.5,233.8 1419.0,233.6 1419.5,233.6 1420.0,233.8 1420.5,233.9 1421.0,233.9 1421.5,233.8 1422.0,233.6 1422.5,233.7 1423.0,233.4 1423.5,233.4 1424.0,232.5 1424.5,227.3 1425.0,204.2 1425.4,185.4 1425.5,186.1 1426.0,213.0 1426.5,229.6 1427.0,232.7 1427.5,233.1 1428.0,233.2 1428.5,233.4 1429.0,233.6 1429.5,233.7 1430.0,233.9 1430.5,233.8 1431.0,233.7 1431.5,233.8 1432.0,233.8 1432.5,233.9 1433.0,233.8 1433.5,233.8 1434.0,233.6 1434.5,233.8 1435.0,234.1 1435.5,234.3 1436.0,234.0 1436.5,234.1 1437.0,234.3 1437.5,234.4 1438.0,234.4 1438.5,234.1 1439.0,234.2 1439.5,234.0 1440.0,233.9 1440.5,233.8 1441.0,233.9 1441.5,233.9 1442.0,233.9 1442.5,233.7 1443.0,233.7 1443.5,234.0 1444.0,234.2 1444.5,234.2 1445.0,234.0 1445.5,234.0 1446.0,233.8 1446.5,233.8 1447.0,233.8 1447.5,233.8 1448.0,233.9 1448.5,234.0 1449.0,233.9 1449.5,233.8 1450.0,234.0 1450.5,234.0 1451.0,233.9 1451.5,234.1 1452.0,234.2 1452.5,234.2 1453.0,233.9 1453.5,233.7 1454.0,233.6 1454.5,233.8 1455.0,233.8 1455.5,234.1 1456.0,234.1 1456.5,234.1 1457.0,233.9 1457.5,233.8 1458.0,233.8 1458.5,233.9 1459.0,233.9 1459.5,234.1 1460.0,234.2 1460.5,234.3 1461.0,234.3 1461.5,234.1 1462.0,234.0 1462.5,234.0 1463.0,233.9 1463.5,234.1 1464.0,234.1 1464.5,234.3 1465.0,234.2 1465.5,234.3 1466.0,234.1 1466.5,234.1 1467.0,234.2 1467.5,234.4 1468.0,234.4 1468.5,234.2 1469.0,233.9 1469.5,233.8 1470.0,233.6 1470.5,233.6 1471.0,233.8 1471.5,234.0 1472.0,234.2 1472.5,234.2 1473.0,234.1 1473.5,233.9 1474.0,233.9 1474.5,233.8 1475.0,233.6 1475.5,232.3 1476.0,228.7 1476.3,226.9 1476.5,227.4 1477.0,231.4 1477.5,233.5 1478.0,233.8 1478.5,233.8 1479.0,233.8 1479.5,233.8 1480.0,233.7 1480.5,233.9 1481.0,234.0 1481.5,234.1 1482.0,234.1 1482.5,233.8 1483.0,233.6 1483.5,233.6 1484.0,233.7 1484.5,233.7 1485.0,233.8 1485.5,233.8 1486.0,234.0 1486.5,234.0 1487.0,233.9 1487.5,233.8 1488.0,233.9 1488.5,233.9 1489.0,234.1 1489.5,233.7 1490.0,233.5 1490.5,233.6 1491.0,233.9 1491.5,234.1 1492.0,234.1 1492.5,234.1 1493.0,233.9 1493.5,233.9 1494.0,233.8 1494.5,233.9 1495.0,234.2 1495.5,234.2 1496.0,234.3 1496.5,234.4 1497.0,234.2 1497.5,234.1 1498.0,233.9 1498.5,234.0 1499.0,233.7 1499.5,233.5 1500.0,233.6 1500.5,233.8 1501.0,234.0 1501.5,234.1 1502.0,233.9 1502.5,233.7 1503.0,233.5 1503.5,233.4 1504.0,233.5 1504.5,233.7 1505.0,233.8 1505.5,234.2 1506.0,234.3 1506.5,234.3 1507.0,234.1 1507.5,233.9 1508.0,233.8 1508.5,233.5 1509.0,233.5 1509.5,233.6 1510.0,233.8 1510.5,233.9 1511.0,233.9 1511.5,234.0 1512.0,233.9 1512.5,233.8 1513.0,233.7 1513.5,233.6 1514.0,233.7 1514.5,234.0 1515.0,234.0 1515.5,234.1 1516.0,234.0 1516.5,234.0 1517.0,233.8 1517.5,233.7 1518.0,233.7 1518.5,233.9 1519.0,233.9 1519.5,233.5 1520.0,233.1 1520.5,230.5 1521.0,225.0 1521.2,223.6 1521.5,225.0 1522.0,230.8 1522.5,233.1 1523.0,233.8 1523.5,233.8 1524.0,233.9 1524.5,233.9 1525.0,233.9 1525.5,233.8 1526.0,233.8 1526.5,234.2 1527.0,234.1 1527.5,234.1 1528.0,233.8 1528.5,234.0 1529.0,233.9 1529.5,233.9 1530.0,233.8 1530.5,233.8 1531.0,234.0 1531.5,234.1 1532.0,234.2 1532.5,234.0 1533.0,233.9 1533.5,234.0 1534.0,234.1 1534.5,234.5 1535.0,234.6 1535.5,234.5 1536.0,234.3 1536.5,234.1 1537.0,234.0 1537.5,234.0 1538.0,234.0 1538.5,234.2 1539.0,234.3 1539.5,234.3 1540.0,234.0 1540.5,234.2 1541.0,234.0 1541.5,233.8 1542.0,233.9 1542.5,234.0 1543.0,233.9 1543.5,233.8 1544.0,233.7 1544.5,233.9 1545.0,233.8 1545.5,233.8 1546.0,233.6 1546.5,233.7 1547.0,234.0 1547.5,234.1 1548.0,233.9 1548.5,233.6 1549.0,233.6 1549.5,233.6 1550.0,233.6 1550.5,233.9 1551.0,233.9 1551.5,234.1 1552.0,233.9 1552.5,233.9 1553.0,233.8 1553.5,234.1 1554.0,234.2 1554.5,234.4 1555.0,234.1 1555.5,234.1 1556.0,234.1 1556.5,234.2 1557.0,234.1 1557.5,233.9 1558.0,233.9 1558.5,233.8 1559.0,234.0 1559.5,234.1 1560.0,234.2 1560.5,233.9 1561.0,234.0 1561.5,234.0 1562.0,234.5 1562.5,234.7 1563.0,234.7 1563.5,234.3 1564.0,233.9 1564.5,233.8 1565.0,233.9 1565.5,233.9 1566.0,233.9 1566.5,233.9 1567.0,234.0 1567.5,234.2 1568.0,234.3 1568.5,234.2 1569.0,233.9 1569.5,234.0 1570.0,234.1 1570.5,234.1 1571.0,234.1 1571.5,233.9 1572.0,234.2 1572.5,234.5 1573.0,234.8 1573.5,234.7 1574.0,234.7 1574.5,234.4 1575.0,234.1 1575.5,234.0 1576.0,234.1 1576.5,234.0 1577.0,234.0 1577.5,234.1 1578.0,234.1 1578.5,234.4 1579.0,234.5 1579.5,234.5 1580.0,234.4 1580.5,234.2 1581.0,234.4 1581.5,234.4 1582.0,234.3 1582.5,234.1 1583.0,234.0 1583.5,234.0 1584.0,234.2 1584.5,234.3 1585.0,234.3 1585.5,234.2 1586.0,234.1 1586.5,233.9 1587.0,233.7 1587.5,233.9 1588.0,233.9 1588.5,233.9 1589.0,234.1 1589.5,234.2 1590.0,234.2 1590.5,234.0 1591.0,233.9 1591.5,233.9 1592.0,233.8 1592.5,233.7 1593.0,233.8 1593.5,234.1 1594.0,234.0 1594.5,233.9 1595.0,233.8 1595.5,233.9 1596.0,234.0 1596.5,233.9 1597.0,233.2 1597.5,229.9 1598.0,224.2 1598.3,222.4 1598.5,223.5 1599.0,229.2 1599.5,232.8 1600.0,233.8 1600.5,233.8 1601.0,233.9 1601.5,233.9 1602.0,234.2 1602.5,234.2 1603.0,234.4 1603.5,234.2 1604.0,234.1 1604.5,233.9 1605.0,233.9 1605.5,233.9 1606.0,233.8 1606.5,233.8 1607.0,233.8 1607.5,233.8 1608.0,233.9 1608.5,234.0 1609.0,234.0 1609.5,234.0 1610.0,233.8 1610.5,233.7 1611.0,233.8 1611.5,234.1 1612.0,234.2 1612.5,234.1 1613.0,234.0 1613.5,233.9 1614.0,234.0 1614.5,234.0 1615.0,234.0 1615.5,234.0 1616.0,233.8 1616.5,233.6 1617.0,233.5 1617.5,233.7 1618.0,233.9 1618.5,234.1 1619.0,234.0 1619.5,234.0 1620.0,234.0 1620.5,234.1 1621.0,234.1 1621.5,234.0 1622.0,233.8 1622.5,233.8 1623.0,234.0 1623.5,234.4 1624.0,234.5 1624.5,234.5 1625.0,234.3 1625.5,234.1 1626.0,234.0 1626.5,234.1 1627.0,234.1 1627.5,234.3 1628.0,234.5 1628.5,234.4 1629.0,234.3 1629.5,234.0 1630.0,234.0 1630.5,233.7 1631.0,233.7 1631.5,233.9 1632.0,234.0 1632.5,234.1 1633.0,234.0 1633.5,233.9 1634.0,233.8 1634.5,233.7 1635.0,233.7 1635.5,233.8 1636.0,233.9 1636.5,234.0 1637.0,234.0 1637.5,234.1 1638.0,234.1 1638.5,234.0 1639.0,234.0 1639.5,233.8 1640.0,234.1 1640.5,234.2 1641.0,234.3 1641.5,234.5 1642.0,234.5 1642.5,234.5 1643.0,234.4 1643.5,234.1 1644.0,233.9 1644.5,233.7 1645.0,233.6 1645.5,233.7 1646.0,233.8 1646.5,233.9 1647.0,233.9 1647.5,234.0 1648.0,234.0 1648.5,233.7 1649.0,233.7 1649.5,233.7 1650.0,233.8 1650.5,233.9 1651.0,234.2 1651.5,234.2 1652.0,234.3 1652.5,234.1 1653.0,234.0 1653.5,233.8 1654.0,233.9 1654.5,234.1 1655.0,234.2 1655.5,234.2 1656.0,234.1 1656.5,234.0 1657.0,234.1 1657.5,234.3 1658.0,234.2 1658.5,234.0 1659.0,233.9 1659.5,233.8 1660.0,234.1 1660.5,234.0 1661.0,234.1 1661.5,233.9 1662.0,233.9 1662.5,233.8 1663.0,234.0 1663.5,234.1 1664.0,234.2 1664.5,234.0 1665.0,233.0 1665.5,230.8 1666.0,229.4 1666.0,229.3 1666.5,230.9 1667.0,232.7 1667.5,233.4 1668.0,233.7 1668.5,234.1 1669.0,234.0 1669.5,233.9 1670.0,233.9 1670.5,233.8 1671.0,233.8 1671.5,233.6 1672.0,233.6 1672.5,233.8 1673.0,234.0 1673.5,233.7 1674.0,233.8 1674.5,233.6 1675.0,233.7 1675.5,234.0 1676.0,234.0 1676.5,234.0 1677.0,233.8 1677.5,233.7 1678.0,233.6 1678.5,233.7 1679.0,233.8 1679.5,233.8 1680.0,233.9 1680.5,233.9 1681.0,233.8 1681.5,234.0 1682.0,234.1 1682.5,234.3 1683.0,234.4 1683.5,234.4 1684.0,234.2 1684.5,234.2 1685.0,234.2 1685.5,234.3 1686.0,234.3 1686.5,234.2 1687.0,233.9 1687.5,233.5 1688.0,233.7 1688.5,233.9 1689.0,234.3 1689.5,234.2 1690.0,234.2 1690.5,234.0 1691.0,234.1 1691.5,234.0 1692.0,234.2 1692.5,234.2 1693.0,234.4 1693.5,234.3 1694.0,234.4 1694.5,234.4 1695.0,234.3 1695.5,234.2 1696.0,234.0 1696.5,233.8 1697.0,233.9 1697.5,233.9 1698.0,234.0 1698.5,234.0 1699.0,234.3 1699.5,234.2 1700.0,234.4 1700.5,234.3 1701.0,234.2 1701.5,234.0 1702.0,234.0 1702.5,234.0 1703.0,234.2 1703.5,234.0 1704.0,233.6 1704.5,233.6 1705.0,233.7 1705.5,234.0 1706.0,234.3 1706.5,234.2 1707.0,234.0 1707.5,233.9 1708.0,234.1 1708.5,234.2 1709.0,234.2 1709.5,234.3 1710.0,234.0 1710.5,233.7 1711.0,233.4 1711.5,233.6 1712.0,233.7 1712.5,234.1 1713.0,234.3 1713.5,234.5 1714.0,234.0 1714.5,233.9 1715.0,233.6 1715.5,233.8 1716.0,233.9 1716.5,234.2 1717.0,233.9 1717.5,234.1 1718.0,234.2 1718.5,234.3 1719.0,234.0 1719.5,233.9 1720.0,234.0 1720.5,233.9 1721.0,233.9 1721.5,233.7 1722.0,233.7 1722.5,233.7 1723.0,234.0 1723.5,234.2 1724.0,234.4 1724.5,234.6 1725.0,234.3 1725.5,234.0 1726.0,234.0 1726.5,234.1 1727.0,234.2 1727.5,234.3 1728.0,234.1 1728.5,233.8 1729.0,233.3 1729.5,232.3 1730.0,230.7 1730.3,230.2 1730.5,230.7 1731.0,232.3 1731.5,233.8 1732.0,234.2 1732.5,234.0 1733.0,234.0 1733.5,234.0 1734.0,234.1 1734.5,233.9 1735.0,233.8 1735.5,233.7 1736.0,233.9 1736.5,234.1 1737.0,233.9 1737.5,233.8 1738.0,233.7 1738.5,233.7 1739.0,233.5 1739.5,233.8 1740.0,234.0 1740.5,234.4 1741.0,234.3 1741.5,234.3 1742.0,234.1 1742.5,234.0 1743.0,234.0 1743.5,233.9 1744.0,234.1 1744.5,234.2 1745.0,234.2 1745.5,234.2 1746.0,234.0 1746.5,233.9 1747.0,233.8 1747.5,233.7 1748.0,233.9 1748.5,234.0 1749.0,234.3 1749.5,234.5 1750.0,234.4 1750.5,234.2 1751.0,234.2 1751.5,234.2 1752.0,234.6 1752.5,234.5 1753.0,234.5 1753.5,234.1 1754.0,234.2 1754.5,234.2 1755.0,234.2 1755.5,234.0 1756.0,234.1 1756.5,234.1 1757.0,234.3 1757.5,233.9 1758.0,233.8 1758.5,233.7 1759.0,233.8 1759.5,233.9 1760.0,233.9 1760.5,233.9 1761.0,233.9 1761.5,234.0 1762.0,234.0 1762.5,234.0 1763.0,233.9 1763.5,233.7 1764.0,233.8 1764.5,233.8 1765.0,234.1 1765.5,234.0 1766.0,233.9 1766.5,234.0 1767.0,234.1 1767.5,233.9 1768.0,233.9 1768.5,234.1 1769.0,234.1 1769.5,234.3 1770.0,234.4 1770.5,234.3 1771.0,234.3 1771.5,234.3 1772.0,234.3 1772.5,234.3 1773.0,234.1 1773.5,234.0 1774.0,234.0 1774.5,234.2 1775.0,234.4 1775.5,234.4 1776.0,234.1 1776.5,233.8 1777.0,233.8 1777.5,234.0 1778.0,233.9 1778.5,234.1 1779.0,233.9 1779.5,234.0 1780.0,233.8 1780.5,233.9 1781.0,234.0 1781.5,234.1 1782.0,234.2 1782.5,233.8 1783.0,233.5 1783.5,233.1 1784.0,233.5 1784.5,233.8 1785.0,234.1 1785.5,234.1 1786.0,234.3 1786.5,234.3 1787.0,234.1 1787.5,234.0 1788.0,233.8 1788.5,233.8 1789.0,234.0 1789.5,234.3 1790.0,234.4 1790.5,234.2 1791.0,233.7 1791.5,233.1 1791.9,232.9 1792.0,233.0 1792.5,233.5 1793.0,233.9 1793.5,234.1 1794.0,233.9 1794.5,233.7 1795.0,233.7 1795.5,233.9 1796.0,233.8 1796.5,233.7 1797.0,233.7 1797.5,234.1 1798.0,234.1 1798.5,234.0 1799.0,233.8 1799.5,234.0 1800.0,233.8 1800.5,233.8 1801.0,233.6 1801.5,233.8 1802.0,233.9 1802.5,233.9 1803.0,233.9 1803.5,233.9 1804.0,234.1 1804.5,234.2 1805.0,234.4 1805.5,234.4 1806.0,234.5 1806.5,234.5 1807.0,234.4 1807.5,234.3 1808.0,234.0" fill="none" stroke="#3aa46c" stroke-width="1.9" stroke-linejoin="round"/>
<polyline points="1339.0,287.9 1339.5,288.0 1340.0,288.2 1340.5,288.2 1341.0,288.4 1341.5,288.4 1342.0,288.0 1342.5,287.9 1343.0,287.8 1343.5,288.1 1344.0,288.2 1344.5,288.2 1345.0,288.1 1345.5,288.2 1346.0,288.3 1346.5,288.4 1347.0,288.3 1347.5,288.0 1348.0,288.1 1348.5,288.2 1349.0,288.3 1349.5,288.2 1350.0,288.1 1350.5,288.3 1351.0,288.3 1351.5,288.5 1352.0,288.3 1352.5,288.1 1353.0,288.0 1353.5,288.1 1354.0,288.1 1354.5,288.0 1355.0,288.1 1355.5,288.0 1356.0,287.9 1356.5,287.8 1357.0,287.7 1357.5,287.7 1358.0,287.4 1358.4,287.1 1358.5,287.2 1359.0,287.8 1359.5,288.2 1360.0,288.0 1360.5,288.1 1361.0,287.9 1361.5,287.9 1362.0,287.9 1362.5,287.8 1363.0,287.8 1363.5,287.8 1364.0,288.0 1364.5,288.0 1365.0,287.9 1365.5,287.7 1366.0,287.8 1366.5,288.1 1367.0,288.2 1367.5,288.2 1368.0,288.0 1368.5,287.9 1369.0,287.7 1369.5,288.0 1370.0,287.9 1370.5,288.0 1371.0,288.1 1371.5,288.1 1372.0,288.1 1372.5,288.0 1373.0,287.9 1373.5,288.1 1374.0,287.9 1374.5,287.9 1375.0,287.7 1375.5,287.7 1376.0,287.6 1376.5,287.7 1377.0,287.8 1377.5,287.9 1378.0,288.0 1378.5,287.8 1379.0,287.8 1379.5,287.8 1380.0,288.1 1380.5,288.1 1381.0,288.0 1381.5,288.1 1382.0,287.9 1382.5,287.7 1383.0,287.6 1383.5,287.8 1384.0,287.7 1384.5,287.7 1385.0,287.7 1385.5,287.9 1386.0,288.0 1386.5,288.1 1387.0,288.1 1387.5,287.9 1388.0,287.8 1388.5,287.8 1389.0,288.1 1389.5,288.4 1390.0,288.2 1390.5,288.1 1391.0,288.0 1391.5,288.0 1392.0,288.0 1392.5,287.9 1393.0,288.0 1393.5,288.0 1394.0,288.1 1394.5,288.2 1395.0,288.1 1395.5,288.4 1396.0,288.3 1396.5,288.1 1397.0,288.0 1397.5,287.9 1398.0,287.9 1398.5,287.9 1399.0,287.7 1399.5,287.9 1400.0,288.1 1400.5,288.2 1401.0,288.1 1401.5,288.0 1402.0,287.9 1402.5,288.0 1403.0,288.1 1403.5,288.1 1404.0,288.3 1404.5,288.2 1405.0,288.2 1405.5,288.2 1406.0,288.1 1406.5,288.1 1407.0,288.0 1407.5,287.7 1408.0,287.7 1408.5,287.6 1409.0,287.8 1409.5,287.7 1410.0,287.6 1410.5,287.5 1411.0,287.5 1411.5,287.8 1412.0,288.0 1412.5,288.3 1413.0,288.7 1413.5,288.5 1414.0,288.2 1414.5,287.9 1415.0,287.9 1415.5,287.7 1416.0,287.7 1416.5,287.7 1417.0,287.6 1417.5,287.6 1418.0,287.7 1418.5,287.9 1419.0,287.8 1419.5,287.9 1420.0,287.9 1420.5,287.9 1421.0,287.8 1421.5,287.6 1422.0,287.4 1422.5,287.3 1423.0,287.3 1423.5,287.2 1424.0,286.6 1424.5,282.9 1425.0,261.2 1425.4,238.6 1425.5,239.7 1426.0,270.2 1426.5,284.7 1427.0,286.6 1427.5,287.2 1428.0,287.5 1428.5,287.5 1429.0,287.6 1429.5,287.6 1430.0,287.7 1430.5,287.7 1431.0,287.8 1431.5,288.0 1432.0,288.4 1432.5,288.4 1433.0,288.3 1433.5,288.0 1434.0,287.9 1434.5,287.8 1435.0,287.8 1435.5,287.8 1436.0,287.8 1436.5,287.7 1437.0,287.8 1437.5,287.8 1438.0,287.8 1438.5,287.9 1439.0,288.2 1439.5,288.1 1440.0,288.1 1440.5,287.9 1441.0,287.8 1441.5,287.8 1442.0,287.9 1442.5,287.8 1443.0,287.8 1443.5,287.9 1444.0,287.9 1444.5,288.0 1445.0,288.0 1445.5,288.1 1446.0,288.2 1446.5,288.2 1447.0,288.2 1447.5,287.9 1448.0,288.0 1448.5,288.0 1449.0,288.0 1449.5,288.0 1450.0,288.0 1450.5,288.0 1451.0,288.1 1451.5,287.9 1452.0,288.1 1452.5,288.0 1453.0,288.3 1453.5,288.2 1454.0,288.0 1454.5,288.0 1455.0,288.1 1455.5,288.1 1456.0,288.2 1456.5,288.2 1457.0,288.4 1457.5,288.3 1458.0,288.1 1458.5,287.9 1459.0,287.8 1459.5,287.9 1460.0,287.9 1460.5,288.3 1461.0,288.4 1461.5,288.4 1462.0,288.1 1462.5,288.1 1463.0,288.1 1463.5,288.2 1464.0,288.1 1464.5,287.8 1465.0,287.8 1465.5,287.8 1466.0,288.0 1466.5,288.3 1467.0,288.1 1467.5,288.0 1468.0,287.9 1468.5,287.7 1469.0,287.8 1469.5,287.8 1470.0,287.9 1470.5,288.0 1471.0,288.0 1471.5,287.9 1472.0,287.7 1472.5,287.7 1473.0,287.7 1473.5,287.8 1474.0,287.8 1474.5,287.8 1475.0,287.6 1475.5,287.4 1476.0,285.4 1476.5,281.7 1476.7,281.0 1477.0,282.5 1477.5,286.4 1478.0,287.7 1478.5,287.9 1479.0,287.9 1479.5,287.9 1480.0,287.8 1480.5,287.7 1481.0,287.9 1481.5,288.1 1482.0,288.0 1482.5,287.8 1483.0,287.8 1483.5,287.7 1484.0,287.8 1484.5,287.9 1485.0,288.0 1485.5,288.1 1486.0,288.1 1486.5,288.0 1487.0,287.9 1487.5,287.9 1488.0,288.0 1488.5,288.0 1489.0,288.1 1489.5,288.3 1490.0,288.3 1490.5,288.3 1491.0,288.1 1491.5,288.1 1492.0,288.1 1492.5,288.1 1493.0,288.0 1493.5,288.1 1494.0,288.2 1494.5,288.1 1495.0,288.1 1495.5,287.9 1496.0,288.0 1496.5,288.0 1497.0,288.0 1497.5,288.0 1498.0,287.9 1498.5,287.7 1499.0,287.7 1499.5,287.7 1500.0,287.7 1500.5,287.9 1501.0,287.7 1501.5,287.7 1502.0,287.7 1502.5,287.9 1503.0,287.9 1503.5,287.8 1504.0,287.8 1504.5,287.6 1505.0,287.7 1505.5,287.8 1506.0,287.8 1506.5,287.7 1507.0,287.6 1507.5,287.6 1508.0,287.6 1508.5,287.7 1509.0,288.1 1509.5,288.2 1510.0,288.2 1510.5,287.9 1511.0,287.8 1511.5,287.8 1512.0,288.0 1512.5,288.0 1513.0,287.9 1513.5,288.0 1514.0,288.0 1514.5,288.1 1515.0,288.1 1515.5,287.9 1516.0,287.9 1516.5,287.9 1517.0,288.1 1517.5,288.1 1518.0,288.0 1518.5,287.7 1519.0,287.4 1519.5,286.1 1520.0,280.9 1520.5,273.9 1520.6,273.9 1521.0,278.9 1521.5,285.3 1522.0,287.1 1522.5,287.3 1523.0,287.5 1523.5,287.8 1524.0,287.9 1524.5,288.0 1525.0,288.2 1525.5,288.2 1526.0,288.1 1526.5,287.9 1527.0,288.0 1527.5,288.1 1528.0,288.1 1528.5,288.2 1529.0,288.1 1529.5,288.3 1530.0,288.2 1530.5,288.1 1531.0,288.1 1531.5,287.9 1532.0,287.8 1532.5,288.0 1533.0,288.0 1533.5,288.1 1534.0,288.0 1534.5,287.9 1535.0,287.8 1535.5,287.7 1536.0,287.7 1536.5,287.7 1537.0,287.8 1537.5,288.0 1538.0,288.0 1538.5,288.0 1539.0,288.1 1539.5,287.9 1540.0,287.9 1540.5,287.9 1541.0,288.1 1541.5,288.0 1542.0,288.0 1542.5,288.1 1543.0,288.1 1543.5,288.3 1544.0,288.1 1544.5,288.4 1545.0,288.5 1545.5,288.4 1546.0,288.3 1546.5,288.1 1547.0,288.1 1547.5,288.0 1548.0,288.0 1548.5,287.6 1549.0,287.6 1549.5,287.6 1550.0,288.0 1550.5,287.9 1551.0,288.1 1551.5,288.0 1552.0,288.0 1552.5,288.3 1553.0,288.4 1553.5,288.5 1554.0,288.5 1554.5,288.4 1555.0,288.4 1555.5,288.3 1556.0,288.1 1556.5,288.1 1557.0,288.2 1557.5,288.2 1558.0,288.1 1558.5,288.1 1559.0,288.0 1559.5,287.8 1560.0,287.8 1560.5,287.7 1561.0,287.7 1561.5,287.5 1562.0,287.6 1562.5,287.8 1563.0,287.9 1563.5,287.9 1564.0,288.0 1564.5,288.0 1565.0,288.1 1565.5,288.2 1566.0,288.2 1566.5,288.4 1567.0,288.3 1567.5,288.2 1568.0,287.6 1568.5,287.5 1569.0,287.5 1569.5,287.7 1570.0,287.6 1570.5,287.6 1571.0,287.7 1571.5,287.8 1572.0,288.0 1572.5,288.1 1573.0,288.2 1573.5,288.3 1574.0,288.2 1574.5,288.0 1575.0,287.9 1575.5,287.9 1576.0,287.7 1576.5,287.7 1577.0,287.9 1577.5,288.0 1578.0,288.0 1578.5,287.9 1579.0,288.1 1579.5,288.2 1580.0,288.2 1580.5,288.3 1581.0,288.0 1581.5,287.8 1582.0,287.8 1582.5,287.7 1583.0,287.8 1583.5,287.8 1584.0,288.0 1584.5,288.1 1585.0,288.0 1585.5,287.9 1586.0,287.7 1586.5,287.6 1587.0,287.8 1587.5,288.1 1588.0,288.1 1588.5,288.0 1589.0,287.8 1589.5,287.9 1590.0,287.9 1590.5,288.0 1591.0,287.9 1591.5,287.9 1592.0,287.8 1592.5,287.8 1593.0,287.6 1593.5,287.6 1594.0,287.5 1594.5,287.5 1595.0,287.6 1595.5,287.7 1596.0,287.8 1596.5,287.7 1597.0,286.4 1597.5,281.2 1598.0,275.0 1598.0,274.9 1598.5,280.3 1599.0,286.1 1599.5,287.9 1600.0,288.0 1600.5,288.2 1601.0,288.0 1601.5,288.0 1602.0,287.9 1602.5,287.9 1603.0,288.1 1603.5,288.1 1604.0,288.2 1604.5,288.2 1605.0,288.0 1605.5,288.1 1606.0,288.0 1606.5,287.9 1607.0,287.7 1607.5,288.0 1608.0,288.3 1608.5,288.3 1609.0,288.2 1609.5,288.2 1610.0,288.1 1610.5,288.2 1611.0,288.1 1611.5,288.2 1612.0,288.3 1612.5,288.2 1613.0,288.1 1613.5,287.9 1614.0,287.9 1614.5,288.0 1615.0,287.9 1615.5,287.8 1616.0,287.7 1616.5,287.9 1617.0,287.9 1617.5,287.9 1618.0,288.1 1618.5,288.0 1619.0,288.0 1619.5,288.0 1620.0,287.8 1620.5,287.7 1621.0,287.7 1621.5,287.8 1622.0,287.8 1622.5,287.7 1623.0,287.9 1623.5,287.9 1624.0,287.8 1624.5,287.8 1625.0,287.8 1625.5,287.8 1626.0,287.7 1626.5,287.7 1627.0,287.9 1627.5,288.0 1628.0,288.0 1628.5,288.1 1629.0,288.1 1629.5,288.1 1630.0,287.8 1630.5,287.5 1631.0,287.5 1631.5,287.6 1632.0,287.9 1632.5,287.8 1633.0,288.0 1633.5,287.9 1634.0,287.8 1634.5,287.9 1635.0,287.9 1635.5,288.0 1636.0,288.0 1636.5,288.1 1637.0,288.0 1637.5,287.9 1638.0,287.8 1638.5,287.9 1639.0,288.1 1639.5,288.2 1640.0,288.3 1640.5,288.3 1641.0,288.3 1641.5,288.2 1642.0,288.2 1642.5,288.3 1643.0,288.2 1643.5,288.2 1644.0,288.2 1644.5,288.0 1645.0,287.8 1645.5,287.9 1646.0,288.2 1646.5,288.3 1647.0,288.2 1647.5,288.2 1648.0,288.1 1648.5,288.2 1649.0,288.2 1649.5,288.6 1650.0,288.6 1650.5,288.4 1651.0,288.1 1651.5,288.1 1652.0,288.2 1652.5,288.0 1653.0,287.9 1653.5,288.0 1654.0,288.0 1654.5,287.9 1655.0,287.7 1655.5,287.8 1656.0,287.9 1656.5,288.0 1657.0,288.1 1657.5,288.2 1658.0,288.1 1658.5,288.0 1659.0,287.9 1659.5,287.8 1660.0,287.8 1660.5,287.9 1661.0,288.1 1661.5,288.0 1662.0,288.2 1662.5,288.1 1663.0,288.0 1663.5,287.7 1664.0,287.7 1664.5,287.6 1665.0,286.5 1665.5,283.3 1666.0,281.0 1666.0,281.0 1666.5,284.0 1667.0,287.0 1667.5,287.8 1668.0,287.9 1668.5,287.7 1669.0,287.6 1669.5,287.6 1670.0,287.9 1670.5,288.1 1671.0,288.3 1671.5,288.0 1672.0,287.9 1672.5,287.8 1673.0,287.7 1673.5,287.8 1674.0,287.7 1674.5,287.9 1675.0,288.2 1675.5,288.4 1676.0,288.5 1676.5,288.4 1677.0,288.0 1677.5,287.7 1678.0,287.6 1678.5,287.9 1679.0,288.0 1679.5,288.1 1680.0,287.9 1680.5,287.9 1681.0,287.9 1681.5,287.9 1682.0,288.0 1682.5,288.2 1683.0,288.0 1683.5,288.0 1684.0,288.0 1684.5,287.9 1685.0,287.6 1685.5,287.5 1686.0,287.6 1686.5,288.0 1687.0,288.1 1687.5,288.1 1688.0,288.3 1688.5,288.2 1689.0,288.2 1689.5,287.8 1690.0,287.7 1690.5,287.8 1691.0,287.9 1691.5,288.0 1692.0,288.1 1692.5,288.0 1693.0,288.0 1693.5,287.9 1694.0,288.0 1694.5,288.0 1695.0,287.9 1695.5,287.9 1696.0,288.0 1696.5,288.2 1697.0,288.4 1697.5,288.2 1698.0,288.2 1698.5,288.1 1699.0,288.4 1699.5,288.3 1700.0,288.1 1700.5,288.0 1701.0,288.0 1701.5,288.2 1702.0,288.1 1702.5,288.3 1703.0,288.2 1703.5,288.2 1704.0,288.1 1704.5,288.0 1705.0,288.0 1705.5,287.9 1706.0,288.1 1706.5,288.3 1707.0,288.3 1707.5,288.3 1708.0,288.2 1708.5,288.1 1709.0,288.2 1709.5,288.0 1710.0,288.0 1710.5,288.0 1711.0,288.2 1711.5,288.1 1712.0,288.1 1712.5,287.9 1713.0,287.9 1713.5,287.8 1714.0,288.0 1714.5,288.0 1715.0,288.3 1715.5,288.3 1716.0,288.2 1716.5,288.2 1717.0,288.1 1717.5,288.2 1718.0,288.1 1718.5,288.2 1719.0,288.1 1719.5,288.1 1720.0,288.0 1720.5,287.9 1721.0,287.7 1721.5,287.9 1722.0,288.0 1722.5,287.8 1723.0,287.7 1723.5,287.6 1724.0,287.6 1724.5,287.8 1725.0,287.7 1725.5,287.7 1726.0,287.9 1726.5,288.1 1727.0,288.4 1727.5,288.2 1728.0,287.9 1728.5,287.8 1729.0,286.9 1729.5,285.1 1730.0,283.8 1730.0,283.8 1730.5,285.2 1731.0,286.8 1731.5,287.6 1732.0,287.9 1732.5,287.8 1733.0,287.6 1733.5,287.6 1734.0,287.9 1734.5,288.3 1735.0,288.2 1735.5,288.1 1736.0,287.9 1736.5,287.8 1737.0,287.6 1737.5,287.8 1738.0,288.0 1738.5,288.1 1739.0,288.1 1739.5,288.0 1740.0,288.0 1740.5,287.9 1741.0,288.0 1741.5,288.1 1742.0,288.1 1742.5,288.0 1743.0,287.9 1743.5,287.8 1744.0,287.9 1744.5,287.9 1745.0,287.8 1745.5,287.6 1746.0,287.5 1746.5,287.8 1747.0,287.9 1747.5,288.1 1748.0,288.2 1748.5,288.0 1749.0,287.9 1749.5,287.9 1750.0,287.9 1750.5,287.9 1751.0,288.0 1751.5,287.9 1752.0,287.8 1752.5,287.9 1753.0,288.0 1753.5,288.2 1754.0,288.0 1754.5,287.8 1755.0,287.6 1755.5,287.8 1756.0,288.0 1756.5,288.1 1757.0,288.0 1757.5,288.0 1758.0,288.1 1758.5,287.9 1759.0,287.9 1759.5,287.9 1760.0,288.1 1760.5,288.0 1761.0,288.1 1761.5,287.9 1762.0,288.0 1762.5,288.0 1763.0,287.8 1763.5,287.7 1764.0,287.8 1764.5,287.7 1765.0,287.9 1765.5,287.9 1766.0,288.0 1766.5,288.2 1767.0,288.0 1767.5,288.1 1768.0,288.0 1768.5,288.2 1769.0,288.2 1769.5,288.3 1770.0,288.3 1770.5,288.2 1771.0,288.2 1771.5,288.0 1772.0,288.2 1772.5,288.2 1773.0,288.1 1773.5,288.0 1774.0,287.8 1774.5,287.8 1775.0,288.0 1775.5,288.0 1776.0,287.9 1776.5,287.8 1777.0,287.9 1777.5,288.1 1778.0,288.1 1778.5,287.8 1779.0,287.7 1779.5,287.8 1780.0,288.0 1780.5,288.1 1781.0,288.2 1781.5,288.2 1782.0,288.2 1782.5,288.3 1783.0,288.3 1783.5,288.2 1784.0,288.0 1784.5,288.1 1785.0,288.2 1785.5,288.4 1786.0,288.3 1786.5,288.3 1787.0,288.3 1787.5,288.4 1788.0,288.2 1788.5,288.1 1789.0,288.0 1789.5,288.0 1790.0,288.0 1790.5,288.0 1791.0,287.9 1791.5,287.4 1791.9,287.1 1792.0,287.0 1792.5,287.4 1793.0,287.7 1793.5,287.7 1794.0,287.6 1794.5,287.6 1795.0,287.6 1795.5,287.7 1796.0,287.7 1796.5,287.7 1797.0,287.8 1797.5,287.8 1798.0,287.8 1798.5,287.6 1799.0,287.8 1799.5,288.0 1800.0,288.1 1800.5,288.1 1801.0,288.1 1801.5,288.3 1802.0,288.4 1802.5,288.3 1803.0,288.3 1803.5,288.0 1804.0,287.9 1804.5,287.6 1805.0,287.6 1805.5,287.9 1806.0,288.1 1806.5,288.3 1807.0,288.3 1807.5,288.3 1808.0,288.4" fill="none" stroke="#2a64c0" stroke-width="1.9" stroke-linejoin="round"/>
<polyline points="1339.0,342.5 1339.5,342.5 1340.0,342.4 1340.5,342.5 1341.0,342.6 1341.5,342.8 1342.0,342.8 1342.5,342.8 1343.0,342.5 1343.5,342.3 1344.0,342.3 1344.5,342.4 1345.0,342.5 1345.5,342.3 1346.0,342.5 1346.5,342.4 1347.0,342.5 1347.5,342.5 1348.0,342.4 1348.5,342.4 1349.0,342.4 1349.5,342.4 1350.0,342.5 1350.5,342.5 1351.0,342.5 1351.5,342.6 1352.0,342.6 1352.5,342.8 1353.0,342.9 1353.5,342.8 1354.0,342.7 1354.5,342.5 1355.0,342.4 1355.5,342.8 1356.0,342.8 1356.5,343.0 1357.0,343.0 1357.5,342.9 1358.0,342.6 1358.5,341.1 1358.8,340.2 1359.0,340.3 1359.5,341.5 1360.0,342.2 1360.5,342.2 1361.0,342.3 1361.5,342.4 1362.0,342.2 1362.5,342.2 1363.0,342.3 1363.5,342.2 1364.0,342.3 1364.5,342.3 1365.0,342.4 1365.5,342.5 1366.0,342.4 1366.5,342.6 1367.0,342.6 1367.5,342.6 1368.0,342.5 1368.5,342.5 1369.0,342.4 1369.5,342.4 1370.0,342.5 1370.5,342.6 1371.0,342.4 1371.5,342.2 1372.0,342.1 1372.5,342.0 1373.0,342.1 1373.5,342.1 1374.0,342.1 1374.5,342.1 1375.0,341.9 1375.5,341.9 1376.0,341.9 1376.5,342.0 1377.0,342.2 1377.5,342.4 1378.0,342.3 1378.5,342.3 1379.0,342.3 1379.5,342.3 1380.0,342.2 1380.5,342.3 1381.0,342.4 1381.5,342.4 1382.0,342.4 1382.5,342.6 1383.0,342.7 1383.5,342.7 1384.0,342.6 1384.5,342.3 1385.0,342.1 1385.5,341.9 1386.0,341.9 1386.5,342.0 1387.0,342.0 1387.5,342.1 1388.0,342.3 1388.5,342.3 1389.0,342.4 1389.5,342.5 1390.0,342.6 1390.5,342.7 1391.0,342.7 1391.5,342.7 1392.0,342.5 1392.5,342.5 1393.0,342.4 1393.5,342.4 1394.0,342.4 1394.5,342.6 1395.0,342.8 1395.5,343.1 1396.0,343.2 1396.5,343.1 1397.0,342.6 1397.5,342.7 1398.0,342.4 1398.5,342.2 1399.0,342.2 1399.5,342.0 1400.0,341.8 1400.5,341.8 1401.0,341.9 1401.5,342.2 1402.0,342.4 1402.5,342.5 1403.0,342.7 1403.5,342.8 1404.0,342.7 1404.5,342.3 1405.0,342.5 1405.5,342.5 1406.0,342.6 1406.5,342.6 1407.0,342.6 1407.5,342.7 1408.0,342.9 1408.5,342.9 1409.0,342.7 1409.5,342.3 1410.0,341.9 1410.5,341.9 1411.0,341.9 1411.5,342.2 1412.0,342.5 1412.5,342.8 1413.0,342.8 1413.5,342.9 1414.0,342.6 1414.5,342.2 1415.0,342.2 1415.5,342.2 1416.0,342.5 1416.5,342.7 1417.0,342.6 1417.5,342.4 1418.0,342.1 1418.5,342.0 1419.0,342.3 1419.5,342.5 1420.0,342.5 1420.5,342.5 1421.0,342.5 1421.5,342.3 1422.0,342.1 1422.5,341.9 1423.0,341.8 1423.5,340.8 1424.0,333.9 1424.5,304.7 1424.8,294.7 1425.0,303.5 1425.5,333.1 1426.0,340.9 1426.5,341.9 1427.0,342.2 1427.5,342.0 1428.0,342.0 1428.5,341.9 1429.0,341.9 1429.5,342.1 1430.0,342.1 1430.5,342.2 1431.0,342.1 1431.5,342.2 1432.0,342.3 1432.5,342.4 1433.0,342.4 1433.5,342.4 1434.0,342.7 1434.5,342.7 1435.0,342.8 1435.5,342.7 1436.0,342.8 1436.5,342.6 1437.0,342.7 1437.5,342.7 1438.0,342.8 1438.5,342.9 1439.0,342.9 1439.5,343.0 1440.0,342.9 1440.5,342.7 1441.0,342.5 1441.5,342.4 1442.0,342.3 1442.5,342.1 1443.0,342.3 1443.5,342.6 1444.0,342.7 1444.5,342.7 1445.0,342.7 1445.5,342.6 1446.0,342.5 1446.5,342.3 1447.0,342.4 1447.5,342.5 1448.0,342.5 1448.5,342.4 1449.0,342.2 1449.5,342.3 1450.0,342.4 1450.5,342.8 1451.0,342.5 1451.5,342.2 1452.0,342.1 1452.5,342.4 1453.0,342.7 1453.5,342.7 1454.0,342.8 1454.5,342.8 1455.0,342.6 1455.5,342.3 1456.0,342.2 1456.5,342.2 1457.0,342.4 1457.5,342.2 1458.0,342.6 1458.5,342.6 1459.0,342.7 1459.5,342.3 1460.0,342.3 1460.5,342.2 1461.0,342.4 1461.5,342.5 1462.0,342.6 1462.5,342.7 1463.0,342.4 1463.5,342.3 1464.0,342.4 1464.5,342.4 1465.0,342.3 1465.5,342.1 1466.0,342.3 1466.5,342.5 1467.0,342.7 1467.5,342.8 1468.0,342.7 1468.5,342.6 1469.0,342.5 1469.5,342.4 1470.0,342.3 1470.5,342.3 1471.0,342.3 1471.5,342.3 1472.0,342.3 1472.5,342.4 1473.0,342.4 1473.5,342.6 1474.0,342.3 1474.5,342.0 1475.0,339.8 1475.5,335.9 1475.7,335.3 1476.0,336.9 1476.5,340.8 1477.0,341.9 1477.5,342.2 1478.0,342.2 1478.5,342.2 1479.0,342.1 1479.5,342.2 1480.0,342.4 1480.5,342.7 1481.0,342.6 1481.5,342.4 1482.0,342.1 1482.5,342.2 1483.0,342.3 1483.5,342.3 1484.0,342.4 1484.5,342.5 1485.0,342.5 1485.5,342.6 1486.0,342.4 1486.5,342.4 1487.0,342.5 1487.5,342.6 1488.0,342.4 1488.5,342.4 1489.0,342.5 1489.5,342.7 1490.0,342.8 1490.5,343.0 1491.0,343.1 1491.5,342.9 1492.0,342.8 1492.5,342.6 1493.0,342.6 1493.5,342.5 1494.0,342.6 1494.5,342.6 1495.0,342.5 1495.5,342.3 1496.0,342.1 1496.5,342.3 1497.0,342.6 1497.5,343.1 1498.0,342.9 1498.5,342.8 1499.0,342.6 1499.5,342.6 1500.0,342.3 1500.5,342.4 1501.0,342.5 1501.5,342.5 1502.0,342.6 1502.5,342.6 1503.0,342.6 1503.5,342.7 1504.0,342.8 1504.5,342.8 1505.0,342.6 1505.5,342.6 1506.0,342.4 1506.5,342.4 1507.0,342.2 1507.5,342.3 1508.0,342.4 1508.5,342.4 1509.0,342.3 1509.5,342.5 1510.0,342.5 1510.5,342.4 1511.0,342.2 1511.5,342.5 1512.0,342.4 1512.5,342.5 1513.0,342.5 1513.5,342.5 1514.0,342.4 1514.5,342.3 1515.0,342.3 1515.5,342.4 1516.0,342.3 1516.5,342.4 1517.0,342.2 1517.5,342.1 1518.0,341.8 1518.5,341.5 1519.0,339.5 1519.5,333.0 1519.9,328.6 1520.0,329.0 1520.5,336.0 1521.0,340.8 1521.5,341.7 1522.0,342.1 1522.5,342.2 1523.0,342.4 1523.5,342.5 1524.0,342.7 1524.5,342.8 1525.0,342.6 1525.5,342.6 1526.0,342.3 1526.5,342.4 1527.0,342.3 1527.5,342.4 1528.0,342.4 1528.5,342.5 1529.0,342.5 1529.5,342.4 1530.0,342.1 1530.5,342.0 1531.0,342.1 1531.5,342.3 1532.0,342.5 1532.5,342.7 1533.0,342.4 1533.5,342.3 1534.0,342.3 1534.5,342.2 1535.0,342.1 1535.5,342.2 1536.0,342.3 1536.5,342.5 1537.0,342.8 1537.5,342.7 1538.0,342.6 1538.5,342.5 1539.0,342.7 1539.5,342.7 1540.0,342.7 1540.5,342.5 1541.0,342.4 1541.5,342.2 1542.0,342.2 1542.5,342.3 1543.0,342.4 1543.5,342.3 1544.0,342.4 1544.5,342.4 1545.0,342.8 1545.5,342.6 1546.0,342.5 1546.5,342.3 1547.0,342.5 1547.5,342.4 1548.0,342.5 1548.5,342.6 1549.0,342.9 1549.5,342.8 1550.0,342.8 1550.5,342.5 1551.0,342.4 1551.5,342.2 1552.0,342.4 1552.5,342.6 1553.0,342.7 1553.5,342.6 1554.0,342.4 1554.5,342.2 1555.0,342.3 1555.5,342.3 1556.0,342.4 1556.5,342.3 1557.0,342.1 1557.5,342.3 1558.0,342.2 1558.5,342.4 1559.0,342.8 1559.5,342.9 1560.0,342.8 1560.5,342.5 1561.0,342.5 1561.5,342.4 1562.0,342.3 1562.5,342.4 1563.0,342.4 1563.5,342.4 1564.0,342.3 1564.5,342.4 1565.0,342.2 1565.5,342.5 1566.0,342.5 1566.5,342.5 1567.0,342.5 1567.5,342.8 1568.0,342.7 1568.5,342.8 1569.0,342.7 1569.5,342.5 1570.0,342.6 1570.5,342.4 1571.0,342.4 1571.5,342.2 1572.0,342.5 1572.5,342.7 1573.0,342.8 1573.5,342.8 1574.0,342.5 1574.5,342.4 1575.0,342.3 1575.5,342.3 1576.0,342.4 1576.5,342.4 1577.0,342.4 1577.5,342.3 1578.0,342.3 1578.5,342.4 1579.0,342.7 1579.5,342.9 1580.0,342.9 1580.5,342.8 1581.0,342.9 1581.5,342.7 1582.0,342.6 1582.5,342.6 1583.0,342.5 1583.5,342.2 1584.0,342.1 1584.5,342.1 1585.0,342.1 1585.5,342.1 1586.0,342.3 1586.5,342.1 1587.0,342.5 1587.5,342.6 1588.0,342.8 1588.5,342.7 1589.0,342.7 1589.5,342.5 1590.0,342.3 1590.5,342.2 1591.0,342.3 1591.5,342.2 1592.0,342.3 1592.5,342.2 1593.0,342.3 1593.5,342.2 1594.0,342.0 1594.5,341.1 1595.0,336.8 1595.5,329.8 1595.6,329.3 1596.0,333.3 1596.5,340.0 1597.0,342.1 1597.5,342.5 1598.0,342.5 1598.5,342.4 1599.0,342.4 1599.5,342.4 1600.0,342.6 1600.5,342.7 1601.0,343.0 1601.5,343.2 1602.0,343.0 1602.5,343.0 1603.0,342.9 1603.5,342.8 1604.0,342.6 1604.5,342.7 1605.0,342.6 1605.5,342.8 1606.0,342.8 1606.5,342.8 1607.0,342.5 1607.5,342.3 1608.0,342.1 1608.5,342.0 1609.0,342.2 1609.5,342.3 1610.0,342.5 1610.5,342.5 1611.0,342.5 1611.5,342.6 1612.0,342.4 1612.5,342.6 1613.0,342.5 1613.5,342.5 1614.0,342.5 1614.5,342.7 1615.0,342.7 1615.5,342.7 1616.0,342.8 1616.5,342.7 1617.0,342.6 1617.5,342.6 1618.0,342.5 1618.5,342.6 1619.0,342.5 1619.5,342.6 1620.0,342.4 1620.5,342.5 1621.0,342.6 1621.5,342.8 1622.0,342.8 1622.5,342.7 1623.0,342.5 1623.5,342.3 1624.0,342.3 1624.5,342.5 1625.0,342.7 1625.5,343.0 1626.0,343.1 1626.5,343.1 1627.0,343.0 1627.5,343.0 1628.0,343.0 1628.5,342.8 1629.0,342.7 1629.5,342.6 1630.0,342.3 1630.5,342.3 1631.0,342.4 1631.5,342.4 1632.0,342.5 1632.5,342.5 1633.0,342.8 1633.5,342.9 1634.0,342.7 1634.5,342.7 1635.0,342.5 1635.5,342.8 1636.0,342.7 1636.5,342.5 1637.0,342.3 1637.5,342.1 1638.0,342.2 1638.5,342.1 1639.0,342.3 1639.5,342.4 1640.0,342.4 1640.5,342.5 1641.0,342.6 1641.5,342.7 1642.0,342.8 1642.5,342.9 1643.0,342.9 1643.5,342.9 1644.0,342.7 1644.5,342.6 1645.0,342.1 1645.5,342.0 1646.0,342.1 1646.5,342.4 1647.0,342.5 1647.5,342.3 1648.0,342.4 1648.5,342.4 1649.0,342.5 1649.5,342.4 1650.0,342.7 1650.5,342.7 1651.0,342.9 1651.5,342.8 1652.0,342.6 1652.5,342.6 1653.0,342.5 1653.5,342.4 1654.0,342.5 1654.5,342.5 1655.0,342.8 1655.5,342.6 1656.0,342.7 1656.5,342.8 1657.0,342.8 1657.5,342.7 1658.0,342.7 1658.5,342.6 1659.0,342.5 1659.5,342.5 1660.0,342.5 1660.5,342.5 1661.0,342.3 1661.5,342.3 1662.0,342.3 1662.5,342.4 1663.0,341.1 1663.5,338.4 1664.0,336.6 1664.0,336.5 1664.5,339.0 1665.0,341.1 1665.5,342.1 1666.0,342.1 1666.5,342.4 1667.0,342.6 1667.5,342.5 1668.0,342.4 1668.5,342.3 1669.0,342.3 1669.5,342.5 1670.0,342.4 1670.5,342.4 1671.0,342.6 1671.5,342.7 1672.0,342.7 1672.5,342.5 1673.0,342.5 1673.5,342.6 1674.0,342.8 1674.5,342.6 1675.0,342.8 1675.5,342.7 1676.0,342.9 1676.5,342.9 1677.0,342.6 1677.5,342.4 1678.0,342.1 1678.5,342.0 1679.0,342.1 1679.5,342.2 1680.0,342.3 1680.5,342.5 1681.0,342.5 1681.5,342.4 1682.0,342.5 1682.5,342.5 1683.0,342.6 1683.5,342.6 1684.0,342.5 1684.5,342.4 1685.0,342.4 1685.5,342.6 1686.0,342.8 1686.5,342.8 1687.0,342.8 1687.5,342.6 1688.0,342.2 1688.5,342.0 1689.0,342.3 1689.5,342.6 1690.0,342.7 1690.5,342.9 1691.0,342.6 1691.5,342.4 1692.0,342.5 1692.5,342.7 1693.0,342.8 1693.5,342.6 1694.0,342.6 1694.5,342.6 1695.0,342.6 1695.5,342.8 1696.0,342.9 1696.5,342.7 1697.0,342.8 1697.5,342.8 1698.0,342.9 1698.5,342.7 1699.0,342.7 1699.5,342.4 1700.0,342.5 1700.5,342.4 1701.0,342.7 1701.5,342.9 1702.0,343.0 1702.5,342.7 1703.0,342.4 1703.5,342.1 1704.0,342.5 1704.5,342.6 1705.0,342.6 1705.5,342.5 1706.0,342.7 1706.5,342.7 1707.0,342.8 1707.5,342.6 1708.0,342.3 1708.5,342.2 1709.0,342.4 1709.5,342.4 1710.0,342.4 1710.5,342.3 1711.0,342.4 1711.5,342.5 1712.0,342.4 1712.5,342.5 1713.0,342.6 1713.5,342.7 1714.0,342.5 1714.5,342.4 1715.0,342.3 1715.5,342.5 1716.0,342.7 1716.5,342.8 1717.0,342.9 1717.5,342.9 1718.0,342.7 1718.5,342.6 1719.0,342.5 1719.5,342.7 1720.0,342.6 1720.5,342.5 1721.0,342.3 1721.5,342.3 1722.0,342.4 1722.5,342.4 1723.0,342.4 1723.5,342.3 1724.0,342.1 1724.5,342.0 1725.0,341.8 1725.5,341.6 1726.0,340.8 1726.5,339.2 1726.9,338.4 1727.0,338.3 1727.5,339.7 1728.0,341.3 1728.5,342.2 1729.0,342.5 1729.5,342.5 1730.0,342.3 1730.5,342.2 1731.0,342.3 1731.5,342.3 1732.0,342.3 1732.5,342.6 1733.0,342.6 1733.5,342.7 1734.0,342.4 1734.5,342.5 1735.0,342.7 1735.5,342.8 1736.0,342.6 1736.5,342.5 1737.0,342.5 1737.5,342.6 1738.0,342.6 1738.5,342.7 1739.0,342.6 1739.5,342.6 1740.0,342.7 1740.5,342.7 1741.0,342.6 1741.5,342.6 1742.0,342.5 1742.5,342.5 1743.0,342.6 1743.5,342.7 1744.0,342.6 1744.5,342.4 1745.0,342.2 1745.5,342.2 1746.0,342.4 1746.5,342.3 1747.0,342.3 1747.5,342.3 1748.0,342.2 1748.5,342.2 1749.0,342.2 1749.5,342.5 1750.0,342.4 1750.5,342.5 1751.0,342.4 1751.5,342.3 1752.0,342.4 1752.5,342.6 1753.0,342.7 1753.5,342.6 1754.0,342.7 1754.5,342.5 1755.0,342.5 1755.5,342.3 1756.0,342.3 1756.5,342.2 1757.0,342.3 1757.5,342.4 1758.0,342.3 1758.5,342.6 1759.0,342.6 1759.5,342.7 1760.0,342.4 1760.5,342.4 1761.0,342.3 1761.5,342.5 1762.0,342.6 1762.5,342.7 1763.0,342.7 1763.5,342.5 1764.0,342.4 1764.5,342.3 1765.0,342.6 1765.5,342.6 1766.0,342.7 1766.5,342.5 1767.0,342.5 1767.5,342.3 1768.0,342.2 1768.5,342.4 1769.0,342.5 1769.5,342.9 1770.0,342.9 1770.5,342.9 1771.0,342.7 1771.5,342.6 1772.0,342.5 1772.5,342.4 1773.0,342.5 1773.5,342.6 1774.0,342.8 1774.5,342.8 1775.0,342.5 1775.5,342.3 1776.0,342.4 1776.5,342.4 1777.0,342.5 1777.5,342.4 1778.0,342.5 1778.5,342.7 1779.0,342.8 1779.5,342.7 1780.0,342.4 1780.5,342.4 1781.0,342.5 1781.5,342.7 1782.0,342.8 1782.5,342.6 1783.0,342.6 1783.5,342.6 1784.0,342.6 1784.5,342.5 1785.0,342.5 1785.5,342.5 1786.0,342.5 1786.5,342.2 1787.0,341.5 1787.2,341.3 1787.5,341.4 1788.0,341.9 1788.5,342.3 1789.0,342.3 1789.5,342.3 1790.0,342.5 1790.5,342.7 1791.0,342.7 1791.5,342.5 1792.0,342.6 1792.5,342.6 1793.0,342.5 1793.5,342.4 1794.0,342.4 1794.5,342.4 1795.0,342.6 1795.5,342.6 1796.0,342.7 1796.5,342.7 1797.0,343.0 1797.5,342.8 1798.0,342.7 1798.5,342.2 1799.0,342.0 1799.5,342.0 1800.0,342.1 1800.5,342.4 1801.0,342.3 1801.5,342.5 1802.0,342.5 1802.5,342.7 1803.0,342.5 1803.5,342.4 1804.0,342.1 1804.5,342.0 1805.0,341.8 1805.5,341.9 1806.0,342.4 1806.5,342.6 1807.0,342.8 1807.5,342.7 1808.0,342.7" fill="none" stroke="#d44454" stroke-width="1.9" stroke-linejoin="round"/>
<polyline points="1339.0,396.9 1339.5,396.7 1340.0,396.7 1340.5,396.8 1341.0,396.9 1341.5,396.9 1342.0,396.9 1342.5,396.9 1343.0,397.0 1343.5,397.0 1344.0,397.0 1344.5,396.8 1345.0,396.7 1345.5,396.8 1346.0,397.1 1346.5,397.0 1347.0,397.3 1347.5,397.5 1348.0,397.2 1348.5,397.0 1349.0,396.7 1349.5,396.7 1350.0,396.8 1350.5,397.1 1351.0,397.4 1351.5,397.3 1352.0,397.1 1352.5,397.0 1353.0,397.1 1353.5,397.2 1354.0,397.3 1354.5,397.5 1355.0,397.5 1355.5,397.2 1356.0,397.1 1356.5,397.2 1357.0,397.2 1357.5,396.3 1358.0,394.4 1358.4,393.0 1358.5,393.0 1359.0,394.6 1359.5,396.1 1360.0,396.7 1360.5,396.6 1361.0,396.6 1361.5,396.6 1362.0,396.7 1362.5,396.9 1363.0,396.8 1363.5,397.0 1364.0,397.1 1364.5,397.2 1365.0,397.2 1365.5,397.1 1366.0,397.0 1366.5,396.8 1367.0,397.0 1367.5,397.1 1368.0,397.2 1368.5,397.0 1369.0,396.8 1369.5,396.7 1370.0,396.9 1370.5,397.1 1371.0,397.3 1371.5,397.3 1372.0,397.4 1372.5,397.3 1373.0,397.0 1373.5,397.0 1374.0,396.8 1374.5,397.2 1375.0,397.1 1375.5,397.3 1376.0,397.1 1376.5,397.2 1377.0,397.1 1377.5,397.1 1378.0,397.0 1378.5,396.8 1379.0,396.7 1379.5,396.9 1380.0,396.8 1380.5,396.8 1381.0,396.9 1381.5,396.8 1382.0,397.3 1382.5,397.4 1383.0,397.5 1383.5,397.1 1384.0,396.8 1384.5,396.2 1385.0,396.4 1385.5,396.4 1386.0,396.6 1386.5,396.8 1387.0,396.7 1387.5,396.7 1388.0,396.8 1388.5,396.9 1389.0,397.1 1389.5,397.3 1390.0,397.2 1390.5,397.1 1391.0,397.0 1391.5,397.1 1392.0,397.1 1392.5,397.1 1393.0,397.0 1393.5,396.9 1394.0,397.0 1394.5,397.1 1395.0,397.3 1395.5,397.3 1396.0,397.2 1396.5,397.3 1397.0,397.2 1397.5,397.2 1398.0,397.2 1398.5,397.1 1399.0,397.2 1399.5,397.2 1400.0,397.1 1400.5,396.9 1401.0,396.7 1401.5,397.1 1402.0,397.0 1402.5,397.1 1403.0,397.0 1403.5,397.1 1404.0,397.4 1404.5,397.1 1405.0,397.2 1405.5,397.2 1406.0,397.4 1406.5,397.3 1407.0,397.1 1407.5,396.9 1408.0,396.8 1408.5,396.9 1409.0,396.9 1409.5,397.0 1410.0,396.9 1410.5,396.9 1411.0,396.9 1411.5,397.0 1412.0,397.0 1412.5,397.0 1413.0,396.9 1413.5,396.9 1414.0,396.7 1414.5,396.8 1415.0,396.7 1415.5,396.8 1416.0,396.7 1416.5,396.9 1417.0,396.6 1417.5,396.8 1418.0,396.7 1418.5,396.4 1419.0,395.9 1419.5,395.7 1420.0,394.8 1420.5,388.1 1421.0,364.8 1421.4,349.2 1421.5,350.0 1422.0,375.0 1422.5,391.4 1423.0,395.1 1423.5,395.9 1424.0,396.4 1424.5,396.6 1425.0,396.6 1425.5,396.7 1426.0,396.9 1426.5,396.8 1427.0,396.8 1427.5,396.9 1428.0,396.9 1428.5,397.0 1429.0,397.1 1429.5,397.2 1430.0,397.2 1430.5,397.2 1431.0,397.3 1431.5,397.2 1432.0,397.3 1432.5,397.2 1433.0,397.1 1433.5,397.0 1434.0,396.7 1434.5,396.6 1435.0,396.6 1435.5,396.9 1436.0,396.8 1436.5,396.9 1437.0,397.0 1437.5,397.0 1438.0,396.9 1438.5,396.7 1439.0,396.8 1439.5,397.0 1440.0,397.1 1440.5,397.0 1441.0,396.8 1441.5,396.7 1442.0,397.0 1442.5,397.1 1443.0,397.2 1443.5,397.1 1444.0,397.0 1444.5,397.1 1445.0,397.2 1445.5,397.2 1446.0,396.9 1446.5,396.9 1447.0,396.9 1447.5,397.0 1448.0,397.1 1448.5,397.1 1449.0,397.2 1449.5,397.2 1450.0,397.1 1450.5,396.9 1451.0,397.0 1451.5,396.8 1452.0,396.9 1452.5,397.1 1453.0,397.0 1453.5,397.0 1454.0,396.9 1454.5,397.0 1455.0,397.2 1455.5,397.2 1456.0,397.0 1456.5,396.9 1457.0,396.8 1457.5,396.8 1458.0,396.7 1458.5,397.0 1459.0,396.9 1459.5,397.0 1460.0,396.8 1460.5,396.8 1461.0,397.1 1461.5,397.0 1462.0,397.1 1462.5,397.1 1463.0,397.2 1463.5,397.2 1464.0,397.2 1464.5,397.0 1465.0,396.9 1465.5,397.0 1466.0,397.0 1466.5,396.6 1467.0,396.6 1467.5,396.8 1468.0,397.1 1468.5,397.1 1469.0,396.9 1469.5,396.6 1470.0,395.2 1470.5,392.3 1471.0,390.0 1471.0,390.3 1471.5,392.8 1472.0,395.8 1472.5,396.7 1473.0,396.9 1473.5,396.9 1474.0,396.8 1474.5,396.8 1475.0,396.7 1475.5,397.0 1476.0,397.0 1476.5,397.0 1477.0,396.8 1477.5,397.0 1478.0,397.0 1478.5,397.0 1479.0,397.0 1479.5,397.0 1480.0,397.1 1480.5,397.0 1481.0,396.8 1481.5,396.6 1482.0,396.6 1482.5,396.8 1483.0,396.9 1483.5,397.0 1484.0,397.0 1484.5,397.2 1485.0,397.3 1485.5,397.5 1486.0,397.4 1486.5,397.3 1487.0,397.3 1487.5,397.1 1488.0,397.2 1488.5,397.2 1489.0,397.1 1489.5,397.1 1490.0,396.9 1490.5,397.0 1491.0,397.1 1491.5,397.3 1492.0,397.2 1492.5,397.2 1493.0,397.2 1493.5,397.1 1494.0,396.9 1494.5,396.8 1495.0,396.9 1495.5,396.9 1496.0,396.8 1496.5,396.4 1497.0,396.4 1497.5,396.6 1498.0,396.8 1498.5,397.0 1499.0,397.0 1499.5,397.0 1500.0,397.1 1500.5,397.2 1501.0,397.2 1501.5,397.1 1502.0,397.1 1502.5,397.3 1503.0,397.1 1503.5,396.9 1504.0,397.0 1504.5,397.0 1505.0,397.2 1505.5,397.1 1506.0,397.3 1506.5,397.2 1507.0,397.0 1507.5,396.7 1508.0,397.0 1508.5,397.1 1509.0,396.9 1509.5,396.8 1510.0,396.8 1510.5,397.1 1511.0,397.2 1511.5,396.9 1512.0,396.5 1512.5,395.8 1513.0,393.0 1513.5,387.1 1513.9,384.2 1514.0,384.5 1514.5,390.2 1515.0,394.9 1515.5,396.4 1516.0,396.8 1516.5,396.5 1517.0,396.4 1517.5,396.2 1518.0,396.6 1518.5,396.7 1519.0,397.1 1519.5,397.2 1520.0,397.3 1520.5,397.2 1521.0,397.3 1521.5,397.2 1522.0,397.1 1522.5,397.0 1523.0,396.9 1523.5,396.9 1524.0,396.8 1524.5,396.7 1525.0,396.8 1525.5,396.9 1526.0,396.9 1526.5,397.0 1527.0,396.9 1527.5,396.9 1528.0,396.7 1528.5,396.6 1529.0,396.7 1529.5,397.1 1530.0,397.3 1530.5,397.2 1531.0,397.0 1531.5,396.9 1532.0,396.9 1532.5,396.9 1533.0,396.8 1533.5,396.9 1534.0,396.8 1534.5,396.9 1535.0,397.1 1535.5,397.1 1536.0,397.3 1536.5,397.4 1537.0,397.6 1537.5,397.5 1538.0,397.2 1538.5,397.1 1539.0,397.1 1539.5,397.2 1540.0,397.2 1540.5,397.3 1541.0,397.4 1541.5,397.4 1542.0,397.2 1542.5,397.1 1543.0,397.1 1543.5,397.0 1544.0,396.8 1544.5,396.7 1545.0,396.8 1545.5,396.7 1546.0,396.5 1546.5,396.8 1547.0,396.8 1547.5,397.2 1548.0,397.0 1548.5,397.1 1549.0,397.1 1549.5,396.8 1550.0,396.4 1550.5,395.8 1551.0,395.1 1551.4,394.9 1551.5,395.2 1552.0,395.9 1552.5,396.6 1553.0,396.8 1553.5,396.9 1554.0,396.9 1554.5,396.7 1555.0,396.6 1555.5,396.4 1556.0,396.5 1556.5,397.0 1557.0,397.3 1557.5,397.4 1558.0,397.3 1558.5,397.2 1559.0,397.3 1559.5,397.2 1560.0,397.1 1560.5,397.0 1561.0,397.0 1561.5,397.0 1562.0,396.8 1562.5,396.8 1563.0,396.8 1563.5,396.9 1564.0,397.1 1564.5,397.0 1565.0,397.0 1565.5,396.8 1566.0,396.8 1566.5,397.0 1567.0,396.9 1567.5,397.0 1568.0,396.9 1568.5,397.0 1569.0,397.2 1569.5,397.3 1570.0,397.2 1570.5,397.1 1571.0,397.2 1571.5,397.1 1572.0,397.2 1572.5,397.2 1573.0,397.2 1573.5,397.4 1574.0,397.3 1574.5,397.5 1575.0,397.6 1575.5,397.4 1576.0,397.1 1576.5,396.9 1577.0,396.8 1577.5,396.6 1578.0,396.5 1578.5,396.5 1579.0,396.6 1579.5,396.8 1580.0,396.9 1580.5,396.8 1581.0,396.8 1581.5,396.9 1582.0,397.0 1582.5,397.2 1583.0,397.0 1583.5,397.0 1584.0,397.0 1584.5,396.9 1585.0,396.7 1585.5,396.5 1586.0,396.3 1586.5,395.6 1587.0,393.0 1587.5,387.5 1588.0,383.9 1588.0,383.8 1588.5,387.9 1589.0,393.5 1589.5,395.8 1590.0,396.3 1590.5,396.3 1591.0,396.5 1591.5,396.9 1592.0,397.0 1592.5,397.2 1593.0,397.0 1593.5,397.0 1594.0,396.7 1594.5,396.8 1595.0,397.0 1595.5,397.3 1596.0,397.3 1596.5,397.1 1597.0,397.2 1597.5,397.1 1598.0,397.0 1598.5,396.8 1599.0,396.9 1599.5,396.9 1600.0,397.0 1600.5,397.0 1601.0,397.0 1601.5,396.9 1602.0,397.0 1602.5,396.9 1603.0,397.1 1603.5,396.9 1604.0,396.9 1604.5,396.7 1605.0,396.8 1605.5,396.7 1606.0,396.7 1606.5,396.9 1607.0,397.0 1607.5,397.1 1608.0,397.1 1608.5,397.3 1609.0,397.2 1609.5,397.2 1610.0,397.3 1610.5,397.2 1611.0,397.2 1611.5,396.8 1612.0,396.7 1612.5,396.7 1613.0,397.1 1613.5,397.3 1614.0,397.2 1614.5,397.3 1615.0,397.2 1615.5,397.2 1616.0,397.1 1616.5,396.9 1617.0,396.8 1617.5,396.7 1618.0,396.8 1618.5,397.1 1619.0,397.0 1619.5,397.3 1620.0,397.2 1620.5,397.3 1621.0,397.2 1621.5,397.0 1622.0,397.1 1622.5,397.2 1623.0,397.2 1623.5,397.1 1624.0,397.0 1624.5,397.2 1625.0,397.3 1625.5,397.2 1626.0,397.3 1626.5,397.1 1627.0,396.9 1627.5,397.0 1628.0,397.2 1628.5,397.3 1629.0,397.3 1629.5,397.2 1630.0,396.9 1630.5,396.7 1631.0,396.8 1631.5,397.0 1632.0,397.2 1632.5,397.2 1633.0,397.4 1633.5,397.3 1634.0,397.3 1634.5,397.3 1635.0,397.3 1635.5,397.3 1636.0,397.4 1636.5,397.4 1637.0,397.3 1637.5,397.2 1638.0,397.2 1638.5,397.0 1639.0,397.1 1639.5,397.1 1640.0,397.2 1640.5,397.2 1641.0,397.2 1641.5,396.9 1642.0,396.9 1642.5,396.9 1643.0,396.9 1643.5,397.0 1644.0,397.0 1644.5,397.0 1645.0,397.1 1645.5,397.1 1646.0,397.2 1646.5,397.0 1647.0,397.1 1647.5,396.8 1648.0,396.7 1648.5,396.8 1649.0,397.0 1649.5,397.1 1650.0,397.2 1650.5,397.2 1651.0,397.1 1651.5,396.7 1652.0,395.8 1652.5,394.1 1653.0,391.9 1653.2,391.6 1653.5,391.9 1654.0,394.1 1654.5,395.8 1655.0,396.6 1655.5,396.7 1656.0,396.8 1656.5,397.1 1657.0,397.0 1657.5,397.0 1658.0,397.0 1658.5,397.2 1659.0,397.2 1659.5,397.3 1660.0,397.1 1660.5,397.1 1661.0,397.2 1661.5,397.3 1662.0,397.2 1662.5,397.1 1663.0,397.0 1663.5,397.1 1664.0,397.3 1664.5,397.5 1665.0,397.5 1665.5,397.2 1666.0,397.0 1666.5,397.2 1667.0,397.1 1667.5,397.0 1668.0,396.8 1668.5,396.7 1669.0,396.7 1669.5,396.9 1670.0,396.9 1670.5,396.9 1671.0,396.9 1671.5,396.7 1672.0,396.8 1672.5,396.7 1673.0,397.0 1673.5,396.9 1674.0,397.2 1674.5,397.3 1675.0,397.6 1675.5,397.4 1676.0,397.1 1676.5,397.2 1677.0,397.1 1677.5,397.2 1678.0,396.9 1678.5,396.9 1679.0,396.9 1679.5,396.9 1680.0,396.8 1680.5,396.8 1681.0,397.0 1681.5,397.2 1682.0,397.1 1682.5,396.9 1683.0,396.9 1683.5,397.0 1684.0,396.9 1684.5,397.0 1685.0,397.1 1685.5,397.3 1686.0,397.3 1686.5,397.1 1687.0,396.9 1687.5,396.8 1688.0,396.7 1688.5,396.9 1689.0,397.0 1689.5,397.2 1690.0,397.3 1690.5,397.4 1691.0,397.5 1691.5,397.4 1692.0,397.0 1692.5,396.9 1693.0,396.8 1693.5,396.9 1694.0,396.9 1694.5,396.9 1695.0,396.9 1695.5,397.1 1696.0,397.0 1696.5,397.0 1697.0,396.8 1697.5,396.5 1698.0,396.7 1698.5,396.6 1699.0,396.9 1699.5,396.9 1700.0,397.0 1700.5,397.0 1701.0,397.2 1701.5,397.3 1702.0,397.3 1702.5,397.4 1703.0,397.3 1703.5,397.2 1704.0,397.3 1704.5,397.3 1705.0,397.3 1705.5,397.2 1706.0,397.1 1706.5,397.0 1707.0,396.9 1707.5,396.8 1708.0,397.1 1708.5,397.3 1709.0,397.2 1709.5,397.1 1710.0,397.1 1710.5,397.1 1711.0,396.9 1711.5,397.0 1712.0,396.9 1712.5,396.8 1713.0,395.8 1713.5,394.5 1714.0,393.3 1714.2,393.4 1714.5,393.9 1715.0,395.0 1715.5,396.2 1716.0,396.7 1716.5,397.1 1717.0,397.1 1717.5,397.1 1718.0,397.1 1718.5,397.2 1719.0,397.2 1719.5,397.2 1720.0,397.2 1720.5,397.2 1721.0,397.3 1721.5,397.4 1722.0,397.1 1722.5,396.8 1723.0,396.8 1723.5,396.8 1724.0,397.0 1724.5,397.1 1725.0,397.2 1725.5,396.9 1726.0,396.8 1726.5,396.8 1727.0,396.8 1727.5,396.9 1728.0,397.0 1728.5,397.0 1729.0,397.0 1729.5,397.1 1730.0,397.2 1730.5,397.2 1731.0,397.2 1731.5,397.3 1732.0,397.6 1732.5,397.4 1733.0,397.3 1733.5,396.8 1734.0,396.8 1734.5,396.9 1735.0,397.2 1735.5,397.3 1736.0,397.2 1736.5,397.2 1737.0,397.1 1737.5,397.0 1738.0,396.9 1738.5,397.0 1739.0,397.3 1739.5,397.5 1740.0,397.3 1740.5,397.1 1741.0,396.7 1741.5,396.4 1742.0,396.1 1742.5,395.8 1743.0,395.6 1743.0,395.6 1743.5,396.0 1744.0,396.4 1744.5,396.7 1745.0,397.0 1745.5,397.1 1746.0,397.2 1746.5,397.1 1747.0,397.1 1747.5,396.9 1748.0,396.9 1748.5,396.7 1749.0,396.8 1749.5,397.0 1750.0,396.9 1750.5,396.9 1751.0,396.7 1751.5,396.8 1752.0,396.9 1752.5,396.9 1753.0,397.0 1753.5,397.0 1754.0,397.0 1754.5,397.0 1755.0,397.0 1755.5,397.2 1756.0,397.1 1756.5,397.2 1757.0,396.9 1757.5,396.9 1758.0,396.8 1758.5,396.8 1759.0,396.5 1759.5,396.8 1760.0,396.9 1760.5,397.0 1761.0,396.8 1761.5,397.0 1762.0,396.9 1762.5,397.1 1763.0,397.0 1763.5,397.0 1764.0,396.9 1764.5,397.1 1765.0,397.2 1765.5,397.2 1766.0,397.3 1766.5,397.3 1767.0,397.1 1767.5,397.3 1768.0,397.1 1768.5,397.2 1769.0,397.1 1769.5,397.0 1770.0,396.9 1770.5,396.9 1771.0,396.7 1771.5,396.2 1772.0,395.7 1772.5,395.5 1772.5,395.7 1773.0,396.1 1773.5,396.5 1774.0,396.6 1774.5,396.7 1775.0,396.7 1775.5,396.7 1776.0,397.0 1776.5,397.0 1777.0,397.0 1777.5,396.9 1778.0,397.2 1778.5,397.0 1779.0,396.9 1779.5,396.7 1780.0,396.5 1780.5,396.6 1781.0,396.7 1781.5,397.0 1782.0,397.0 1782.5,397.1 1783.0,397.0 1783.5,397.0 1784.0,396.9 1784.5,396.8 1785.0,396.6 1785.5,396.7 1786.0,396.9 1786.5,397.1 1787.0,396.9 1787.5,396.9 1788.0,396.9 1788.5,397.0 1789.0,397.0 1789.5,397.1 1790.0,397.0 1790.5,397.2 1791.0,397.3 1791.5,397.2 1792.0,397.3 1792.5,397.1 1793.0,397.0 1793.5,397.1 1794.0,397.0 1794.5,397.0 1795.0,396.9 1795.5,397.0 1796.0,397.2 1796.5,397.3 1797.0,397.4 1797.5,397.3 1798.0,397.1 1798.5,396.8 1799.0,396.8 1799.5,397.0 1800.0,396.9 1800.5,397.0 1801.0,396.9 1801.5,396.9 1802.0,396.9 1802.5,397.0 1803.0,397.1 1803.5,397.1 1804.0,397.2 1804.5,397.1 1805.0,397.1 1805.5,397.2 1806.0,397.1 1806.5,397.0 1807.0,396.9 1807.5,396.9 1808.0,397.1" fill="none" stroke="#474747" stroke-width="1.9" stroke-linejoin="round"/>
<polygon points="1497.8,106.9 1498.7,109.3 1501.2,109.4 1499.2,111.0 1499.9,113.4 1497.8,112.0 1495.7,113.4 1496.4,111.0 1494.4,109.4 1496.9,109.3" fill="#111"/>
<polygon points="1534.6,110.1 1535.5,112.5 1538.1,112.6 1536.1,114.2 1536.8,116.6 1534.6,115.2 1532.5,116.6 1533.2,114.2 1531.2,112.6 1533.8,112.5" fill="#111"/>
<polygon points="1581.5,105.4 1582.4,107.8 1585.0,107.9 1583.0,109.5 1583.7,111.9 1581.5,110.5 1579.4,111.9 1580.1,109.5 1578.1,107.9 1580.7,107.8" fill="#111"/>
<polygon points="1608.3,112.1 1609.2,114.5 1611.8,114.6 1609.8,116.2 1610.5,118.6 1608.3,117.2 1606.2,118.6 1606.9,116.2 1604.9,114.6 1607.5,114.5" fill="#111"/>
<polygon points="1627.1,110.9 1628.0,113.3 1630.5,113.4 1628.5,115.0 1629.2,117.4 1627.1,116.0 1625.0,117.4 1625.7,115.0 1623.7,113.4 1626.2,113.3" fill="#111"/>
<polygon points="1675.3,110.9 1676.2,113.3 1678.8,113.4 1676.8,115.0 1677.5,117.4 1675.3,116.0 1673.2,117.4 1673.9,115.0 1671.9,113.4 1674.5,113.3" fill="#111"/>
<rect x="1339" y="64.5" width="469" height="345" fill="none" stroke="#111" stroke-width="1.8"/>
<path d="M1339 409.5V416M1372.5 409.5V413.3M1406 409.5V416M1439.5 409.5V413.3M1473 409.5V416M1506.5 409.5V413.3M1540 409.5V416M1573.5 409.5V413.3M1607 409.5V416M1640.5 409.5V413.3M1674 409.5V416M1707.5 409.5V413.3M1741 409.5V416M1774.5 409.5V413.3M1808 409.5V416" stroke="#111" stroke-width="1.5" fill="none"/>
<g font-family="'Liberation Sans', Arial, sans-serif" font-size="18.2" text-anchor="middle">
<text x="1339" y="435">20</text>
<text x="1406" y="435">30</text>
<text x="1473" y="435">40</text>
<text x="1540" y="435">50</text>
<text x="1607" y="435">60</text>
<text x="1674" y="435">70</text>
<text x="1741" y="435">80</text>
<text x="1808" y="435">90</text>
</g>
<text x="1573.6" y="468" font-family="'Liberation Sans', Arial, sans-serif" font-size="17.5" text-anchor="middle">2<tspan font-style="italic">&#952;</tspan> (degree)</text>
<text transform="translate(1315,235.3) rotate(-90)" font-family="'Liberation Sans', Arial, sans-serif" font-size="17.5" text-anchor="middle">Intensity (a.u.)</text>
<g font-family="'Liberation Sans', Arial, sans-serif" font-size="18">
<text x="1691" y="110" fill="#969636">SrCo<tspan font-size="12.3" dy="5">0.6</tspan><tspan dy="-5">Ni</tspan><tspan font-size="12.3" dy="5">0.4</tspan><tspan dy="-5">O</tspan><tspan font-size="12.3" dy="5">3</tspan></text>
<text x="1691" y="165" fill="#cca840">SrCoO<tspan font-size="12.3" dy="5">3</tspan></text>
<text x="1691" y="224.2" fill="#55a880">RSCF1973</text>
<text x="1691" y="277.2" fill="#4a70b8">CSCF1946</text>
<text x="1691" y="330.8" fill="#d85560">BSCF1991</text>
<text x="1691" y="387.5" fill="#5a5a5a">BSCF5582</text>
</g>
<clipPath id="lc"><rect x="1341.7" y="479.8" width="470.1" height="377.5"/></clipPath>
<path d="M1343.7 821.5H1811.8" stroke="#111" stroke-width="2" stroke-dasharray="7.1 7.7"/>
<g clip-path="url(#lc)" fill="none" stroke-width="3.4" stroke-linejoin="round" stroke-linecap="round">
<polyline points="1341.7,844.8 1511.6,844.8 1512.0,844.8 1512.3,844.8 1512.7,844.8 1513.0,844.8 1513.4,844.8 1513.7,844.8 1514.1,844.8 1514.4,844.8 1514.8,844.8 1515.1,844.8 1515.4,844.8 1515.8,844.8 1516.1,844.8 1516.5,844.8 1516.8,844.8 1517.2,844.8 1517.5,844.8 1517.9,844.8 1518.2,844.8 1518.6,844.8 1518.9,844.8 1519.3,844.8 1519.6,844.8 1520.0,844.8 1520.3,844.8 1520.7,844.8 1521.0,844.8 1521.4,844.8 1521.7,844.8 1522.1,844.8 1522.4,844.8 1522.8,844.8 1523.1,844.8 1523.4,844.8 1523.8,844.8 1524.1,844.8 1524.5,844.8 1524.8,844.8 1525.2,844.8 1525.5,844.8 1525.9,844.8 1526.2,844.8 1526.6,844.8 1526.9,844.8 1527.3,844.8 1527.6,844.8 1528.0,844.8 1528.3,844.8 1528.7,844.8 1529.0,844.8 1529.4,844.8 1529.7,844.8 1530.1,844.8 1530.4,844.8 1530.8,844.8 1531.1,844.8 1531.5,844.8 1531.8,844.8 1532.1,844.8 1532.5,844.8 1532.8,844.8 1533.2,844.8 1533.5,844.8 1533.9,844.8 1534.2,844.8 1534.6,844.8 1534.9,844.8 1535.3,844.8 1535.6,844.8 1536.0,844.8 1536.3,844.8 1536.7,844.8 1537.0,844.8 1537.4,844.8 1537.7,844.8 1538.1,844.8 1538.4,844.8 1538.8,844.8 1539.1,844.8 1539.5,844.8 1539.8,844.8 1540.2,844.8 1540.5,844.8 1540.9,844.8 1541.2,844.8 1541.5,844.8 1541.9,844.8 1542.2,844.8 1542.6,844.8 1542.9,844.8 1543.3,844.8 1543.6,844.8 1544.0,844.8 1544.3,844.8 1544.7,844.8 1545.0,844.8 1545.4,844.8 1545.7,844.8 1546.1,844.8 1546.4,844.8 1546.8,844.8 1547.1,844.8 1547.5,844.8 1547.8,844.8 1548.2,844.8 1548.5,844.8 1548.9,844.8 1549.2,844.8 1549.6,844.8 1549.9,844.8 1550.2,844.8 1550.6,844.8 1550.9,844.8 1551.3,844.8 1551.6,844.8 1552.0,844.8 1552.3,844.8 1552.7,844.8 1553.0,844.8 1553.4,844.8 1553.7,844.8 1554.1,844.8 1554.4,844.8 1554.8,844.8 1555.1,844.8 1555.5,844.8 1555.8,844.8 1556.2,844.8 1556.5,844.8 1556.9,844.8 1557.2,844.8 1557.6,844.8 1557.9,844.8 1558.3,844.8 1558.6,844.8 1559.0,844.8 1559.3,844.8 1559.7,844.8 1560.0,844.8 1560.3,844.8 1560.7,844.8 1561.0,844.8 1561.4,844.8 1561.7,844.8 1562.1,844.8 1562.4,844.8 1562.8,844.8 1563.1,844.8 1563.5,844.8 1563.8,844.8 1564.2,844.8 1564.5,844.8 1564.9,844.8 1565.2,844.8 1565.6,844.8 1565.9,844.8 1566.3,844.8 1566.6,844.8 1567.0,844.8 1567.3,844.8 1567.7,844.8 1568.0,844.8 1568.4,844.8 1568.7,844.8 1569.1,844.8 1569.4,844.8 1569.8,844.8 1570.1,844.8 1570.5,844.8 1570.8,844.8 1571.1,844.8 1571.5,844.8 1571.8,844.8 1572.2,844.7 1572.5,844.7 1572.9,844.7 1573.2,844.7 1573.6,844.7 1573.9,844.7 1574.3,844.7 1574.6,844.7 1575.0,844.7 1575.3,844.7 1575.7,844.7 1576.0,844.7 1576.4,844.7 1576.7,844.7 1577.1,844.7 1577.4,844.7 1577.8,844.7 1578.1,844.7 1578.5,844.7 1578.8,844.7 1579.2,844.7 1579.5,844.7 1579.9,844.7 1580.2,844.7 1580.6,844.7 1580.9,844.7 1581.3,844.7 1581.6,844.7 1582.0,844.7 1582.3,844.7 1582.7,844.7 1583.0,844.7 1583.4,844.7 1583.7,844.7 1584.1,844.7 1584.4,844.7 1584.8,844.7 1585.1,844.7 1585.5,844.7 1585.8,844.7 1586.1,844.7 1586.5,844.7 1586.8,844.7 1587.2,844.7 1587.5,844.7 1587.9,844.7 1588.2,844.7 1588.6,844.7 1588.9,844.7 1589.3,844.7 1589.6,844.7 1590.0,844.7 1590.3,844.7 1590.7,844.7 1591.0,844.7 1591.4,844.7 1591.7,844.7 1592.1,844.7 1592.4,844.7 1592.8,844.7 1593.1,844.7 1593.5,844.7 1593.8,844.7 1594.2,844.6 1594.5,844.6 1594.9,844.6 1595.2,844.6 1595.6,844.6 1595.9,844.6 1596.3,844.6 1596.6,844.6 1597.0,844.6 1597.3,844.6 1597.7,844.6 1598.0,844.6 1598.4,844.6 1598.7,844.6 1599.1,844.6 1599.4,844.6 1599.8,844.6 1600.1,844.6 1600.5,844.6 1600.8,844.6 1601.2,844.6 1601.5,844.6 1601.9,844.6 1602.2,844.6 1602.6,844.6 1602.9,844.6 1603.3,844.6 1603.6,844.6 1604.0,844.6 1604.4,844.5 1604.7,844.5 1605.1,844.5 1605.4,844.5 1605.8,844.5 1606.1,844.5 1606.5,844.5 1606.8,844.5 1607.2,844.5 1607.5,844.5 1607.9,844.5 1608.2,844.5 1608.6,844.5 1608.9,844.5 1609.3,844.5 1609.6,844.5 1610.0,844.5 1610.3,844.5 1610.7,844.5 1611.0,844.4 1611.4,844.4 1611.7,844.4 1612.1,844.4 1612.4,844.4 1612.8,844.4 1613.2,844.4 1613.5,844.4 1613.9,844.4 1614.2,844.4 1614.6,844.4 1614.9,844.4 1615.3,844.4 1615.6,844.4 1616.0,844.4 1616.3,844.3 1616.7,844.3 1617.0,844.3 1617.4,844.3 1617.7,844.3 1618.1,844.3 1618.5,844.3 1618.8,844.3 1619.2,844.3 1619.5,844.3 1619.9,844.3 1620.2,844.2 1620.6,844.2 1620.9,844.2 1621.3,844.2 1621.7,844.2 1622.0,844.2 1622.4,844.2 1622.7,844.2 1623.1,844.2 1623.4,844.2 1623.8,844.1 1624.1,844.1 1624.5,844.1 1624.9,844.1 1625.2,844.1 1625.6,844.1 1625.9,844.1 1626.3,844.1 1626.6,844.0 1627.0,844.0 1627.4,844.0 1627.7,844.0 1628.1,844.0 1628.4,844.0 1628.8,844.0 1629.2,843.9 1629.5,843.9 1629.9,843.9 1630.2,843.9 1630.6,843.9 1630.9,843.9 1631.3,843.8 1631.7,843.8 1632.0,843.8 1632.4,843.8 1632.7,843.8 1633.1,843.8 1633.5,843.7 1633.8,843.7 1634.2,843.7 1634.6,843.7 1634.9,843.7 1635.3,843.6 1635.6,843.6 1636.0,843.6 1636.4,843.6 1636.7,843.6 1637.1,843.5 1637.5,843.5 1637.8,843.5 1638.2,843.5 1638.6,843.5 1638.9,843.4 1639.3,843.4 1639.7,843.4 1640.0,843.4 1640.4,843.3 1640.8,843.3 1641.1,843.3 1641.5,843.2 1641.9,843.2 1642.2,843.2 1642.6,843.2 1643.0,843.1 1643.3,843.1 1643.7,843.1 1644.1,843.0 1644.4,843.0 1644.8,843.0 1645.2,843.0 1645.6,842.9 1645.9,842.9 1646.3,842.9 1646.7,842.8 1647.0,842.8 1647.4,842.8 1647.8,842.7 1648.2,842.7 1648.5,842.6 1648.9,842.6 1649.3,842.6 1649.7,842.5 1650.1,842.5 1650.4,842.4 1650.8,842.4 1651.2,842.4 1651.6,842.3 1651.9,842.3 1652.3,842.2 1652.7,842.2 1653.1,842.1 1653.5,842.1 1653.9,842.0 1654.2,842.0 1654.6,841.9 1655.0,841.9 1655.4,841.8 1655.8,841.8 1656.2,841.7 1656.6,841.7 1656.9,841.6 1657.3,841.6 1657.7,841.5 1658.1,841.5 1658.5,841.4 1658.9,841.3 1659.3,841.3 1659.7,841.2 1660.1,841.2 1660.5,841.1 1660.9,841.0 1661.3,841.0 1661.7,840.9 1662.1,840.8 1662.5,840.8 1662.9,840.7 1663.3,840.6 1663.7,840.5 1664.1,840.5 1664.5,840.4 1664.9,840.3 1665.3,840.2 1665.7,840.1 1666.1,840.1 1666.5,840.0 1666.9,839.9 1667.3,839.8 1667.7,839.7 1668.2,839.6 1668.6,839.5 1669.0,839.4 1669.4,839.4 1669.8,839.3 1670.2,839.2 1670.7,839.1 1671.1,839.0 1671.5,838.9 1671.9,838.8 1672.4,838.6 1672.8,838.5 1673.2,838.4 1673.6,838.3 1674.1,838.2 1674.5,838.1 1674.9,838.0 1675.4,837.8 1675.8,837.7 1676.3,837.6 1676.7,837.5 1677.1,837.3 1677.6,837.2 1678.0,837.1 1678.5,836.9 1678.9,836.8 1679.4,836.7 1679.8,836.5 1680.3,836.4 1680.7,836.2 1681.2,836.1 1681.7,835.9 1682.1,835.8 1682.6,835.6 1683.1,835.4 1683.5,835.3 1684.0,835.1 1684.5,834.9 1684.9,834.8 1685.4,834.6 1685.9,834.4 1686.4,834.2 1686.9,834.0 1687.4,833.9 1687.8,833.7 1688.3,833.5 1688.8,833.3 1689.3,833.1 1689.8,832.9 1690.3,832.6 1690.8,832.4 1691.3,832.2 1691.9,832.0 1692.4,831.8 1692.9,831.5 1693.4,831.3 1693.9,831.1 1694.5,830.8 1695.0,830.6 1695.5,830.3 1696.0,830.1 1696.6,829.8 1697.1,829.6 1697.7,829.3 1698.2,829.0 1698.8,828.7 1699.3,828.5 1699.9,828.2 1700.4,827.9 1701.0,827.6 1701.6,827.3 1702.2,827.0 1702.7,826.6 1703.3,826.3 1703.9,826.0 1704.5,825.7 1705.1,825.3 1705.7,825.0 1706.3,824.6 1706.9,824.3 1707.5,823.9 1708.1,823.6 1708.8,823.2 1709.4,822.8 1710.0,822.4 1710.7,822.0 1711.3,821.6 1711.9,821.2 1712.6,820.8 1713.3,820.4 1713.9,820.0 1714.6,819.5 1715.3,819.1 1715.9,818.6 1716.6,818.2 1717.3,817.7 1718.0,817.2 1718.7,816.7 1719.4,816.2 1720.2,815.7 1720.9,815.2 1721.6,814.7 1722.3,814.2 1723.1,813.6 1723.8,813.1 1724.6,812.5 1725.4,811.9 1726.1,811.4 1726.9,810.8 1727.7,810.2 1728.5,809.6 1729.3,809.0 1730.1,808.3 1730.9,807.7 1731.8,807.0 1732.6,806.4 1733.4,805.7 1734.3,805.0 1735.2,804.3 1736.0,803.6 1736.9,802.9 1737.8,802.1 1738.7,801.4 1739.6,800.6 1740.5,799.8 1741.5,799.0 1742.4,798.2 1743.3,797.4 1744.3,796.6 1745.3,795.7 1746.3,794.9 1747.3,794.0 1748.3,793.1 1749.3,792.2 1750.3,791.3 1751.3,790.3 1752.4,789.4 1753.5,788.4 1754.5,787.4 1755.6,786.4 1756.7,785.3 1757.8,784.3 1759.0,783.2 1760.1,782.1 1761.3,781.0 1762.5,779.9 1763.6,778.8 1764.8,777.6 1766.1,776.4 1767.3,775.2 1768.5,774.0 1769.8,772.8 1771.1,771.5 1772.4,770.2 1773.7,768.9 1775.0,767.6 1776.4,766.2 1777.7,764.8 1779.1,763.4 1780.5,762.0 1781.9,760.5" stroke="#4f4f4f"/>
<polyline points="1341.7,846.0 1595.8,846.0 1596.1,846.0 1596.3,846.0 1596.5,846.0 1596.7,846.0 1596.9,846.0 1597.1,846.0 1597.4,846.0 1597.6,846.0 1597.8,846.0 1598.0,846.0 1598.2,846.0 1598.4,846.0 1598.6,846.0 1598.9,846.0 1599.1,846.0 1599.3,846.0 1599.5,846.0 1599.7,846.0 1599.9,846.0 1600.2,846.0 1600.4,846.0 1600.6,846.0 1600.8,846.0 1601.0,846.0 1601.2,846.0 1601.4,846.0 1601.7,846.0 1601.9,846.0 1602.1,846.0 1602.3,846.0 1602.5,846.0 1602.7,846.0 1603.0,846.0 1603.2,846.0 1603.4,846.0 1603.6,846.0 1603.8,846.0 1604.0,846.0 1604.2,846.0 1604.5,846.0 1604.7,846.0 1604.9,846.0 1605.1,846.0 1605.3,846.0 1605.5,846.0 1605.8,846.0 1606.0,846.0 1606.2,846.0 1606.4,846.0 1606.6,846.0 1606.8,846.0 1607.1,846.0 1607.3,846.0 1607.5,846.0 1607.7,846.0 1607.9,846.0 1608.1,846.0 1608.3,846.0 1608.6,846.0 1608.8,846.0 1609.0,846.0 1609.2,846.0 1609.4,846.0 1609.6,846.0 1609.9,846.0 1610.1,846.0 1610.3,846.0 1610.5,846.0 1610.7,846.0 1610.9,846.0 1611.1,846.0 1611.4,846.0 1611.6,846.0 1611.8,846.0 1612.0,846.0 1612.2,846.0 1612.4,846.0 1612.7,846.0 1612.9,846.0 1613.1,846.0 1613.3,846.0 1613.5,846.0 1613.7,846.0 1613.9,846.0 1614.2,846.0 1614.4,846.0 1614.6,846.0 1614.8,846.0 1615.0,846.0 1615.2,846.0 1615.5,846.0 1615.7,846.0 1615.9,846.0 1616.1,846.0 1616.3,846.0 1616.5,846.0 1616.8,846.0 1617.0,846.0 1617.2,846.0 1617.4,846.0 1617.6,846.0 1617.8,846.0 1618.0,846.0 1618.3,846.0 1618.5,846.0 1618.7,846.0 1618.9,846.0 1619.1,846.0 1619.3,846.0 1619.6,846.0 1619.8,846.0 1620.0,846.0 1620.2,846.0 1620.4,846.0 1620.6,846.0 1620.8,846.0 1621.1,846.0 1621.3,846.0 1621.5,846.0 1621.7,846.0 1621.9,846.0 1622.1,846.0 1622.4,846.0 1622.6,846.0 1622.8,846.0 1623.0,846.0 1623.2,846.0 1623.4,846.0 1623.7,846.0 1623.9,846.0 1624.1,846.0 1624.3,846.0 1624.5,846.0 1624.7,846.0 1624.9,846.0 1625.2,846.0 1625.4,846.0 1625.6,846.0 1625.8,846.0 1626.0,846.0 1626.2,846.0 1626.5,846.0 1626.7,846.0 1626.9,846.0 1627.1,846.0 1627.3,846.0 1627.5,846.0 1627.8,846.0 1628.0,846.0 1628.2,846.0 1628.4,846.0 1628.6,846.0 1628.8,846.0 1629.1,846.0 1629.3,846.0 1629.5,846.0 1629.7,846.0 1629.9,846.0 1630.1,846.0 1630.3,846.0 1630.6,846.0 1630.8,846.0 1631.0,846.0 1631.2,846.0 1631.4,846.0 1631.6,846.0 1631.9,846.0 1632.1,846.0 1632.3,846.0 1632.5,846.0 1632.7,846.0 1632.9,846.0 1633.2,846.0 1633.4,846.0 1633.6,846.0 1633.8,846.0 1634.0,846.0 1634.2,846.0 1634.5,846.0 1634.7,846.0 1634.9,846.0 1635.1,846.0 1635.3,846.0 1635.5,846.0 1635.7,846.0 1636.0,846.0 1636.2,846.0 1636.4,846.0 1636.6,846.0 1636.8,846.0 1637.0,846.0 1637.3,846.0 1637.5,846.0 1637.7,845.9 1637.9,845.9 1638.1,845.9 1638.3,845.9 1638.6,845.9 1638.8,845.9 1639.0,845.9 1639.2,845.9 1639.4,845.9 1639.6,845.9 1639.9,845.9 1640.1,845.9 1640.3,845.9 1640.5,845.9 1640.7,845.9 1640.9,845.9 1641.2,845.9 1641.4,845.9 1641.6,845.9 1641.8,845.9 1642.0,845.9 1642.2,845.9 1642.5,845.9 1642.7,845.9 1642.9,845.9 1643.1,845.9 1643.3,845.9 1643.5,845.9 1643.8,845.9 1644.0,845.9 1644.2,845.9 1644.4,845.9 1644.6,845.9 1644.9,845.9 1645.1,845.9 1645.3,845.9 1645.5,845.9 1645.7,845.9 1645.9,845.9 1646.2,845.9 1646.4,845.9 1646.6,845.9 1646.8,845.9 1647.0,845.9 1647.2,845.9 1647.5,845.9 1647.7,845.9 1647.9,845.9 1648.1,845.9 1648.3,845.9 1648.5,845.9 1648.8,845.9 1649.0,845.9 1649.2,845.8 1649.4,845.8 1649.6,845.8 1649.9,845.8 1650.1,845.8 1650.3,845.8 1650.5,845.8 1650.7,845.8 1650.9,845.8 1651.2,845.8 1651.4,845.8 1651.6,845.8 1651.8,845.8 1652.0,845.8 1652.3,845.8 1652.5,845.8 1652.7,845.8 1652.9,845.8 1653.1,845.8 1653.4,845.8 1653.6,845.8 1653.8,845.8 1654.0,845.8 1654.2,845.8 1654.4,845.8 1654.7,845.8 1654.9,845.8 1655.1,845.7 1655.3,845.7 1655.5,845.7 1655.8,845.7 1656.0,845.7 1656.2,845.7 1656.4,845.7 1656.6,845.7 1656.9,845.7 1657.1,845.7 1657.3,845.7 1657.5,845.7 1657.7,845.7 1658.0,845.7 1658.2,845.7 1658.4,845.7 1658.6,845.7 1658.8,845.7 1659.1,845.7 1659.3,845.6 1659.5,845.6 1659.7,845.6 1660.0,845.6 1660.2,845.6 1660.4,845.6 1660.6,845.6 1660.8,845.6 1661.1,845.6 1661.3,845.6 1661.5,845.6 1661.7,845.6 1661.9,845.6 1662.2,845.6 1662.4,845.5 1662.6,845.5 1662.8,845.5 1663.1,845.5 1663.3,845.5 1663.5,845.5 1663.7,845.5 1664.0,845.5 1664.2,845.5 1664.4,845.5 1664.6,845.5 1664.8,845.5 1665.1,845.4 1665.3,845.4 1665.5,845.4 1665.7,845.4 1666.0,845.4 1666.2,845.4 1666.4,845.4 1666.6,845.4 1666.9,845.4 1667.1,845.3 1667.3,845.3 1667.5,845.3 1667.8,845.3 1668.0,845.3 1668.2,845.3 1668.5,845.3 1668.7,845.3 1668.9,845.2 1669.1,845.2 1669.4,845.2 1669.6,845.2 1669.8,845.2 1670.0,845.2 1670.3,845.2 1670.5,845.2 1670.7,845.1 1671.0,845.1 1671.2,845.1 1671.4,845.1 1671.6,845.1 1671.9,845.1 1672.1,845.0 1672.3,845.0 1672.6,845.0 1672.8,845.0 1673.0,845.0 1673.3,845.0 1673.5,844.9 1673.7,844.9 1674.0,844.9 1674.2,844.9 1674.4,844.9 1674.7,844.8 1674.9,844.8 1675.1,844.8 1675.4,844.8 1675.6,844.8 1675.8,844.7 1676.1,844.7 1676.3,844.7 1676.5,844.7 1676.8,844.6 1677.0,844.6 1677.2,844.6 1677.5,844.6 1677.7,844.6 1677.9,844.5 1678.2,844.5 1678.4,844.5 1678.7,844.4 1678.9,844.4 1679.1,844.4 1679.4,844.4 1679.6,844.3 1679.9,844.3 1680.1,844.3 1680.3,844.2 1680.6,844.2 1680.8,844.2 1681.1,844.2 1681.3,844.1 1681.6,844.1 1681.8,844.1 1682.0,844.0 1682.3,844.0 1682.5,844.0 1682.8,843.9 1683.0,843.9 1683.3,843.8 1683.5,843.8 1683.8,843.8 1684.0,843.7 1684.3,843.7 1684.5,843.7 1684.8,843.6 1685.0,843.6 1685.3,843.5 1685.5,843.5 1685.8,843.4 1686.0,843.4 1686.3,843.4 1686.6,843.3 1686.8,843.3 1687.1,843.2 1687.3,843.2 1687.6,843.1 1687.8,843.1 1688.1,843.0 1688.4,843.0 1688.6,842.9 1688.9,842.9 1689.1,842.8 1689.4,842.8 1689.7,842.7 1689.9,842.6 1690.2,842.6 1690.5,842.5 1690.7,842.5 1691.0,842.4 1691.3,842.3 1691.6,842.3 1691.8,842.2 1692.1,842.2 1692.4,842.1 1692.6,842.0 1692.9,842.0 1693.2,841.9 1693.5,841.8 1693.8,841.7 1694.0,841.7 1694.3,841.6 1694.6,841.5 1694.9,841.4 1695.2,841.4 1695.5,841.3 1695.7,841.2 1696.0,841.1 1696.3,841.0 1696.6,840.9 1696.9,840.9 1697.2,840.8 1697.5,840.7 1697.8,840.6 1698.1,840.5 1698.4,840.4 1698.7,840.3 1699.0,840.2 1699.3,840.1 1699.6,840.0 1699.9,839.9 1700.2,839.8 1700.5,839.7 1700.8,839.6 1701.1,839.5 1701.5,839.4 1701.8,839.3 1702.1,839.1 1702.4,839.0 1702.7,838.9 1703.1,838.8 1703.4,838.7 1703.7,838.5 1704.0,838.4 1704.4,838.3 1704.7,838.1 1705.0,838.0 1705.4,837.9 1705.7,837.7 1706.0,837.6 1706.4,837.4 1706.7,837.3 1707.1,837.1 1707.4,837.0 1707.8,836.8 1708.1,836.7 1708.5,836.5 1708.9,836.4 1709.2,836.2 1709.6,836.0 1709.9,835.8 1710.3,835.7 1710.7,835.5 1711.1,835.3 1711.4,835.1 1711.8,834.9 1712.2,834.8 1712.6,834.6 1713.0,834.4 1713.4,834.2 1713.8,834.0 1714.2,833.8 1714.6,833.5 1715.0,833.3 1715.4,833.1 1715.8,832.9 1716.2,832.7 1716.6,832.4 1717.0,832.2 1717.5,832.0 1717.9,831.7 1718.3,831.5 1718.7,831.2 1719.2,831.0 1719.6,830.7 1720.1,830.5 1720.5,830.2 1721.0,829.9 1721.4,829.7 1721.9,829.4 1722.4,829.1 1722.8,828.8 1723.3,828.5 1723.8,828.2 1724.3,827.9 1724.8,827.6 1725.3,827.3 1725.8,826.9 1726.3,826.6 1726.8,826.3 1727.3,826.0 1727.8,825.6 1728.3,825.3 1728.9,824.9 1729.4,824.5 1729.9,824.2 1730.5,823.8 1731.0,823.4 1731.6,823.0 1732.1,822.6 1732.7,822.2 1733.3,821.8 1733.9,821.4 1734.5,821.0 1735.1,820.6 1735.7,820.1 1736.3,819.7 1736.9,819.3 1737.5,818.9 1738.1,818.4 1738.8,818.0 1739.4,817.5 1740.0,817.0 1740.7,816.6 1741.4,816.1 1742.0,815.6 1742.7,815.1 1743.4,814.6 1744.1,814.1 1744.8,813.5 1745.5,813.0 1746.2,812.4 1747.0,811.9 1747.7,811.3 1748.4,810.8 1749.2,810.2 1750.0,809.6 1750.7,809.0 1751.5,808.4 1752.3,807.7 1753.1,807.1 1753.9,806.5 1754.8,805.8 1755.6,805.1 1756.4,804.5 1757.3,803.8 1758.2,803.1 1759.0,802.3 1759.9,801.6 1760.8,800.9 1761.7,800.1 1762.7,799.4 1763.6,798.6 1764.5,797.8 1765.5,797.0 1766.5,796.2 1767.5,795.3 1768.5,794.5 1769.5,793.6 1770.5,792.7 1771.5,791.9 1772.6,790.9 1773.7,790.0 1774.8,789.1 1775.9,788.1 1777.0,787.2 1778.1,786.2 1779.2,785.2 1780.4,784.1 1781.6,783.1 1782.8,782.1" stroke="#e2424c"/>
<polyline points="1341.7,844.3 1385.8,844.3 1386.4,844.3 1387.0,844.3 1387.6,844.3 1388.2,844.3 1388.7,844.3 1389.3,844.3 1389.9,844.3 1390.5,844.3 1391.1,844.3 1391.7,844.3 1392.3,844.3 1392.9,844.3 1393.5,844.3 1394.0,844.3 1394.6,844.3 1395.2,844.3 1395.8,844.3 1396.4,844.3 1397.0,844.3 1397.6,844.3 1398.2,844.3 1398.8,844.3 1399.3,844.3 1399.9,844.3 1400.5,844.3 1401.1,844.3 1401.7,844.3 1402.3,844.3 1402.9,844.3 1403.5,844.3 1404.1,844.3 1404.6,844.3 1405.2,844.3 1405.8,844.3 1406.4,844.3 1407.0,844.3 1407.6,844.3 1408.2,844.3 1408.8,844.3 1409.4,844.3 1409.9,844.3 1410.5,844.3 1411.1,844.3 1411.7,844.3 1412.3,844.3 1412.9,844.3 1413.5,844.3 1414.1,844.3 1414.7,844.3 1415.2,844.3 1415.8,844.3 1416.4,844.3 1417.0,844.3 1417.6,844.3 1418.2,844.3 1418.8,844.3 1419.4,844.3 1420.0,844.3 1420.5,844.3 1421.1,844.3 1421.7,844.3 1422.3,844.3 1422.9,844.3 1423.5,844.3 1424.1,844.3 1424.7,844.3 1425.3,844.3 1425.8,844.3 1426.4,844.3 1427.0,844.3 1427.6,844.3 1428.2,844.3 1428.8,844.3 1429.4,844.3 1430.0,844.3 1430.6,844.3 1431.1,844.3 1431.7,844.3 1432.3,844.3 1432.9,844.3 1433.5,844.3 1434.1,844.3 1434.7,844.3 1435.3,844.3 1435.9,844.3 1436.4,844.3 1437.0,844.3 1437.6,844.3 1438.2,844.3 1438.8,844.3 1439.4,844.3 1440.0,844.3 1440.6,844.3 1441.2,844.3 1441.7,844.3 1442.3,844.3 1442.9,844.3 1443.5,844.3 1444.1,844.3 1444.7,844.3 1445.3,844.3 1445.9,844.3 1446.5,844.3 1447.0,844.3 1447.6,844.3 1448.2,844.3 1448.8,844.3 1449.4,844.3 1450.0,844.3 1450.6,844.3 1451.2,844.3 1451.8,844.3 1452.3,844.3 1452.9,844.3 1453.5,844.3 1454.1,844.3 1454.7,844.3 1455.3,844.3 1455.9,844.3 1456.5,844.3 1457.1,844.3 1457.6,844.3 1458.2,844.3 1458.8,844.3 1459.4,844.3 1460.0,844.3 1460.6,844.3 1461.2,844.3 1461.8,844.3 1462.4,844.3 1462.9,844.3 1463.5,844.3 1464.1,844.3 1464.7,844.3 1465.3,844.3 1465.9,844.3 1466.5,844.3 1467.1,844.3 1467.7,844.3 1468.2,844.3 1468.8,844.3 1469.4,844.3 1470.0,844.3 1470.6,844.3 1471.2,844.3 1471.8,844.3 1472.4,844.3 1473.0,844.3 1473.5,844.3 1474.1,844.3 1474.7,844.3 1475.3,844.3 1475.9,844.3 1476.5,844.3 1477.1,844.3 1477.7,844.3 1478.3,844.3 1478.8,844.3 1479.4,844.3 1480.0,844.3 1480.6,844.3 1481.2,844.3 1481.8,844.3 1482.4,844.3 1483.0,844.3 1483.6,844.3 1484.1,844.3 1484.7,844.3 1485.3,844.3 1485.9,844.3 1486.5,844.3 1487.1,844.3 1487.7,844.2 1488.3,844.2 1488.9,844.2 1489.4,844.2 1490.0,844.2 1490.6,844.2 1491.2,844.2 1491.8,844.2 1492.4,844.2 1493.0,844.2 1493.6,844.2 1494.2,844.2 1494.7,844.2 1495.3,844.2 1495.9,844.2 1496.5,844.2 1497.1,844.2 1497.7,844.2 1498.3,844.2 1498.9,844.2 1499.5,844.2 1500.1,844.2 1500.6,844.2 1501.2,844.2 1501.8,844.2 1502.4,844.2 1503.0,844.2 1503.6,844.2 1504.2,844.2 1504.8,844.2 1505.4,844.2 1505.9,844.2 1506.5,844.2 1507.1,844.2 1507.7,844.2 1508.3,844.2 1508.9,844.2 1509.5,844.2 1510.1,844.2 1510.7,844.2 1511.2,844.2 1511.8,844.2 1512.4,844.2 1513.0,844.2 1513.6,844.2 1514.2,844.2 1514.8,844.2 1515.4,844.2 1516.0,844.2 1516.6,844.2 1517.1,844.2 1517.7,844.1 1518.3,844.1 1518.9,844.1 1519.5,844.1 1520.1,844.1 1520.7,844.1 1521.3,844.1 1521.9,844.1 1522.4,844.1 1523.0,844.1 1523.6,844.1 1524.2,844.1 1524.8,844.1 1525.4,844.1 1526.0,844.1 1526.6,844.1 1527.2,844.1 1527.8,844.1 1528.3,844.1 1528.9,844.1 1529.5,844.1 1530.1,844.1 1530.7,844.1 1531.3,844.1 1531.9,844.1 1532.5,844.0 1533.1,844.0 1533.7,844.0 1534.2,844.0 1534.8,844.0 1535.4,844.0 1536.0,844.0 1536.6,844.0 1537.2,844.0 1537.8,844.0 1538.4,844.0 1539.0,844.0 1539.6,844.0 1540.1,844.0 1540.7,844.0 1541.3,844.0 1541.9,844.0 1542.5,843.9 1543.1,843.9 1543.7,843.9 1544.3,843.9 1544.9,843.9 1545.5,843.9 1546.0,843.9 1546.6,843.9 1547.2,843.9 1547.8,843.9 1548.4,843.9 1549.0,843.9 1549.6,843.9 1550.2,843.8 1550.8,843.8 1551.4,843.8 1552.0,843.8 1552.5,843.8 1553.1,843.8 1553.7,843.8 1554.3,843.8 1554.9,843.8 1555.5,843.8 1556.1,843.7 1556.7,843.7 1557.3,843.7 1557.9,843.7 1558.5,843.7 1559.0,843.7 1559.6,843.7 1560.2,843.7 1560.8,843.7 1561.4,843.6 1562.0,843.6 1562.6,843.6 1563.2,843.6 1563.8,843.6 1564.4,843.6 1565.0,843.6 1565.6,843.6 1566.1,843.5 1566.7,843.5 1567.3,843.5 1567.9,843.5 1568.5,843.5 1569.1,843.5 1569.7,843.4 1570.3,843.4 1570.9,843.4 1571.5,843.4 1572.1,843.4 1572.7,843.4 1573.3,843.3 1573.8,843.3 1574.4,843.3 1575.0,843.3 1575.6,843.3 1576.2,843.2 1576.8,843.2 1577.4,843.2 1578.0,843.2 1578.6,843.2 1579.2,843.1 1579.8,843.1 1580.4,843.1 1581.0,843.1 1581.6,843.0 1582.2,843.0 1582.7,843.0 1583.3,843.0 1583.9,842.9 1584.5,842.9 1585.1,842.9 1585.7,842.9 1586.3,842.8 1586.9,842.8 1587.5,842.8 1588.1,842.8 1588.7,842.7 1589.3,842.7 1589.9,842.7 1590.5,842.6 1591.1,842.6 1591.7,842.6 1592.3,842.5 1592.9,842.5 1593.5,842.5 1594.1,842.4 1594.7,842.4 1595.2,842.4 1595.8,842.3 1596.4,842.3 1597.0,842.2 1597.6,842.2 1598.2,842.2 1598.8,842.1 1599.4,842.1 1600.0,842.0 1600.6,842.0 1601.2,841.9 1601.8,841.9 1602.4,841.9 1603.0,841.8 1603.6,841.8 1604.2,841.7 1604.8,841.7 1605.4,841.6 1606.0,841.6 1606.6,841.5 1607.2,841.5 1607.8,841.4 1608.4,841.3 1609.0,841.3 1609.6,841.2 1610.2,841.2 1610.8,841.1 1611.4,841.0 1612.0,841.0 1612.6,840.9 1613.2,840.9 1613.8,840.8 1614.4,840.7 1615.0,840.7 1615.6,840.6 1616.3,840.5 1616.9,840.4 1617.5,840.4 1618.1,840.3 1618.7,840.2 1619.3,840.1 1619.9,840.1 1620.5,840.0 1621.1,839.9 1621.7,839.8 1622.3,839.7 1622.9,839.6 1623.5,839.5 1624.1,839.5 1624.7,839.4 1625.4,839.3 1626.0,839.2 1626.6,839.1 1627.2,839.0 1627.8,838.9 1628.4,838.8 1629.0,838.7 1629.6,838.6 1630.2,838.4 1630.9,838.3 1631.5,838.2 1632.1,838.1 1632.7,838.0 1633.3,837.9 1633.9,837.7 1634.5,837.6 1635.2,837.5 1635.8,837.4 1636.4,837.2 1637.0,837.1 1637.6,837.0 1638.2,836.8 1638.9,836.7 1639.5,836.5 1640.1,836.4 1640.7,836.2 1641.3,836.1 1642.0,835.9 1642.6,835.7 1643.2,835.6 1643.8,835.4 1644.5,835.3 1645.1,835.1 1645.7,834.9 1646.3,834.7 1647.0,834.5 1647.6,834.4 1648.2,834.2 1648.9,834.0 1649.5,833.8 1650.1,833.6 1650.8,833.4 1651.4,833.2 1652.0,832.9 1652.7,832.7 1653.3,832.5 1653.9,832.3 1654.6,832.0 1655.2,831.8 1655.9,831.6 1656.5,831.3 1657.1,831.1 1657.8,830.8 1658.4,830.6 1659.1,830.3 1659.7,830.0 1660.4,829.8 1661.0,829.5 1661.7,829.2 1662.3,828.9 1663.0,828.6 1663.6,828.3 1664.3,828.0 1664.9,827.7 1665.6,827.4 1666.2,827.1 1666.9,826.8 1667.6,826.4 1668.2,826.1 1668.9,825.7 1669.6,825.4 1670.2,825.0 1670.9,824.6 1671.6,824.3 1672.2,823.9 1672.9,823.5 1673.6,823.1 1674.3,822.7 1674.9,822.3 1675.6,821.9 1676.3,821.4 1677.0,821.0 1677.7,820.5 1678.3,820.1 1679.0,819.6 1679.7,819.1 1680.4,818.6 1681.1,818.1 1681.8,817.6 1682.5,817.1 1683.2,816.6 1683.9,816.1 1684.6,815.5 1685.3,814.9 1686.0,814.4 1686.7,813.8 1687.5,813.2 1688.2,812.6 1688.9,812.0 1689.6,811.4 1690.3,810.7 1691.1,810.1 1691.8,809.4 1692.5,808.7 1693.3,808.0 1694.0,807.3 1694.7,806.6 1695.5,805.9 1696.2,805.2 1697.0,804.4 1697.7,803.6 1698.5,802.8 1699.2,802.0 1700.0,801.2 1700.8,800.4 1701.5,799.5 1702.3,798.7 1703.1,797.8 1703.8,796.9 1704.6,796.0 1705.4,795.1 1706.2,794.1 1707.0,793.1 1707.8,792.2 1708.6,791.2 1709.4,790.1 1710.2,789.1 1711.0,788.0 1711.8,786.9 1712.7,785.8 1713.5,784.7 1714.3,783.6 1715.2,782.4 1716.0,781.2 1716.8,780.0 1717.7,778.8 1718.5,777.5 1719.4,776.2 1720.3,774.9 1721.1,773.6 1722.0,772.2 1722.9,770.8 1723.8,769.4 1724.7,768.0 1725.6,766.5 1726.5,765.0 1727.4,763.5 1728.3,761.9 1729.2,760.4 1730.2,758.7 1731.1,757.1 1732.0,755.4 1733.0,753.7 1733.9,752.0 1734.9,750.2 1735.9,748.4 1736.8,746.6 1737.8,744.7 1738.8,742.8 1739.8,740.8 1740.8,738.9 1741.8,736.8 1742.9,734.8 1743.9,732.7 1744.9,730.5 1746.0,728.4 1747.0,726.1 1748.1,723.9 1749.2,721.6 1750.3,719.2 1751.4,716.8 1752.5,714.4 1753.6,711.9 1754.7,709.3 1755.8,706.8 1757.0,704.1 1758.1,701.4 1759.3,698.7 1760.5,695.9 1761.7,693.1 1762.9,690.2 1764.1,687.2 1765.3,684.2 1766.5,681.2 1767.8,678.0 1769.0,674.9 1770.3,671.6 1771.6,668.3 1772.9,664.9 1774.2,661.5 1775.5,658.0 1776.9,654.4 1778.2,650.8 1779.6,647.1 1781.0,643.3" stroke="#2b6fd8"/>
<polyline points="1341.7,844.1 1355.9,844.1 1356.5,844.1 1357.1,844.1 1357.7,844.1 1358.3,844.1 1358.9,844.1 1359.5,844.1 1360.2,844.1 1360.8,844.1 1361.4,844.1 1362.0,844.1 1362.6,844.1 1363.2,844.1 1363.9,844.1 1364.5,844.1 1365.1,844.1 1365.7,844.1 1366.3,844.1 1366.9,844.1 1367.6,844.1 1368.2,844.1 1368.8,844.1 1369.4,844.1 1370.0,844.1 1370.6,844.1 1371.3,844.1 1371.9,844.1 1372.5,844.1 1373.1,844.1 1373.7,844.1 1374.3,844.1 1375.0,844.1 1375.6,844.1 1376.2,844.1 1376.8,844.1 1377.4,844.1 1378.0,844.1 1378.7,844.1 1379.3,844.1 1379.9,844.1 1380.5,844.1 1381.1,844.1 1381.7,844.1 1382.4,844.1 1383.0,844.1 1383.6,844.1 1384.2,844.1 1384.8,844.1 1385.4,844.1 1386.1,844.1 1386.7,844.1 1387.3,844.1 1387.9,844.1 1388.5,844.1 1389.1,844.1 1389.8,844.1 1390.4,844.1 1391.0,844.1 1391.6,844.1 1392.2,844.1 1392.8,844.1 1393.4,844.1 1394.1,844.1 1394.7,844.1 1395.3,844.1 1395.9,844.1 1396.5,844.1 1397.1,844.1 1397.8,844.1 1398.4,844.1 1399.0,844.1 1399.6,844.1 1400.2,844.1 1400.8,844.1 1401.5,844.1 1402.1,844.1 1402.7,844.1 1403.3,844.1 1403.9,844.1 1404.5,844.1 1405.2,844.1 1405.8,844.1 1406.4,844.1 1407.0,844.1 1407.6,844.1 1408.2,844.1 1408.9,844.1 1409.5,844.1 1410.1,844.1 1410.7,844.1 1411.3,844.1 1411.9,844.1 1412.6,844.1 1413.2,844.1 1413.8,844.1 1414.4,844.1 1415.0,844.1 1415.6,844.1 1416.3,844.1 1416.9,844.1 1417.5,844.1 1418.1,844.1 1418.7,844.1 1419.3,844.1 1420.0,844.1 1420.6,844.1 1421.2,844.1 1421.8,844.1 1422.4,844.0 1423.0,844.0 1423.7,844.0 1424.3,844.0 1424.9,844.0 1425.5,844.0 1426.1,844.0 1426.7,844.0 1427.4,844.0 1428.0,844.0 1428.6,844.0 1429.2,844.0 1429.8,844.0 1430.4,844.0 1431.1,844.0 1431.7,844.0 1432.3,844.0 1432.9,844.0 1433.5,844.0 1434.1,844.0 1434.7,844.0 1435.4,844.0 1436.0,844.0 1436.6,844.0 1437.2,844.0 1437.8,844.0 1438.4,844.0 1439.1,844.0 1439.7,844.0 1440.3,844.0 1440.9,844.0 1441.5,844.0 1442.1,844.0 1442.8,844.0 1443.4,844.0 1444.0,844.0 1444.6,844.0 1445.2,844.0 1445.8,844.0 1446.5,844.0 1447.1,844.0 1447.7,844.0 1448.3,844.0 1448.9,844.0 1449.5,844.0 1450.2,844.0 1450.8,844.0 1451.4,844.0 1452.0,844.0 1452.6,844.0 1453.2,844.0 1453.9,844.0 1454.5,844.0 1455.1,844.0 1455.7,844.0 1456.3,844.0 1456.9,844.0 1457.6,844.0 1458.2,844.0 1458.8,844.0 1459.4,844.0 1460.0,844.0 1460.6,844.0 1461.3,844.0 1461.9,844.0 1462.5,844.0 1463.1,844.0 1463.7,844.0 1464.3,844.0 1465.0,844.0 1465.6,844.0 1466.2,844.0 1466.8,844.0 1467.4,844.0 1468.0,844.0 1468.7,844.0 1469.3,844.0 1469.9,844.0 1470.5,844.0 1471.1,844.0 1471.7,844.0 1472.4,844.0 1473.0,844.0 1473.6,844.0 1474.2,844.0 1474.8,844.0 1475.4,844.0 1476.1,844.0 1476.7,844.0 1477.3,844.0 1477.9,844.0 1478.5,844.0 1479.1,844.0 1479.8,844.0 1480.4,843.9 1481.0,843.9 1481.6,843.9 1482.2,843.9 1482.8,843.9 1483.5,843.9 1484.1,843.9 1484.7,843.9 1485.3,843.9 1485.9,843.9 1486.5,843.9 1487.2,843.9 1487.8,843.9 1488.4,843.9 1489.0,843.9 1489.6,843.9 1490.2,843.9 1490.9,843.9 1491.5,843.9 1492.1,843.9 1492.7,843.9 1493.3,843.9 1494.0,843.9 1494.6,843.9 1495.2,843.9 1495.8,843.9 1496.4,843.9 1497.0,843.9 1497.7,843.9 1498.3,843.9 1498.9,843.9 1499.5,843.8 1500.1,843.8 1500.7,843.8 1501.4,843.8 1502.0,843.8 1502.6,843.8 1503.2,843.8 1503.8,843.8 1504.4,843.8 1505.1,843.8 1505.7,843.8 1506.3,843.8 1506.9,843.8 1507.5,843.8 1508.1,843.8 1508.8,843.8 1509.4,843.8 1510.0,843.8 1510.6,843.8 1511.2,843.8 1511.9,843.7 1512.5,843.7 1513.1,843.7 1513.7,843.7 1514.3,843.7 1514.9,843.7 1515.6,843.7 1516.2,843.7 1516.8,843.7 1517.4,843.7 1518.0,843.7 1518.6,843.7 1519.3,843.7 1519.9,843.7 1520.5,843.6 1521.1,843.6 1521.7,843.6 1522.4,843.6 1523.0,843.6 1523.6,843.6 1524.2,843.6 1524.8,843.6 1525.4,843.6 1526.1,843.6 1526.7,843.6 1527.3,843.5 1527.9,843.5 1528.5,843.5 1529.2,843.5 1529.8,843.5 1530.4,843.5 1531.0,843.5 1531.6,843.5 1532.3,843.5 1532.9,843.4 1533.5,843.4 1534.1,843.4 1534.7,843.4 1535.3,843.4 1536.0,843.4 1536.6,843.4 1537.2,843.3 1537.8,843.3 1538.4,843.3 1539.1,843.3 1539.7,843.3 1540.3,843.3 1540.9,843.3 1541.5,843.2 1542.2,843.2 1542.8,843.2 1543.4,843.2 1544.0,843.2 1544.6,843.2 1545.3,843.1 1545.9,843.1 1546.5,843.1 1547.1,843.1 1547.7,843.1 1548.4,843.0 1549.0,843.0 1549.6,843.0 1550.2,843.0 1550.8,843.0 1551.5,842.9 1552.1,842.9 1552.7,842.9 1553.3,842.9 1553.9,842.8 1554.6,842.8 1555.2,842.8 1555.8,842.8 1556.4,842.7 1557.1,842.7 1557.7,842.7 1558.3,842.7 1558.9,842.6 1559.5,842.6 1560.2,842.6 1560.8,842.6 1561.4,842.5 1562.0,842.5 1562.7,842.5 1563.3,842.4 1563.9,842.4 1564.5,842.4 1565.1,842.3 1565.8,842.3 1566.4,842.3 1567.0,842.2 1567.6,842.2 1568.3,842.2 1568.9,842.1 1569.5,842.1 1570.1,842.0 1570.8,842.0 1571.4,842.0 1572.0,841.9 1572.6,841.9 1573.3,841.8 1573.9,841.8 1574.5,841.7 1575.1,841.7 1575.8,841.7 1576.4,841.6 1577.0,841.6 1577.6,841.5 1578.3,841.5 1578.9,841.4 1579.5,841.4 1580.1,841.3 1580.8,841.2 1581.4,841.2 1582.0,841.1 1582.7,841.1 1583.3,841.0 1583.9,841.0 1584.5,840.9 1585.2,840.8 1585.8,840.8 1586.4,840.7 1587.1,840.6 1587.7,840.6 1588.3,840.5 1589.0,840.4 1589.6,840.4 1590.2,840.3 1590.8,840.2 1591.5,840.1 1592.1,840.1 1592.7,840.0 1593.4,839.9 1594.0,839.8 1594.6,839.7 1595.3,839.7 1595.9,839.6 1596.5,839.5 1597.2,839.4 1597.8,839.3 1598.5,839.2 1599.1,839.1 1599.7,839.0 1600.4,838.9 1601.0,838.8 1601.6,838.7 1602.3,838.6 1602.9,838.5 1603.6,838.4 1604.2,838.3 1604.8,838.2 1605.5,838.0 1606.1,837.9 1606.8,837.8 1607.4,837.7 1608.0,837.5 1608.7,837.4 1609.3,837.3 1610.0,837.2 1610.6,837.0 1611.3,836.9 1611.9,836.7 1612.5,836.6 1613.2,836.4 1613.8,836.3 1614.5,836.1 1615.1,836.0 1615.8,835.8 1616.4,835.7 1617.1,835.5 1617.7,835.3 1618.4,835.2 1619.0,835.0 1619.7,834.8 1620.3,834.6 1621.0,834.4 1621.6,834.3 1622.3,834.1 1623.0,833.9 1623.6,833.7 1624.3,833.5 1624.9,833.3 1625.6,833.0 1626.3,832.8 1626.9,832.6 1627.6,832.4 1628.2,832.1 1628.9,831.9 1629.6,831.7 1630.2,831.4 1630.9,831.2 1631.6,830.9 1632.2,830.7 1632.9,830.4 1633.6,830.1 1634.3,829.9 1634.9,829.6 1635.6,829.3 1636.3,829.0 1637.0,828.7 1637.6,828.4 1638.3,828.1 1639.0,827.8 1639.7,827.5 1640.4,827.1 1641.0,826.8 1641.7,826.5 1642.4,826.1 1643.1,825.8 1643.8,825.4 1644.5,825.0 1645.2,824.7 1645.9,824.3 1646.6,823.9 1647.3,823.5 1648.0,823.1 1648.7,822.7 1649.4,822.3 1650.1,821.8 1650.8,821.4 1651.5,821.0 1652.2,820.5 1652.9,820.0 1653.6,819.5 1654.3,819.0 1655.0,818.5 1655.8,818.0 1656.5,817.5 1657.2,817.0 1657.9,816.4 1658.7,815.9 1659.4,815.3 1660.1,814.7 1660.8,814.1 1661.6,813.5 1662.3,812.9 1663.1,812.3 1663.8,811.6 1664.6,811.0 1665.3,810.3 1666.0,809.6 1666.8,808.9 1667.6,808.2 1668.3,807.5 1669.1,806.8 1669.8,806.0 1670.6,805.3 1671.4,804.5 1672.2,803.7 1672.9,802.9 1673.7,802.1 1674.5,801.2 1675.3,800.4 1676.1,799.5 1676.9,798.6 1677.7,797.7 1678.5,796.8 1679.3,795.8 1680.1,794.9 1680.9,793.9 1681.7,792.9 1682.5,791.9 1683.3,790.8 1684.2,789.8 1685.0,788.7 1685.8,787.6 1686.7,786.5 1687.5,785.3 1688.3,784.1 1689.2,783.0 1690.1,781.7 1690.9,780.5 1691.8,779.2 1692.7,777.9 1693.5,776.6 1694.4,775.3 1695.3,773.9 1696.2,772.5 1697.1,771.1 1698.0,769.7 1698.9,768.2 1699.8,766.7 1700.7,765.1 1701.7,763.6 1702.6,762.0 1703.5,760.4 1704.5,758.7 1705.4,757.0 1706.4,755.3 1707.3,753.5 1708.3,751.7 1709.3,749.9 1710.3,748.0 1711.3,746.1 1712.3,744.2 1713.3,742.2 1714.3,740.2 1715.3,738.1 1716.4,736.0 1717.4,733.9 1718.4,731.7 1719.5,729.5 1720.6,727.2 1721.6,724.9 1722.7,722.6 1723.8,720.2 1724.9,717.7 1726.0,715.2 1727.1,712.7 1728.3,710.1 1729.4,707.4 1730.6,704.7 1731.7,702.0 1732.9,699.1 1734.1,696.3 1735.3,693.4 1736.5,690.4 1737.7,687.4 1738.9,684.3 1740.2,681.1 1741.4,677.9 1742.7,674.6 1744.0,671.3 1745.2,667.8 1746.5,664.4 1747.9,660.8 1749.2,657.2 1750.5,653.5 1751.9,649.8 1753.3,645.9 1754.7,642.0 1756.1,638.0 1757.5,634.0 1758.9,629.8 1760.4,625.6 1761.8,621.3 1763.3,616.9 1764.8,612.4 1766.4,607.8 1767.9,603.2 1769.4,598.4 1771.0,593.6 1772.6,588.7 1774.2,583.6 1775.9,578.5 1777.5,573.2 1779.2,567.9 1780.9,562.5" stroke="#3db071"/>
<polyline points="1341.7,844.8 1485.0,844.8 1485.4,844.8 1485.7,844.8 1486.1,844.8 1486.4,844.8 1486.8,844.8 1487.1,844.8 1487.5,844.8 1487.8,844.8 1488.1,844.8 1488.5,844.8 1488.8,844.8 1489.2,844.8 1489.5,844.8 1489.9,844.8 1490.2,844.8 1490.6,844.8 1490.9,844.8 1491.3,844.8 1491.6,844.8 1492.0,844.8 1492.3,844.8 1492.7,844.8 1493.0,844.8 1493.3,844.8 1493.7,844.8 1494.0,844.8 1494.4,844.8 1494.7,844.8 1495.1,844.8 1495.4,844.8 1495.8,844.8 1496.1,844.8 1496.5,844.8 1496.8,844.8 1497.2,844.8 1497.5,844.8 1497.9,844.8 1498.2,844.8 1498.5,844.8 1498.9,844.8 1499.2,844.8 1499.6,844.8 1499.9,844.8 1500.3,844.8 1500.6,844.8 1501.0,844.8 1501.3,844.8 1501.7,844.8 1502.0,844.8 1502.4,844.8 1502.7,844.8 1503.0,844.8 1503.4,844.8 1503.7,844.8 1504.1,844.8 1504.4,844.8 1504.8,844.8 1505.1,844.8 1505.5,844.8 1505.8,844.8 1506.2,844.8 1506.5,844.8 1506.9,844.8 1507.2,844.8 1507.6,844.8 1507.9,844.8 1508.2,844.8 1508.6,844.8 1508.9,844.8 1509.3,844.8 1509.6,844.8 1510.0,844.8 1510.3,844.8 1510.7,844.8 1511.0,844.8 1511.4,844.8 1511.7,844.8 1512.1,844.8 1512.4,844.8 1512.8,844.8 1513.1,844.8 1513.4,844.8 1513.8,844.8 1514.1,844.8 1514.5,844.8 1514.8,844.8 1515.2,844.8 1515.5,844.8 1515.9,844.8 1516.2,844.8 1516.6,844.8 1516.9,844.8 1517.3,844.8 1517.6,844.8 1518.0,844.8 1518.3,844.8 1518.6,844.8 1519.0,844.8 1519.3,844.8 1519.7,844.8 1520.0,844.8 1520.4,844.8 1520.7,844.8 1521.1,844.8 1521.4,844.8 1521.8,844.8 1522.1,844.8 1522.5,844.8 1522.8,844.8 1523.2,844.8 1523.5,844.8 1523.8,844.8 1524.2,844.8 1524.5,844.8 1524.9,844.8 1525.2,844.8 1525.6,844.8 1525.9,844.8 1526.3,844.8 1526.6,844.8 1527.0,844.8 1527.3,844.8 1527.7,844.8 1528.0,844.8 1528.4,844.8 1528.7,844.8 1529.1,844.8 1529.4,844.8 1529.7,844.8 1530.1,844.8 1530.4,844.8 1530.8,844.8 1531.1,844.8 1531.5,844.8 1531.8,844.8 1532.2,844.8 1532.5,844.8 1532.9,844.8 1533.2,844.8 1533.6,844.8 1533.9,844.8 1534.3,844.8 1534.6,844.8 1535.0,844.8 1535.3,844.8 1535.6,844.8 1536.0,844.8 1536.3,844.8 1536.7,844.8 1537.0,844.8 1537.4,844.8 1537.7,844.8 1538.1,844.8 1538.4,844.8 1538.8,844.8 1539.1,844.8 1539.5,844.8 1539.8,844.8 1540.2,844.8 1540.5,844.8 1540.9,844.8 1541.2,844.8 1541.6,844.8 1541.9,844.8 1542.2,844.8 1542.6,844.8 1542.9,844.8 1543.3,844.8 1543.6,844.8 1544.0,844.8 1544.3,844.8 1544.7,844.8 1545.0,844.8 1545.4,844.8 1545.7,844.8 1546.1,844.8 1546.4,844.8 1546.8,844.8 1547.1,844.8 1547.5,844.7 1547.8,844.7 1548.2,844.7 1548.5,844.7 1548.8,844.7 1549.2,844.7 1549.5,844.7 1549.9,844.7 1550.2,844.7 1550.6,844.7 1550.9,844.7 1551.3,844.7 1551.6,844.7 1552.0,844.7 1552.3,844.7 1552.7,844.7 1553.0,844.7 1553.4,844.7 1553.7,844.7 1554.1,844.7 1554.4,844.7 1554.8,844.7 1555.1,844.7 1555.5,844.7 1555.8,844.7 1556.2,844.7 1556.5,844.7 1556.9,844.7 1557.2,844.7 1557.6,844.7 1557.9,844.7 1558.2,844.7 1558.6,844.7 1558.9,844.7 1559.3,844.7 1559.6,844.7 1560.0,844.7 1560.3,844.7 1560.7,844.7 1561.0,844.7 1561.4,844.7 1561.7,844.7 1562.1,844.7 1562.4,844.7 1562.8,844.7 1563.1,844.7 1563.5,844.7 1563.8,844.7 1564.2,844.7 1564.5,844.7 1564.9,844.7 1565.2,844.7 1565.6,844.7 1565.9,844.7 1566.3,844.7 1566.6,844.7 1567.0,844.7 1567.3,844.7 1567.7,844.7 1568.0,844.7 1568.4,844.7 1568.7,844.7 1569.1,844.7 1569.4,844.7 1569.8,844.7 1570.1,844.6 1570.5,844.6 1570.8,844.6 1571.2,844.6 1571.5,844.6 1571.9,844.6 1572.2,844.6 1572.6,844.6 1572.9,844.6 1573.3,844.6 1573.6,844.6 1574.0,844.6 1574.3,844.6 1574.7,844.6 1575.0,844.6 1575.4,844.6 1575.7,844.6 1576.1,844.6 1576.4,844.6 1576.8,844.6 1577.1,844.6 1577.5,844.6 1577.9,844.6 1578.2,844.6 1578.6,844.6 1578.9,844.6 1579.3,844.6 1579.6,844.6 1580.0,844.6 1580.3,844.6 1580.7,844.6 1581.0,844.5 1581.4,844.5 1581.7,844.5 1582.1,844.5 1582.4,844.5 1582.8,844.5 1583.1,844.5 1583.5,844.5 1583.8,844.5 1584.2,844.5 1584.6,844.5 1584.9,844.5 1585.3,844.5 1585.6,844.5 1586.0,844.5 1586.3,844.5 1586.7,844.5 1587.0,844.5 1587.4,844.5 1587.7,844.5 1588.1,844.4 1588.5,844.4 1588.8,844.4 1589.2,844.4 1589.5,844.4 1589.9,844.4 1590.2,844.4 1590.6,844.4 1591.0,844.4 1591.3,844.4 1591.7,844.4 1592.0,844.4 1592.4,844.4 1592.7,844.4 1593.1,844.3 1593.5,844.3 1593.8,844.3 1594.2,844.3 1594.5,844.3 1594.9,844.3 1595.2,844.3 1595.6,844.3 1596.0,844.3 1596.3,844.3 1596.7,844.3 1597.0,844.3 1597.4,844.2 1597.8,844.2 1598.1,844.2 1598.5,844.2 1598.9,844.2 1599.2,844.2 1599.6,844.2 1599.9,844.2 1600.3,844.2 1600.7,844.2 1601.0,844.1 1601.4,844.1 1601.8,844.1 1602.1,844.1 1602.5,844.1 1602.8,844.1 1603.2,844.1 1603.6,844.1 1603.9,844.1 1604.3,844.0 1604.7,844.0 1605.0,844.0 1605.4,844.0 1605.8,844.0 1606.1,844.0 1606.5,844.0 1606.9,843.9 1607.2,843.9 1607.6,843.9 1608.0,843.9 1608.3,843.9 1608.7,843.9 1609.1,843.9 1609.5,843.8 1609.8,843.8 1610.2,843.8 1610.6,843.8 1610.9,843.8 1611.3,843.8 1611.7,843.7 1612.1,843.7 1612.4,843.7 1612.8,843.7 1613.2,843.7 1613.6,843.6 1613.9,843.6 1614.3,843.6 1614.7,843.6 1615.1,843.6 1615.5,843.5 1615.8,843.5 1616.2,843.5 1616.6,843.5 1617.0,843.5 1617.4,843.4 1617.7,843.4 1618.1,843.4 1618.5,843.4 1618.9,843.3 1619.3,843.3 1619.7,843.3 1620.0,843.3 1620.4,843.2 1620.8,843.2 1621.2,843.2 1621.6,843.2 1622.0,843.1 1622.4,843.1 1622.8,843.1 1623.1,843.0 1623.5,843.0 1623.9,843.0 1624.3,842.9 1624.7,842.9 1625.1,842.9 1625.5,842.9 1625.9,842.8 1626.3,842.8 1626.7,842.8 1627.1,842.7 1627.5,842.7 1627.9,842.6 1628.3,842.6 1628.7,842.6 1629.1,842.5 1629.5,842.5 1629.9,842.5 1630.3,842.4 1630.7,842.4 1631.1,842.3 1631.5,842.3 1632.0,842.2 1632.4,842.2 1632.8,842.2 1633.2,842.1 1633.6,842.1 1634.0,842.0 1634.4,842.0 1634.9,841.9 1635.3,841.9 1635.7,841.8 1636.1,841.8 1636.6,841.7 1637.0,841.7 1637.4,841.6 1637.8,841.6 1638.3,841.5 1638.7,841.5 1639.1,841.4 1639.6,841.3 1640.0,841.3 1640.4,841.2 1640.9,841.2 1641.3,841.1 1641.8,841.0 1642.2,841.0 1642.6,840.9 1643.1,840.8 1643.5,840.8 1644.0,840.7 1644.4,840.6 1644.9,840.6 1645.3,840.5 1645.8,840.4 1646.3,840.4 1646.7,840.3 1647.2,840.2 1647.6,840.1 1648.1,840.0 1648.6,840.0 1649.1,839.9 1649.5,839.8 1650.0,839.7 1650.5,839.6 1651.0,839.5 1651.4,839.4 1651.9,839.4 1652.4,839.3 1652.9,839.2 1653.4,839.1 1653.9,839.0 1654.4,838.9 1654.9,838.8 1655.4,838.7 1655.9,838.6 1656.4,838.5 1656.9,838.4 1657.4,838.2 1657.9,838.1 1658.4,838.0 1659.0,837.9 1659.5,837.8 1660.0,837.7 1660.5,837.6 1661.1,837.4 1661.6,837.3 1662.2,837.2 1662.7,837.0 1663.2,836.9 1663.8,836.8 1664.3,836.6 1664.9,836.5 1665.5,836.4 1666.0,836.2 1666.6,836.1 1667.2,835.9 1667.7,835.8 1668.3,835.6 1668.9,835.5 1669.5,835.3 1670.1,835.2 1670.7,835.0 1671.3,834.8 1671.9,834.7 1672.5,834.5 1673.1,834.3 1673.7,834.1 1674.3,833.9 1674.9,833.8 1675.6,833.6 1676.2,833.4 1676.9,833.2 1677.5,833.0 1678.1,832.8 1678.8,832.6 1679.5,832.4 1680.1,832.2 1680.8,832.0 1681.5,831.7 1682.2,831.5 1682.8,831.3 1683.5,831.1 1684.2,830.8 1684.9,830.6 1685.7,830.3 1686.4,830.1 1687.1,829.9 1687.8,829.6 1688.6,829.3 1689.3,829.1 1690.1,828.8 1690.8,828.5 1691.6,828.3 1692.4,828.0 1693.1,827.7 1693.9,827.4 1694.7,827.1 1695.5,826.8 1696.3,826.5 1697.1,826.2 1698.0,825.9 1698.8,825.6 1699.6,825.2 1700.5,824.9 1701.3,824.6 1702.2,824.2 1703.1,823.9 1704.0,823.5 1704.9,823.2 1705.8,822.8 1706.7,822.4 1707.6,822.0 1708.5,821.6 1709.5,821.2 1710.4,820.8 1711.4,820.4 1712.4,820.0 1713.3,819.6 1714.3,819.2 1715.3,818.7 1716.4,818.3 1717.4,817.9 1718.4,817.4 1719.5,816.9 1720.5,816.5 1721.6,816.0 1722.7,815.5 1723.8,815.0 1724.9,814.5 1726.0,814.0 1727.2,813.4 1728.3,812.9 1729.5,812.4 1730.7,811.8 1731.9,811.3 1733.1,810.7 1734.3,810.1 1735.5,809.5 1736.8,808.9 1738.1,808.3 1739.4,807.7 1740.7,807.1 1742.0,806.4 1743.3,805.8 1744.7,805.1 1746.0,804.4 1747.4,803.7 1748.8,803.1 1750.2,802.3 1751.7,801.6 1753.1,800.9 1754.6,800.1 1756.1,799.4 1757.6,798.6 1759.1,797.8 1760.7,797.0 1762.3,796.2 1763.9,795.4 1765.5,794.6 1767.1,793.7 1768.8,792.8 1770.5,792.0 1772.2,791.1 1773.9,790.1 1775.6,789.2 1777.4,788.3 1779.2,787.3 1781.0,786.3" stroke="#c28ce8"/>
<polyline points="1341.7,845.5 1612.2,845.5 1612.3,845.5 1612.5,845.5 1612.6,845.5 1612.8,845.5 1612.9,845.5 1613.1,845.5 1613.2,845.5 1613.4,845.5 1613.6,845.5 1613.7,845.5 1613.9,845.5 1614.0,845.5 1614.2,845.5 1614.3,845.5 1614.5,845.5 1614.6,845.5 1614.8,845.5 1615.0,845.5 1615.1,845.5 1615.3,845.5 1615.4,845.5 1615.6,845.5 1615.7,845.5 1615.9,845.5 1616.0,845.5 1616.2,845.5 1616.4,845.5 1616.5,845.5 1616.7,845.5 1616.8,845.5 1617.0,845.5 1617.1,845.5 1617.3,845.5 1617.4,845.5 1617.6,845.5 1617.8,845.5 1617.9,845.5 1618.1,845.5 1618.2,845.5 1618.4,845.5 1618.5,845.5 1618.7,845.5 1618.9,845.5 1619.0,845.5 1619.2,845.5 1619.3,845.5 1619.5,845.5 1619.6,845.5 1619.8,845.5 1619.9,845.5 1620.1,845.5 1620.3,845.5 1620.4,845.5 1620.6,845.5 1620.7,845.5 1620.9,845.5 1621.0,845.5 1621.2,845.5 1621.3,845.5 1621.5,845.5 1621.7,845.5 1621.8,845.5 1622.0,845.5 1622.1,845.5 1622.3,845.5 1622.4,845.5 1622.6,845.5 1622.7,845.5 1622.9,845.5 1623.1,845.5 1623.2,845.5 1623.4,845.5 1623.5,845.5 1623.7,845.5 1623.8,845.5 1624.0,845.5 1624.1,845.5 1624.3,845.5 1624.5,845.5 1624.6,845.5 1624.8,845.5 1624.9,845.5 1625.1,845.5 1625.2,845.5 1625.4,845.5 1625.5,845.5 1625.7,845.5 1625.9,845.5 1626.0,845.5 1626.2,845.5 1626.3,845.5 1626.5,845.5 1626.6,845.5 1626.8,845.5 1627.0,845.5 1627.1,845.5 1627.3,845.5 1627.4,845.5 1627.6,845.5 1627.7,845.5 1627.9,845.5 1628.0,845.5 1628.2,845.5 1628.4,845.5 1628.5,845.5 1628.7,845.5 1628.8,845.5 1629.0,845.5 1629.1,845.5 1629.3,845.5 1629.4,845.5 1629.6,845.5 1629.8,845.5 1629.9,845.5 1630.1,845.5 1630.2,845.5 1630.4,845.5 1630.5,845.5 1630.7,845.5 1630.9,845.5 1631.0,845.5 1631.2,845.5 1631.3,845.5 1631.5,845.5 1631.6,845.5 1631.8,845.5 1631.9,845.5 1632.1,845.5 1632.3,845.5 1632.4,845.5 1632.6,845.5 1632.7,845.5 1632.9,845.5 1633.0,845.5 1633.2,845.5 1633.3,845.5 1633.5,845.5 1633.7,845.5 1633.8,845.5 1634.0,845.5 1634.1,845.5 1634.3,845.5 1634.4,845.5 1634.6,845.5 1634.8,845.5 1634.9,845.5 1635.1,845.5 1635.2,845.5 1635.4,845.5 1635.5,845.5 1635.7,845.5 1635.8,845.5 1636.0,845.5 1636.2,845.5 1636.3,845.5 1636.5,845.5 1636.6,845.5 1636.8,845.5 1636.9,845.5 1637.1,845.5 1637.3,845.5 1637.4,845.5 1637.6,845.5 1637.7,845.5 1637.9,845.5 1638.0,845.5 1638.2,845.5 1638.4,845.5 1638.5,845.5 1638.7,845.5 1638.8,845.5 1639.0,845.5 1639.1,845.5 1639.3,845.5 1639.4,845.5 1639.6,845.5 1639.8,845.5 1639.9,845.5 1640.1,845.5 1640.2,845.5 1640.4,845.5 1640.5,845.5 1640.7,845.5 1640.9,845.5 1641.0,845.5 1641.2,845.5 1641.3,845.5 1641.5,845.5 1641.6,845.5 1641.8,845.5 1642.0,845.5 1642.1,845.5 1642.3,845.5 1642.4,845.5 1642.6,845.5 1642.7,845.5 1642.9,845.5 1643.1,845.5 1643.2,845.5 1643.4,845.5 1643.5,845.5 1643.7,845.5 1643.8,845.5 1644.0,845.4 1644.2,845.4 1644.3,845.4 1644.5,845.4 1644.6,845.4 1644.8,845.4 1644.9,845.4 1645.1,845.4 1645.3,845.4 1645.4,845.4 1645.6,845.4 1645.7,845.4 1645.9,845.4 1646.0,845.4 1646.2,845.4 1646.4,845.4 1646.5,845.4 1646.7,845.4 1646.8,845.4 1647.0,845.4 1647.1,845.4 1647.3,845.4 1647.5,845.4 1647.6,845.4 1647.8,845.4 1647.9,845.4 1648.1,845.4 1648.3,845.4 1648.4,845.4 1648.6,845.4 1648.7,845.4 1648.9,845.4 1649.0,845.4 1649.2,845.4 1649.4,845.4 1649.5,845.4 1649.7,845.4 1649.8,845.4 1650.0,845.4 1650.2,845.4 1650.3,845.4 1650.5,845.4 1650.6,845.4 1650.8,845.4 1650.9,845.4 1651.1,845.4 1651.3,845.4 1651.4,845.3 1651.6,845.3 1651.7,845.3 1651.9,845.3 1652.1,845.3 1652.2,845.3 1652.4,845.3 1652.5,845.3 1652.7,845.3 1652.9,845.3 1653.0,845.3 1653.2,845.3 1653.3,845.3 1653.5,845.3 1653.7,845.3 1653.8,845.3 1654.0,845.3 1654.1,845.3 1654.3,845.3 1654.5,845.3 1654.6,845.3 1654.8,845.3 1654.9,845.3 1655.1,845.3 1655.3,845.3 1655.4,845.2 1655.6,845.2 1655.7,845.2 1655.9,845.2 1656.1,845.2 1656.2,845.2 1656.4,845.2 1656.6,845.2 1656.7,845.2 1656.9,845.2 1657.0,845.2 1657.2,845.2 1657.4,845.2 1657.5,845.2 1657.7,845.2 1657.8,845.2 1658.0,845.2 1658.2,845.2 1658.3,845.1 1658.5,845.1 1658.7,845.1 1658.8,845.1 1659.0,845.1 1659.2,845.1 1659.3,845.1 1659.5,845.1 1659.6,845.1 1659.8,845.1 1660.0,845.1 1660.1,845.1 1660.3,845.1 1660.5,845.1 1660.6,845.0 1660.8,845.0 1661.0,845.0 1661.1,845.0 1661.3,845.0 1661.5,845.0 1661.6,845.0 1661.8,845.0 1662.0,845.0 1662.1,845.0 1662.3,845.0 1662.5,844.9 1662.6,844.9 1662.8,844.9 1663.0,844.9 1663.1,844.9 1663.3,844.9 1663.5,844.9 1663.6,844.9 1663.8,844.9 1664.0,844.8 1664.1,844.8 1664.3,844.8 1664.5,844.8 1664.6,844.8 1664.8,844.8 1665.0,844.8 1665.1,844.8 1665.3,844.7 1665.5,844.7 1665.7,844.7 1665.8,844.7 1666.0,844.7 1666.2,844.7 1666.3,844.7 1666.5,844.6 1666.7,844.6 1666.9,844.6 1667.0,844.6 1667.2,844.6 1667.4,844.6 1667.6,844.6 1667.7,844.5 1667.9,844.5 1668.1,844.5 1668.3,844.5 1668.4,844.5 1668.6,844.4 1668.8,844.4 1669.0,844.4 1669.1,844.4 1669.3,844.4 1669.5,844.3 1669.7,844.3 1669.8,844.3 1670.0,844.3 1670.2,844.3 1670.4,844.2 1670.6,844.2 1670.7,844.2 1670.9,844.2 1671.1,844.2 1671.3,844.1 1671.5,844.1 1671.7,844.1 1671.8,844.1 1672.0,844.0 1672.2,844.0 1672.4,844.0 1672.6,844.0 1672.8,843.9 1673.0,843.9 1673.1,843.9 1673.3,843.8 1673.5,843.8 1673.7,843.8 1673.9,843.8 1674.1,843.7 1674.3,843.7 1674.5,843.7 1674.7,843.6 1674.8,843.6 1675.0,843.6 1675.2,843.5 1675.4,843.5 1675.6,843.5 1675.8,843.4 1676.0,843.4 1676.2,843.3 1676.4,843.3 1676.6,843.3 1676.8,843.2 1677.0,843.2 1677.2,843.2 1677.4,843.1 1677.6,843.1 1677.8,843.0 1678.0,843.0 1678.2,842.9 1678.4,842.9 1678.6,842.8 1678.8,842.8 1679.0,842.8 1679.2,842.7 1679.5,842.7 1679.7,842.6 1679.9,842.6 1680.1,842.5 1680.3,842.5 1680.5,842.4 1680.7,842.3 1680.9,842.3 1681.2,842.2 1681.4,842.2 1681.6,842.1 1681.8,842.1 1682.0,842.0 1682.3,841.9 1682.5,841.9 1682.7,841.8 1682.9,841.8 1683.2,841.7 1683.4,841.6 1683.6,841.6 1683.9,841.5 1684.1,841.4 1684.3,841.3 1684.6,841.3 1684.8,841.2 1685.0,841.1 1685.3,841.0 1685.5,841.0 1685.8,840.9 1686.0,840.8 1686.3,840.7 1686.5,840.7 1686.7,840.6 1687.0,840.5 1687.3,840.4 1687.5,840.3 1687.8,840.2 1688.0,840.1 1688.3,840.0 1688.5,839.9 1688.8,839.8 1689.1,839.7 1689.3,839.6 1689.6,839.5 1689.9,839.4 1690.1,839.3 1690.4,839.2 1690.7,839.1 1691.0,839.0 1691.2,838.9 1691.5,838.8 1691.8,838.7 1692.1,838.5 1692.4,838.4 1692.7,838.3 1693.0,838.2 1693.3,838.0 1693.6,837.9 1693.9,837.8 1694.2,837.7 1694.5,837.5 1694.8,837.4 1695.1,837.2 1695.4,837.1 1695.7,837.0 1696.0,836.8 1696.4,836.7 1696.7,836.5 1697.0,836.3 1697.4,836.2 1697.7,836.0 1698.0,835.9 1698.4,835.7 1698.7,835.5 1699.1,835.4 1699.4,835.2 1699.8,835.0 1700.1,834.8 1700.5,834.6 1700.8,834.4 1701.2,834.3 1701.6,834.1 1701.9,833.9 1702.3,833.7 1702.7,833.5 1703.1,833.2 1703.5,833.0 1703.9,832.8 1704.3,832.6 1704.7,832.4 1705.1,832.1 1705.5,831.9 1705.9,831.7 1706.3,831.4 1706.7,831.2 1707.2,831.0 1707.6,830.7 1708.0,830.4 1708.5,830.2 1708.9,829.9 1709.4,829.7 1709.9,829.4 1710.3,829.1 1710.8,828.8 1711.3,828.5 1711.7,828.2 1712.2,827.9 1712.7,827.6 1713.2,827.3 1713.7,827.0 1714.2,826.7 1714.7,826.4 1715.3,826.0 1715.8,825.7 1716.3,825.4 1716.9,825.0 1717.4,824.7 1718.0,824.3 1718.5,823.9 1719.1,823.6 1719.7,823.2 1720.2,822.8 1720.8,822.4 1721.4,822.0 1722.0,821.6 1722.6,821.2 1723.3,820.8 1723.9,820.3 1724.5,819.9 1725.2,819.5 1725.8,819.1 1726.5,818.6 1727.2,818.2 1727.8,817.7 1728.5,817.2 1729.2,816.8 1729.9,816.3 1730.6,815.8 1731.4,815.3 1732.1,814.8 1732.8,814.3 1733.6,813.7 1734.4,813.2 1735.1,812.7 1735.9,812.1 1736.7,811.5 1737.5,811.0 1738.3,810.4 1739.2,809.8 1740.0,809.2 1740.9,808.6 1741.7,807.9 1742.6,807.3 1743.5,806.7 1744.4,806.0 1745.3,805.3 1746.3,804.7 1747.2,804.0 1748.2,803.3 1749.1,802.5 1750.1,801.8 1751.1,801.1 1752.1,800.3 1753.2,799.5 1754.2,798.8 1755.3,798.0 1756.3,797.2 1757.4,796.3 1758.5,795.5 1759.7,794.7 1760.8,793.8 1762.0,792.9 1763.1,792.0 1764.3,791.1 1765.5,790.2 1766.8,789.2 1768.0,788.3 1769.3,787.3 1770.6,786.3 1771.9,785.3 1773.2,784.3 1774.5,783.2 1775.9,782.2 1777.3,781.1 1778.7,780.0 1780.1,778.9 1781.6,777.7" stroke="#e1a223"/>
<polyline points="1341.7,842.9 1341.8,842.8 1342.4,842.8 1343.0,842.8 1343.6,842.8 1344.2,842.8 1344.8,842.8 1345.4,842.8 1346.0,842.8 1346.5,842.8 1347.1,842.8 1347.7,842.8 1348.3,842.8 1348.9,842.8 1349.5,842.8 1350.1,842.8 1350.7,842.8 1351.3,842.8 1351.9,842.8 1352.5,842.8 1353.1,842.8 1353.7,842.8 1354.3,842.8 1354.8,842.8 1355.4,842.8 1356.0,842.8 1356.6,842.8 1357.2,842.8 1357.8,842.8 1358.4,842.8 1359.0,842.8 1359.6,842.8 1360.2,842.8 1360.8,842.8 1361.4,842.8 1362.0,842.8 1362.6,842.8 1363.2,842.8 1363.7,842.8 1364.3,842.8 1364.9,842.8 1365.5,842.8 1366.1,842.8 1366.7,842.8 1367.3,842.8 1367.9,842.8 1368.5,842.8 1369.1,842.8 1369.7,842.8 1370.3,842.8 1370.9,842.8 1371.5,842.8 1372.0,842.8 1372.6,842.8 1373.2,842.8 1373.8,842.8 1374.4,842.8 1375.0,842.8 1375.6,842.8 1376.2,842.8 1376.8,842.8 1377.4,842.8 1378.0,842.8 1378.6,842.8 1379.2,842.8 1379.8,842.8 1380.3,842.8 1380.9,842.8 1381.5,842.8 1382.1,842.8 1382.7,842.8 1383.3,842.8 1383.9,842.8 1384.5,842.8 1385.1,842.8 1385.7,842.8 1386.3,842.8 1386.9,842.8 1387.5,842.8 1388.1,842.8 1388.7,842.8 1389.2,842.8 1389.8,842.8 1390.4,842.8 1391.0,842.8 1391.6,842.8 1392.2,842.8 1392.8,842.8 1393.4,842.8 1394.0,842.8 1394.6,842.8 1395.2,842.8 1395.8,842.8 1396.4,842.8 1397.0,842.8 1397.5,842.8 1398.1,842.8 1398.7,842.8 1399.3,842.8 1399.9,842.8 1400.5,842.8 1401.1,842.8 1401.7,842.8 1402.3,842.8 1402.9,842.8 1403.5,842.8 1404.1,842.8 1404.7,842.8 1405.3,842.8 1405.9,842.8 1406.4,842.8 1407.0,842.8 1407.6,842.8 1408.2,842.8 1408.8,842.8 1409.4,842.8 1410.0,842.8 1410.6,842.8 1411.2,842.8 1411.8,842.8 1412.4,842.8 1413.0,842.8 1413.6,842.8 1414.2,842.8 1414.7,842.8 1415.3,842.8 1415.9,842.8 1416.5,842.8 1417.1,842.8 1417.7,842.8 1418.3,842.8 1418.9,842.8 1419.5,842.8 1420.1,842.8 1420.7,842.8 1421.3,842.8 1421.9,842.8 1422.5,842.8 1423.1,842.8 1423.6,842.8 1424.2,842.8 1424.8,842.8 1425.4,842.8 1426.0,842.8 1426.6,842.8 1427.2,842.8 1427.8,842.8 1428.4,842.8 1429.0,842.8 1429.6,842.8 1430.2,842.8 1430.8,842.8 1431.4,842.8 1432.0,842.8 1432.5,842.8 1433.1,842.8 1433.7,842.8 1434.3,842.8 1434.9,842.8 1435.5,842.8 1436.1,842.8 1436.7,842.8 1437.3,842.8 1437.9,842.8 1438.5,842.8 1439.1,842.8 1439.7,842.8 1440.3,842.8 1440.9,842.8 1441.4,842.8 1442.0,842.8 1442.6,842.8 1443.2,842.8 1443.8,842.8 1444.4,842.8 1445.0,842.8 1445.6,842.8 1446.2,842.8 1446.8,842.8 1447.4,842.7 1448.0,842.7 1448.6,842.7 1449.2,842.7 1449.8,842.7 1450.3,842.7 1450.9,842.7 1451.5,842.7 1452.1,842.7 1452.7,842.7 1453.3,842.7 1453.9,842.7 1454.5,842.7 1455.1,842.7 1455.7,842.7 1456.3,842.7 1456.9,842.7 1457.5,842.7 1458.1,842.7 1458.7,842.7 1459.2,842.7 1459.8,842.7 1460.4,842.7 1461.0,842.7 1461.6,842.7 1462.2,842.7 1462.8,842.7 1463.4,842.7 1464.0,842.7 1464.6,842.7 1465.2,842.7 1465.8,842.7 1466.4,842.7 1467.0,842.7 1467.6,842.6 1468.2,842.6 1468.7,842.6 1469.3,842.6 1469.9,842.6 1470.5,842.6 1471.1,842.6 1471.7,842.6 1472.3,842.6 1472.9,842.6 1473.5,842.6 1474.1,842.6 1474.7,842.6 1475.3,842.6 1475.9,842.6 1476.5,842.6 1477.1,842.6 1477.7,842.6 1478.2,842.6 1478.8,842.6 1479.4,842.5 1480.0,842.5 1480.6,842.5 1481.2,842.5 1481.8,842.5 1482.4,842.5 1483.0,842.5 1483.6,842.5 1484.2,842.5 1484.8,842.5 1485.4,842.5 1486.0,842.5 1486.6,842.5 1487.2,842.5 1487.8,842.5 1488.4,842.4 1488.9,842.4 1489.5,842.4 1490.1,842.4 1490.7,842.4 1491.3,842.4 1491.9,842.4 1492.5,842.4 1493.1,842.4 1493.7,842.4 1494.3,842.4 1494.9,842.3 1495.5,842.3 1496.1,842.3 1496.7,842.3 1497.3,842.3 1497.9,842.3 1498.5,842.3 1499.1,842.3 1499.7,842.3 1500.2,842.2 1500.8,842.2 1501.4,842.2 1502.0,842.2 1502.6,842.2 1503.2,842.2 1503.8,842.2 1504.4,842.1 1505.0,842.1 1505.6,842.1 1506.2,842.1 1506.8,842.1 1507.4,842.1 1508.0,842.1 1508.6,842.0 1509.2,842.0 1509.8,842.0 1510.4,842.0 1511.0,842.0 1511.6,842.0 1512.2,841.9 1512.8,841.9 1513.4,841.9 1514.0,841.9 1514.5,841.9 1515.1,841.8 1515.7,841.8 1516.3,841.8 1516.9,841.8 1517.5,841.8 1518.1,841.7 1518.7,841.7 1519.3,841.7 1519.9,841.7 1520.5,841.6 1521.1,841.6 1521.7,841.6 1522.3,841.6 1522.9,841.5 1523.5,841.5 1524.1,841.5 1524.7,841.5 1525.3,841.4 1525.9,841.4 1526.5,841.4 1527.1,841.3 1527.7,841.3 1528.3,841.3 1528.9,841.2 1529.5,841.2 1530.1,841.2 1530.7,841.1 1531.3,841.1 1531.9,841.1 1532.5,841.0 1533.1,841.0 1533.7,841.0 1534.3,840.9 1534.9,840.9 1535.5,840.8 1536.1,840.8 1536.7,840.8 1537.3,840.7 1537.9,840.7 1538.5,840.6 1539.1,840.6 1539.7,840.5 1540.3,840.5 1540.9,840.4 1541.5,840.4 1542.1,840.4 1542.7,840.3 1543.3,840.2 1543.9,840.2 1544.5,840.1 1545.1,840.1 1545.7,840.0 1546.3,840.0 1546.9,839.9 1547.5,839.9 1548.1,839.8 1548.7,839.7 1549.3,839.7 1549.9,839.6 1550.5,839.5 1551.2,839.5 1551.8,839.4 1552.4,839.3 1553.0,839.3 1553.6,839.2 1554.2,839.1 1554.8,839.0 1555.4,839.0 1556.0,838.9 1556.6,838.8 1557.2,838.7 1557.8,838.6 1558.4,838.5 1559.0,838.5 1559.7,838.4 1560.3,838.3 1560.9,838.2 1561.5,838.1 1562.1,838.0 1562.7,837.9 1563.3,837.8 1563.9,837.7 1564.5,837.6 1565.2,837.5 1565.8,837.4 1566.4,837.3 1567.0,837.2 1567.6,837.0 1568.2,836.9 1568.8,836.8 1569.4,836.7 1570.1,836.5 1570.7,836.4 1571.3,836.3 1571.9,836.2 1572.5,836.0 1573.1,835.9 1573.8,835.7 1574.4,835.6 1575.0,835.4 1575.6,835.3 1576.2,835.1 1576.9,835.0 1577.5,834.8 1578.1,834.7 1578.7,834.5 1579.4,834.3 1580.0,834.2 1580.6,834.0 1581.2,833.8 1581.9,833.6 1582.5,833.4 1583.1,833.2 1583.7,833.0 1584.4,832.8 1585.0,832.6 1585.6,832.4 1586.3,832.2 1586.9,832.0 1587.5,831.8 1588.2,831.6 1588.8,831.3 1589.4,831.1 1590.1,830.9 1590.7,830.6 1591.3,830.4 1592.0,830.1 1592.6,829.9 1593.3,829.6 1593.9,829.3 1594.5,829.0 1595.2,828.8 1595.8,828.5 1596.5,828.2 1597.1,827.9 1597.8,827.6 1598.4,827.3 1599.1,827.0 1599.7,826.6 1600.4,826.3 1601.0,826.0 1601.7,825.6 1602.3,825.3 1603.0,824.9 1603.7,824.6 1604.3,824.2 1605.0,823.8 1605.6,823.4 1606.3,823.0 1607.0,822.6 1607.6,822.2 1608.3,821.8 1609.0,821.4 1609.6,820.9 1610.3,820.5 1611.0,820.0 1611.7,819.5 1612.4,819.0 1613.0,818.4 1613.7,817.9 1614.4,817.4 1615.1,816.8 1615.8,816.2 1616.5,815.7 1617.1,815.1 1617.8,814.5 1618.5,813.8 1619.2,813.2 1619.9,812.6 1620.6,811.9 1621.3,811.3 1622.0,810.6 1622.8,809.9 1623.5,809.2 1624.2,808.4 1624.9,807.7 1625.6,807.0 1626.3,806.2 1627.1,805.4 1627.8,804.6 1628.5,803.8 1629.2,803.0 1630.0,802.1 1630.7,801.2 1631.5,800.3 1632.2,799.4 1632.9,798.5 1633.7,797.6 1634.4,796.6 1635.2,795.6 1636.0,794.7 1636.7,793.6 1637.5,792.6 1638.3,791.5 1639.0,790.5 1639.8,789.3 1640.6,788.2 1641.4,787.1 1642.1,785.9 1642.9,784.7 1643.7,783.5 1644.5,782.2 1645.3,781.0 1646.1,779.7 1647.0,778.3 1647.8,777.0 1648.6,775.6 1649.4,774.2 1650.3,772.8 1651.1,771.3 1651.9,769.8 1652.8,768.3 1653.6,766.8 1654.5,765.2 1655.3,763.5 1656.2,761.9 1657.1,760.2 1658.0,758.5 1658.8,756.7 1659.7,755.0 1660.6,753.1 1661.5,751.3 1662.4,749.4 1663.4,747.4 1664.3,745.5 1665.2,743.4 1666.1,741.4 1667.1,739.3 1668.0,737.1 1669.0,734.9 1669.9,732.7 1670.9,730.4 1671.9,728.1 1672.9,725.7 1673.9,723.3 1674.9,720.9 1675.9,718.3 1676.9,715.8 1677.9,713.2 1679.0,710.5 1680.0,707.8 1681.1,705.0 1682.1,702.1 1683.2,699.2 1684.3,696.3 1685.4,693.3 1686.5,690.2 1687.6,687.0 1688.7,683.8 1689.9,680.6 1691.0,677.2 1692.2,673.8 1693.3,670.4 1694.5,666.8 1695.7,663.2 1696.9,659.5 1698.1,655.7 1699.4,651.9 1700.6,648.0 1701.9,644.0 1703.1,639.9 1704.4,635.8 1705.7,631.5 1707.0,627.2 1708.3,622.8 1709.7,618.2 1711.0,613.6 1712.4,609.0 1713.8,604.2 1715.2,599.3 1716.6,594.3 1718.1,589.2 1719.5,584.0 1721.0,578.7 1722.5,573.3 1724.0,567.8 1725.5,562.2 1727.1,556.4 1728.6,550.6 1730.2,544.6 1731.8,538.5 1733.4,532.3 1735.1,525.9 1736.7,519.5 1738.4,512.8 1740.1,506.1 1741.9,499.2 1743.6,492.2 1745.4,485.0 1747.2,477.7 1749.1,470.3 1750.9,462.7 1752.8,454.9 1754.7,447.0 1756.6,438.9 1758.6,430.7" stroke="#939812"/>
</g>
<rect x="1341.7" y="479.8" width="470.1" height="377.5" fill="none" stroke="#111" stroke-width="1.8"/>
<path d="M1341.7 857.3V860.8M1388.7 857.3V862.3M1435.7 857.3V860.8M1482.7 857.3V862.3M1529.7 857.3V860.8M1576.7 857.3V862.3M1623.7 857.3V860.8M1670.7 857.3V862.3M1717.7 857.3V860.8M1764.7 857.3V862.3M1811.7 857.3V860.8M1341.7 844.8H1334.7M1341.7 783.9H1337.7M1341.7 723H1334.7M1341.7 662.1H1337.7M1341.7 601.2H1334.7M1341.7 540.3H1337.7M1341.7 479.4H1334.7" stroke="#111" stroke-width="1.5" fill="none"/>
<g font-family="'Liberation Sans', Arial, sans-serif" font-size="16.6">
<text x="1388.7" y="883.2" text-anchor="middle">1.3</text>
<text x="1482.7" y="883.2" text-anchor="middle">1.4</text>
<text x="1576.7" y="883.2" text-anchor="middle">1.5</text>
<text x="1670.7" y="883.2" text-anchor="middle">1.6</text>
<text x="1764.7" y="883.2" text-anchor="middle">1.7</text>
<text x="1329" y="850.7" text-anchor="end">0</text>
<text x="1329" y="728.9" text-anchor="end">5</text>
<text x="1329" y="607.1" text-anchor="end">10</text>
<text x="1329" y="485.3" text-anchor="end">15</text>
</g>
<text x="1576.7" y="912.2" font-family="'Liberation Sans', Arial, sans-serif" font-size="19.4" text-anchor="middle">Potential (V vs. RHE)</text>
<text transform="translate(1287.8,654.8) rotate(-90)" font-family="'Liberation Sans', Arial, sans-serif" font-size="20" text-anchor="middle">Current density (mA&#183;cm<tspan font-size="13" dy="-8">-2</tspan><tspan font-size="13" dy="13">ECSA</tspan><tspan dy="-5">)</tspan></text>
<path d="M1375 513H1420.4" stroke="#4f4f4f" stroke-width="3.2"/>
<path d="M1375 537.2H1420.4" stroke="#e2424c" stroke-width="3.2"/>
<path d="M1375 561.5H1420.4" stroke="#2b6fd8" stroke-width="3.2"/>
<path d="M1375 585.6H1420.4" stroke="#3db071" stroke-width="3.2"/>
<path d="M1375 610.3H1420.4" stroke="#e1a223" stroke-width="3.2"/>
<path d="M1375 638.9H1420.4" stroke="#939812" stroke-width="3.2"/>
<path d="M1375 666.6H1420.4" stroke="#c28ce8" stroke-width="3.2"/>
<g font-family="'Liberation Sans', Arial, sans-serif" font-size="19.5">
<text x="1425" y="519.6">BSCF5582</text>
<text x="1425" y="543.9">BSCF1991</text>
<text x="1425" y="568">CSCF1946</text>
<text x="1425" y="592.1">RSCF1973</text>
<text x="1425" y="616">SrCoO<tspan font-size="13" dy="5">3</tspan></text>
<text x="1425" y="645">SrCo<tspan font-size="13" dy="5">0.6</tspan><tspan dy="-5">Ni</tspan><tspan font-size="13" dy="5">0.4</tspan><tspan dy="-5">O</tspan><tspan font-size="13" dy="5">3</tspan></text>
<text x="1425" y="673.1">RuO<tspan font-size="13" dy="5">2</tspan></text>
</g>
<g font-family="'Liberation Sans', Arial, sans-serif" font-size="19.6">
<text x="1558.8" y="521.4" fill="#1a1a1a"><tspan font-family="'Liberation Serif', 'DejaVu Serif', serif">&#951;</tspan>=412 mV</text>
<text x="1558.8" y="546.4" fill="#e5474f"><tspan font-family="'Liberation Serif', 'DejaVu Serif', serif">&#951;</tspan>=432 mV</text>
<text x="1558.8" y="571.5" fill="#2e6fd3"><tspan font-family="'Liberation Serif', 'DejaVu Serif', serif">&#951;</tspan>=378 mV</text>
<text x="1558.8" y="598.5" fill="#40b274"><tspan font-family="'Liberation Serif', 'DejaVu Serif', serif">&#951;</tspan>=349 mV</text>
<text x="1558.8" y="624" fill="#e0a22a"><tspan font-family="'Liberation Serif', 'DejaVu Serif', serif">&#951;</tspan>=425 mV</text>
<text x="1558.8" y="649.8" fill="#9c9c1e"><tspan font-family="'Liberation Serif', 'DejaVu Serif', serif">&#951;</tspan>=304 mV</text>
<text x="1558.8" y="675.4" fill="#c290e6"><tspan font-family="'Liberation Serif', 'DejaVu Serif', serif">&#951;</tspan>=412 mV</text>
</g></svg></body></html>
